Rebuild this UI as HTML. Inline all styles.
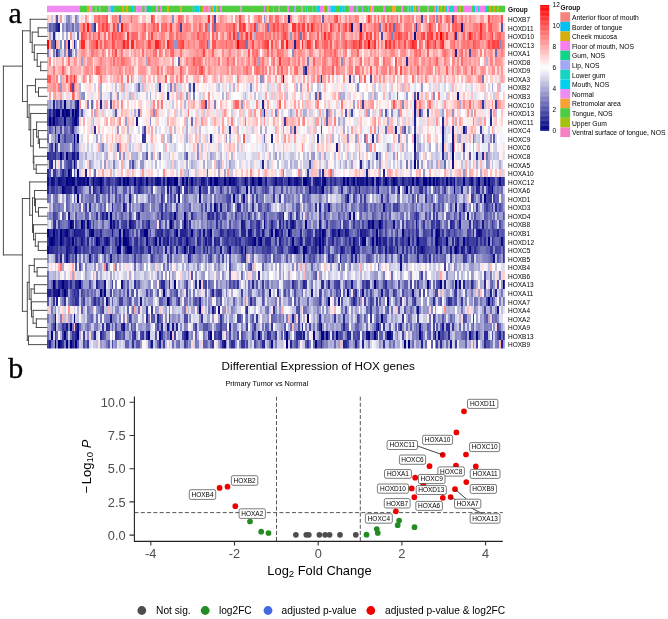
<!DOCTYPE html>
<html><head><meta charset="utf-8"><style>
html,body{margin:0;padding:0;background:#fff;overflow:hidden;}
svg{display:block;filter:blur(0.3px);}

</style></head><body>
<svg width="668" height="619" viewBox="0 0 668 619" style="font-family:'Liberation Sans',sans-serif">
<rect width="668" height="619" fill="#fff"/>
<text x="8.6" y="22.7" style="font-family:'Liberation Serif',serif" font-size="30" fill="#000" stroke="#000" stroke-width="0.35">a</text>
<text x="8.3" y="378" style="font-family:'Liberation Serif',serif" font-size="30" fill="#000" stroke="#000" stroke-width="0.35">b</text>
<rect x="47.0" y="5.7" width="32.9" height="6.5" fill="#EE8CF2"/><rect x="79.8" y="5.7" width="7.9" height="6.5" fill="#4FCC3F"/><rect x="87.5" y="5.7" width="1.9" height="6.5" fill="#D4AE0E"/><rect x="89.3" y="5.7" width="3.3" height="6.5" fill="#F77DF0"/><rect x="92.4" y="5.7" width="2.7" height="6.5" fill="#4FCC3F"/><rect x="95.0" y="5.7" width="1.4" height="6.5" fill="#F77DF0"/><rect x="96.3" y="5.7" width="2.9" height="6.5" fill="#4FCC3F"/><rect x="99.0" y="5.7" width="1.4" height="6.5" fill="#F77DF0"/><rect x="100.2" y="5.7" width="8.4" height="6.5" fill="#4FCC3F"/><rect x="108.5" y="5.7" width="2.1" height="6.5" fill="#F77DF0"/><rect x="110.5" y="5.7" width="3.9" height="6.5" fill="#00D2F0"/><rect x="114.2" y="5.7" width="7.9" height="6.5" fill="#4FCC3F"/><rect x="122.0" y="5.7" width="1.9" height="6.5" fill="#D4AE0E"/><rect x="123.8" y="5.7" width="2.1" height="6.5" fill="#4FCC3F"/><rect x="125.8" y="5.7" width="1.6" height="6.5" fill="#D4AE0E"/><rect x="127.3" y="5.7" width="3.9" height="6.5" fill="#4FCC3F"/><rect x="131.0" y="5.7" width="3.3" height="6.5" fill="#00D2F0"/><rect x="134.2" y="5.7" width="2.3" height="6.5" fill="#4FCC3F"/><rect x="136.3" y="5.7" width="6.0" height="6.5" fill="#F77DF0"/><rect x="142.2" y="5.7" width="2.6" height="6.5" fill="#4FCC3F"/><rect x="144.6" y="5.7" width="2.1" height="6.5" fill="#F77DF0"/><rect x="146.5" y="5.7" width="4.7" height="6.5" fill="#10D488"/><rect x="151.0" y="5.7" width="5.3" height="6.5" fill="#4FCC3F"/><rect x="156.2" y="5.7" width="2.0" height="6.5" fill="#F77DF0"/><rect x="158.0" y="5.7" width="2.1" height="6.5" fill="#4FCC3F"/><rect x="160.0" y="5.7" width="1.8" height="6.5" fill="#F77DF0"/><rect x="161.7" y="5.7" width="5.9" height="6.5" fill="#4FCC3F"/><rect x="167.4" y="5.7" width="1.7" height="6.5" fill="#D4AE0E"/><rect x="169.0" y="5.7" width="11.5" height="6.5" fill="#4FCC3F"/><rect x="180.3" y="5.7" width="1.8" height="6.5" fill="#D4AE0E"/><rect x="182.0" y="5.7" width="10.8" height="6.5" fill="#4FCC3F"/><rect x="192.7" y="5.7" width="2.0" height="6.5" fill="#00D2F0"/><rect x="194.5" y="5.7" width="1.6" height="6.5" fill="#4FCC3F"/><rect x="196.0" y="5.7" width="3.6" height="6.5" fill="#00D2F0"/><rect x="199.4" y="5.7" width="2.7" height="6.5" fill="#4FCC3F"/><rect x="202.0" y="5.7" width="1.1" height="6.5" fill="#D4AE0E"/><rect x="203.0" y="5.7" width="2.1" height="6.5" fill="#F77DF0"/><rect x="205.0" y="5.7" width="3.6" height="6.5" fill="#F8857C"/><rect x="208.5" y="5.7" width="2.1" height="6.5" fill="#F77DF0"/><rect x="210.5" y="5.7" width="1.6" height="6.5" fill="#4FCC3F"/><rect x="212.0" y="5.7" width="1.6" height="6.5" fill="#D4AE0E"/><rect x="213.5" y="5.7" width="1.6" height="6.5" fill="#00D2F0"/><rect x="215.0" y="5.7" width="1.6" height="6.5" fill="#4FCC3F"/><rect x="216.5" y="5.7" width="1.6" height="6.5" fill="#D4AE0E"/><rect x="218.0" y="5.7" width="2.1" height="6.5" fill="#4FCC3F"/><rect x="220.0" y="5.7" width="1.6" height="6.5" fill="#F77DF0"/><rect x="221.5" y="5.7" width="19.1" height="6.5" fill="#4FCC3F"/><rect x="240.5" y="5.7" width="1.3" height="6.5" fill="#F77DF0"/><rect x="241.7" y="5.7" width="22.5" height="6.5" fill="#4FCC3F"/><rect x="264.0" y="5.7" width="1.1" height="6.5" fill="#F77DF0"/><rect x="265.0" y="5.7" width="2.6" height="6.5" fill="#4FCC3F"/><rect x="267.5" y="5.7" width="1.5" height="6.5" fill="#D4AE0E"/><rect x="268.8" y="5.7" width="4.3" height="6.5" fill="#4FCC3F"/><rect x="273.0" y="5.7" width="1.1" height="6.5" fill="#F77DF0"/><rect x="274.0" y="5.7" width="4.8" height="6.5" fill="#4FCC3F"/><rect x="278.6" y="5.7" width="1.5" height="6.5" fill="#F77DF0"/><rect x="280.0" y="5.7" width="7.7" height="6.5" fill="#4FCC3F"/><rect x="287.5" y="5.7" width="1.6" height="6.5" fill="#F77DF0"/><rect x="289.0" y="5.7" width="5.2" height="6.5" fill="#4FCC3F"/><rect x="294.0" y="5.7" width="1.6" height="6.5" fill="#A2A8F5"/><rect x="295.5" y="5.7" width="6.2" height="6.5" fill="#4FCC3F"/><rect x="301.5" y="5.7" width="1.1" height="6.5" fill="#F77DF0"/><rect x="302.5" y="5.7" width="3.1" height="6.5" fill="#4FCC3F"/><rect x="305.5" y="5.7" width="2.1" height="6.5" fill="#10D488"/><rect x="307.5" y="5.7" width="3.6" height="6.5" fill="#4FCC3F"/><rect x="311.0" y="5.7" width="1.6" height="6.5" fill="#00D2F0"/><rect x="312.5" y="5.7" width="4.2" height="6.5" fill="#4FCC3F"/><rect x="316.5" y="5.7" width="3.6" height="6.5" fill="#00D2F0"/><rect x="320.0" y="5.7" width="3.6" height="6.5" fill="#F77DF0"/><rect x="323.5" y="5.7" width="1.6" height="6.5" fill="#D4AE0E"/><rect x="325.0" y="5.7" width="2.1" height="6.5" fill="#4FCC3F"/><rect x="327.0" y="5.7" width="1.6" height="6.5" fill="#A2A8F5"/><rect x="328.5" y="5.7" width="2.1" height="6.5" fill="#F77DF0"/><rect x="330.5" y="5.7" width="4.7" height="6.5" fill="#00D2F0"/><rect x="335.0" y="5.7" width="5.2" height="6.5" fill="#4FCC3F"/><rect x="340.0" y="5.7" width="2.8" height="6.5" fill="#00D2F0"/><rect x="342.7" y="5.7" width="1.8" height="6.5" fill="#4FCC3F"/><rect x="344.3" y="5.7" width="1.8" height="6.5" fill="#00D2F0"/><rect x="346.0" y="5.7" width="3.1" height="6.5" fill="#4FCC3F"/><rect x="349.0" y="5.7" width="5.2" height="6.5" fill="#F77DF0"/><rect x="354.0" y="5.7" width="2.1" height="6.5" fill="#4FCC3F"/><rect x="356.0" y="5.7" width="1.6" height="6.5" fill="#A2A8F5"/><rect x="357.5" y="5.7" width="4.7" height="6.5" fill="#4FCC3F"/><rect x="362.0" y="5.7" width="1.1" height="6.5" fill="#A2A8F5"/><rect x="363.0" y="5.7" width="5.7" height="6.5" fill="#4FCC3F"/><rect x="368.5" y="5.7" width="1.6" height="6.5" fill="#00D2F0"/><rect x="370.0" y="5.7" width="1.6" height="6.5" fill="#D4AE0E"/><rect x="371.5" y="5.7" width="2.1" height="6.5" fill="#F77DF0"/><rect x="373.5" y="5.7" width="10.2" height="6.5" fill="#4FCC3F"/><rect x="383.5" y="5.7" width="1.6" height="6.5" fill="#F77DF0"/><rect x="385.0" y="5.7" width="7.2" height="6.5" fill="#4FCC3F"/><rect x="392.0" y="5.7" width="4.2" height="6.5" fill="#F8A135"/><rect x="396.0" y="5.7" width="5.7" height="6.5" fill="#4FCC3F"/><rect x="401.5" y="5.7" width="1.6" height="6.5" fill="#F77DF0"/><rect x="403.0" y="5.7" width="4.2" height="6.5" fill="#4FCC3F"/><rect x="407.0" y="5.7" width="1.6" height="6.5" fill="#D4AE0E"/><rect x="408.5" y="5.7" width="2.1" height="6.5" fill="#00D2F0"/><rect x="410.5" y="5.7" width="1.6" height="6.5" fill="#4FCC3F"/><rect x="412.0" y="5.7" width="1.6" height="6.5" fill="#00D2F0"/><rect x="413.5" y="5.7" width="2.1" height="6.5" fill="#D4AE0E"/><rect x="415.5" y="5.7" width="2.6" height="6.5" fill="#4FCC3F"/><rect x="418.0" y="5.7" width="1.6" height="6.5" fill="#F77DF0"/><rect x="419.5" y="5.7" width="7.7" height="6.5" fill="#4FCC3F"/><rect x="427.0" y="5.7" width="1.6" height="6.5" fill="#F77DF0"/><rect x="428.5" y="5.7" width="5.7" height="6.5" fill="#4FCC3F"/><rect x="434.0" y="5.7" width="1.6" height="6.5" fill="#F8857C"/><rect x="435.5" y="5.7" width="1.6" height="6.5" fill="#00D2F0"/><rect x="437.0" y="5.7" width="1.6" height="6.5" fill="#F77DF0"/><rect x="438.5" y="5.7" width="1.6" height="6.5" fill="#4FCC3F"/><rect x="440.0" y="5.7" width="1.6" height="6.5" fill="#A4C20E"/><rect x="441.5" y="5.7" width="2.6" height="6.5" fill="#4FCC3F"/><rect x="444.0" y="5.7" width="2.1" height="6.5" fill="#D4AE0E"/><rect x="446.0" y="5.7" width="1.6" height="6.5" fill="#00D2F0"/><rect x="447.5" y="5.7" width="1.6" height="6.5" fill="#F77DF0"/><rect x="449.0" y="5.7" width="5.2" height="6.5" fill="#16D6C2"/><rect x="454.0" y="5.7" width="4.2" height="6.5" fill="#F77DF0"/><rect x="458.0" y="5.7" width="1.6" height="6.5" fill="#4FCC3F"/><rect x="459.5" y="5.7" width="1.6" height="6.5" fill="#D4AE0E"/><rect x="461.0" y="5.7" width="2.1" height="6.5" fill="#4FCC3F"/><rect x="463.0" y="5.7" width="9.2" height="6.5" fill="#F77DF0"/><rect x="472.0" y="5.7" width="2.1" height="6.5" fill="#4FCC3F"/><rect x="474.0" y="5.7" width="1.6" height="6.5" fill="#00D2F0"/><rect x="475.5" y="5.7" width="2.1" height="6.5" fill="#F77DF0"/><rect x="477.5" y="5.7" width="1.6" height="6.5" fill="#16D6C2"/><rect x="479.0" y="5.7" width="6.2" height="6.5" fill="#F77DF0"/><rect x="485.0" y="5.7" width="2.1" height="6.5" fill="#16D6C2"/><rect x="487.0" y="5.7" width="2.1" height="6.5" fill="#4FCC3F"/><rect x="489.0" y="5.7" width="2.1" height="6.5" fill="#D4AE0E"/><rect x="491.0" y="5.7" width="2.1" height="6.5" fill="#4FCC3F"/><rect x="493.0" y="5.7" width="2.1" height="6.5" fill="#D4AE0E"/><rect x="495.0" y="5.7" width="2.1" height="6.5" fill="#4FCC3F"/><rect x="497.0" y="5.7" width="2.1" height="6.5" fill="#A4C20E"/><rect x="499.0" y="5.7" width="6.0" height="6.5" fill="#4FCC3F"/>
<text x="508" y="12" font-size="6.6" font-weight="bold" fill="#111">Group</text>
<defs><filter id="bl" x="-0.01" y="-0.01" width="1.02" height="1.02"><feGaussianBlur stdDeviation="0.45 0.3"/></filter><clipPath id="hc"><rect x="47.00" y="14.60" width="457.80" height="333.90"/></clipPath></defs><g clip-path="url(#hc)"><g filter="url(#bl)"><g transform="translate(47.000 14.600) scale(1.89959 8.56154)" shape-rendering="crispEdges"><path fill="#000080" d="M11 3h1v1h-1zM9 10h1v1h-1zM5 11h2v1h-2zM8 11h1v1h-1zM10 11h1v1h-1zM13 11h1v1h-1zM15 11h1v1h-1zM1 12h1v1h-1zM3 12h1v1h-1zM9 12h1v1h-1zM15 12h1v1h-1zM14 14h1v1h-1zM16 14h1v1h-1zM193 14h1v1h-1zM7 16h1v1h-1zM10 16h1v1h-1zM213 16h1v1h-1zM14 17h1v1h-1zM193 17h1v1h-1zM11 18h1v1h-1zM16 18h1v1h-1zM10 19h1v1h-1zM13 19h1v1h-1zM21 19h1v1h-1zM24 19h1v1h-1zM28 19h1v1h-1zM40 19h1v1h-1zM42 19h1v1h-1zM46 19h1v1h-1zM52 19h1v1h-1zM63 19h1v1h-1zM67 19h2v1h-2zM71 19h1v1h-1zM73 19h1v1h-1zM76 19h1v1h-1zM86 19h1v1h-1zM88 19h2v1h-2zM93 19h1v1h-1zM96 19h1v1h-1zM104 19h1v1h-1zM108 19h1v1h-1zM111 19h2v1h-2zM127 19h1v1h-1zM135 19h2v1h-2zM146 19h1v1h-1zM156 19h1v1h-1zM158 19h1v1h-1zM161 19h1v1h-1zM168 19h1v1h-1zM171 19h1v1h-1zM174 19h1v1h-1zM178 19h1v1h-1zM182 19h1v1h-1zM192 19h1v1h-1zM198 19h2v1h-2zM201 19h1v1h-1zM203 19h1v1h-1zM210 19h1v1h-1zM219 19h1v1h-1zM227 19h1v1h-1zM230 19h1v1h-1zM232 19h1v1h-1zM8 20h1v1h-1zM15 20h1v1h-1zM80 20h1v1h-1zM105 20h1v1h-1zM145 20h1v1h-1zM189 20h1v1h-1zM214 20h1v1h-1zM234 20h1v1h-1zM16 21h1v1h-1zM98 21h1v1h-1zM230 21h1v1h-1zM88 22h1v1h-1zM33 23h1v1h-1zM67 23h1v1h-1zM72 23h1v1h-1zM12 24h1v1h-1zM18 24h1v1h-1zM21 24h1v1h-1zM33 24h1v1h-1zM65 24h1v1h-1zM72 24h1v1h-1zM114 24h1v1h-1zM136 24h1v1h-1zM171 24h1v1h-1zM175 24h1v1h-1zM0 25h1v1h-1zM3 25h1v1h-1zM7 25h1v1h-1zM10 25h1v1h-1zM23 25h2v1h-2zM38 25h1v1h-1zM40 25h1v1h-1zM51 25h2v1h-2zM68 25h1v1h-1zM76 25h1v1h-1zM86 25h1v1h-1zM118 25h1v1h-1zM120 25h1v1h-1zM127 25h1v1h-1zM145 25h1v1h-1zM153 25h1v1h-1zM173 25h1v1h-1zM187 25h1v1h-1zM205 25h1v1h-1zM2 26h1v1h-1zM7 26h1v1h-1zM13 26h1v1h-1zM26 26h1v1h-1zM38 26h1v1h-1zM40 26h2v1h-2zM57 26h1v1h-1zM109 26h1v1h-1zM112 26h1v1h-1zM129 26h1v1h-1zM143 26h1v1h-1zM166 26h2v1h-2zM171 26h1v1h-1zM173 26h1v1h-1zM190 26h1v1h-1zM195 26h1v1h-1zM205 26h1v1h-1zM210 26h1v1h-1zM219 26h1v1h-1zM232 26h1v1h-1zM15 27h1v1h-1zM29 27h1v1h-1zM37 27h2v1h-2zM42 27h3v1h-3zM72 27h1v1h-1zM77 27h1v1h-1zM96 27h1v1h-1zM104 27h1v1h-1zM130 27h1v1h-1zM135 27h1v1h-1zM143 27h1v1h-1zM161 27h1v1h-1zM215 27h1v1h-1zM3 31h1v1h-1zM8 31h1v1h-1zM17 31h1v1h-1zM67 31h1v1h-1zM172 31h1v1h-1zM200 31h1v1h-1zM207 31h1v1h-1zM215 31h1v1h-1zM240 31h1v1h-1zM6 32h1v1h-1zM9 32h1v1h-1zM28 32h1v1h-1zM30 32h1v1h-1zM61 32h1v1h-1zM158 32h1v1h-1zM63 33h1v1h-1zM148 33h1v1h-1zM232 33h1v1h-1zM80 34h1v1h-1zM14 35h1v1h-1zM137 35h1v1h-1zM176 35h1v1h-1zM4 36h1v1h-1zM12 36h1v1h-1zM144 36h1v1h-1zM174 36h1v1h-1zM2 37h1v1h-1zM9 37h1v1h-1zM16 37h1v1h-1zM53 37h1v1h-1zM59 37h1v1h-1zM73 37h1v1h-1zM86 37h1v1h-1zM111 37h1v1h-1zM126 37h1v1h-1zM140 37h1v1h-1zM144 37h2v1h-2zM147 37h1v1h-1zM152 37h1v1h-1zM169 37h1v1h-1zM172 37h1v1h-1zM179 37h2v1h-2zM196 37h1v1h-1zM206 37h1v1h-1zM226 37h1v1h-1zM4 38h1v1h-1zM6 38h1v1h-1zM10 38h1v1h-1zM12 38h1v1h-1zM15 38h1v1h-1zM126 38h1v1h-1zM141 38h1v1h-1zM188 38h1v1h-1zM190 38h1v1h-1z"/><path fill="#0b0b85" d="M165 1h1v1h-1zM193 2h1v1h-1zM16 10h1v1h-1zM11 11h1v1h-1zM14 12h1v1h-1zM6 14h1v1h-1zM4 15h1v1h-1zM193 15h1v1h-1zM0 19h1v1h-1zM2 19h1v1h-1zM6 19h1v1h-1zM11 19h2v1h-2zM14 19h1v1h-1zM17 19h1v1h-1zM19 19h1v1h-1zM38 19h1v1h-1zM49 19h1v1h-1zM58 19h1v1h-1zM64 19h1v1h-1zM98 19h1v1h-1zM120 19h1v1h-1zM131 19h1v1h-1zM145 19h1v1h-1zM163 19h1v1h-1zM173 19h1v1h-1zM194 19h2v1h-2zM205 19h1v1h-1zM214 19h1v1h-1zM223 19h1v1h-1zM238 19h1v1h-1zM174 20h1v1h-1zM69 21h1v1h-1zM80 21h1v1h-1zM103 21h1v1h-1zM148 22h1v1h-1zM177 22h1v1h-1zM159 23h1v1h-1zM161 23h1v1h-1zM221 23h1v1h-1zM43 24h1v1h-1zM129 24h1v1h-1zM169 24h1v1h-1zM182 24h1v1h-1zM14 25h1v1h-1zM34 25h1v1h-1zM82 25h1v1h-1zM206 25h1v1h-1zM227 25h1v1h-1zM1 26h1v1h-1zM3 26h1v1h-1zM31 26h1v1h-1zM42 26h1v1h-1zM52 26h1v1h-1zM59 26h1v1h-1zM73 26h1v1h-1zM145 26h1v1h-1zM161 26h1v1h-1zM239 26h1v1h-1zM0 27h1v1h-1zM54 27h1v1h-1zM131 27h1v1h-1zM136 27h1v1h-1zM184 27h1v1h-1zM197 27h1v1h-1zM222 27h1v1h-1zM10 28h1v1h-1zM74 28h1v1h-1zM154 28h1v1h-1zM235 28h1v1h-1zM186 29h1v1h-1zM30 31h1v1h-1zM39 31h1v1h-1zM80 31h1v1h-1zM217 31h1v1h-1zM166 32h1v1h-1zM192 32h1v1h-1zM31 33h1v1h-1zM179 33h1v1h-1zM90 34h1v1h-1zM195 34h1v1h-1zM16 36h1v1h-1zM40 36h1v1h-1zM63 36h1v1h-1zM65 37h1v1h-1zM168 37h1v1h-1zM204 37h1v1h-1zM222 37h1v1h-1zM93 38h1v1h-1zM118 38h1v1h-1z"/><path fill="#15158b" d="M127 0h1v1h-1zM6 1h1v1h-1zM160 1h1v1h-1zM218 1h1v1h-1zM4 3h1v1h-1zM124 7h1v1h-1zM216 9h1v1h-1zM193 10h1v1h-1zM3 11h1v1h-1zM9 11h1v1h-1zM16 11h1v1h-1zM193 11h1v1h-1zM47 12h1v1h-1zM208 13h1v1h-1zM219 13h1v1h-1zM208 14h1v1h-1zM213 14h1v1h-1zM152 15h1v1h-1zM208 15h1v1h-1zM213 15h1v1h-1zM13 16h2v1h-2zM16 16h1v1h-1zM213 17h1v1h-1zM3 19h1v1h-1zM7 19h1v1h-1zM16 19h1v1h-1zM18 19h1v1h-1zM27 19h1v1h-1zM41 19h1v1h-1zM57 19h1v1h-1zM59 19h1v1h-1zM61 19h1v1h-1zM65 19h1v1h-1zM81 19h2v1h-2zM97 19h1v1h-1zM115 19h1v1h-1zM130 19h1v1h-1zM141 19h2v1h-2zM165 19h2v1h-2zM183 19h1v1h-1zM187 19h1v1h-1zM212 19h1v1h-1zM9 20h1v1h-1zM24 20h1v1h-1zM28 20h1v1h-1zM63 20h1v1h-1zM69 20h1v1h-1zM138 20h1v1h-1zM164 20h1v1h-1zM185 20h1v1h-1zM43 21h1v1h-1zM158 21h1v1h-1zM40 22h1v1h-1zM91 22h1v1h-1zM215 22h1v1h-1zM219 22h1v1h-1zM11 23h1v1h-1zM31 23h1v1h-1zM124 23h1v1h-1zM13 24h1v1h-1zM35 24h1v1h-1zM102 24h1v1h-1zM143 24h1v1h-1zM194 24h1v1h-1zM217 24h1v1h-1zM229 24h1v1h-1zM9 25h1v1h-1zM22 25h1v1h-1zM106 25h2v1h-2zM113 25h1v1h-1zM121 25h1v1h-1zM143 25h1v1h-1zM146 25h1v1h-1zM150 25h1v1h-1zM157 25h1v1h-1zM165 25h1v1h-1zM228 25h1v1h-1zM11 26h1v1h-1zM18 26h1v1h-1zM27 26h1v1h-1zM63 26h1v1h-1zM83 26h1v1h-1zM108 26h1v1h-1zM111 26h1v1h-1zM122 26h1v1h-1zM133 26h1v1h-1zM141 26h1v1h-1zM175 26h1v1h-1zM204 26h1v1h-1zM216 26h1v1h-1zM10 27h1v1h-1zM62 27h1v1h-1zM68 27h1v1h-1zM91 27h1v1h-1zM102 27h1v1h-1zM155 27h1v1h-1zM160 27h1v1h-1zM178 27h1v1h-1zM205 27h1v1h-1zM207 27h1v1h-1zM212 27h1v1h-1zM218 27h1v1h-1zM22 28h1v1h-1zM33 28h1v1h-1zM135 28h1v1h-1zM186 28h1v1h-1zM160 31h1v1h-1zM3 32h3v1h-3zM117 32h1v1h-1zM139 32h1v1h-1zM176 32h1v1h-1zM49 33h1v1h-1zM153 33h1v1h-1zM87 34h1v1h-1zM237 34h1v1h-1zM4 35h1v1h-1zM33 35h1v1h-1zM10 36h1v1h-1zM66 36h1v1h-1zM196 36h1v1h-1zM208 36h1v1h-1zM135 37h1v1h-1zM7 38h1v1h-1zM55 38h1v1h-1zM212 38h1v1h-1z"/><path fill="#202090" d="M14 3h1v1h-1zM130 3h1v1h-1zM215 4h1v1h-1zM136 6h1v1h-1zM59 8h1v1h-1zM3 10h1v1h-1zM28 10h1v1h-1zM113 10h1v1h-1zM1 11h1v1h-1zM114 11h1v1h-1zM13 12h1v1h-1zM193 12h1v1h-1zM233 12h1v1h-1zM183 13h1v1h-1zM213 13h1v1h-1zM86 14h1v1h-1zM118 14h1v1h-1zM171 14h1v1h-1zM14 15h1v1h-1zM173 16h1v1h-1zM226 16h1v1h-1zM2 17h1v1h-1zM113 17h1v1h-1zM165 17h1v1h-1zM8 18h1v1h-1zM12 18h1v1h-1zM20 18h1v1h-1zM145 18h1v1h-1zM168 18h1v1h-1zM177 18h1v1h-1zM8 19h1v1h-1zM20 19h1v1h-1zM26 19h1v1h-1zM29 19h1v1h-1zM32 19h1v1h-1zM37 19h1v1h-1zM48 19h1v1h-1zM66 19h1v1h-1zM99 19h1v1h-1zM105 19h1v1h-1zM123 19h1v1h-1zM128 19h1v1h-1zM132 19h1v1h-1zM137 19h1v1h-1zM143 19h1v1h-1zM160 19h1v1h-1zM164 19h1v1h-1zM181 19h1v1h-1zM206 19h1v1h-1zM0 20h1v1h-1zM11 20h1v1h-1zM48 20h1v1h-1zM100 20h1v1h-1zM144 20h1v1h-1zM218 20h1v1h-1zM226 20h1v1h-1zM232 20h1v1h-1zM34 22h1v1h-1zM100 22h1v1h-1zM143 22h1v1h-1zM29 23h1v1h-1zM48 23h1v1h-1zM60 23h1v1h-1zM85 23h1v1h-1zM114 23h1v1h-1zM4 24h1v1h-1zM19 24h1v1h-1zM44 24h1v1h-1zM53 24h1v1h-1zM103 24h1v1h-1zM111 24h1v1h-1zM118 24h1v1h-1zM122 24h1v1h-1zM128 24h1v1h-1zM212 24h1v1h-1zM5 25h1v1h-1zM8 25h1v1h-1zM15 25h3v1h-3zM42 25h1v1h-1zM60 25h1v1h-1zM70 25h3v1h-3zM91 25h1v1h-1zM95 25h1v1h-1zM98 25h1v1h-1zM103 25h1v1h-1zM123 25h1v1h-1zM133 25h1v1h-1zM151 25h1v1h-1zM158 25h1v1h-1zM167 25h1v1h-1zM202 25h1v1h-1zM226 25h1v1h-1zM237 25h1v1h-1zM8 26h1v1h-1zM21 26h1v1h-1zM30 26h1v1h-1zM32 26h1v1h-1zM61 26h1v1h-1zM70 26h1v1h-1zM79 26h1v1h-1zM86 26h1v1h-1zM88 26h1v1h-1zM115 26h3v1h-3zM150 26h1v1h-1zM177 26h2v1h-2zM221 26h1v1h-1zM226 26h1v1h-1zM11 27h1v1h-1zM41 27h1v1h-1zM53 27h1v1h-1zM65 27h1v1h-1zM75 27h1v1h-1zM84 27h1v1h-1zM129 27h1v1h-1zM141 27h1v1h-1zM145 27h1v1h-1zM171 27h1v1h-1zM195 27h1v1h-1zM198 27h1v1h-1zM214 27h1v1h-1zM216 27h1v1h-1zM7 28h1v1h-1zM160 28h1v1h-1zM162 28h1v1h-1zM195 28h1v1h-1zM7 31h1v1h-1zM9 31h2v1h-2zM15 31h2v1h-2zM26 31h1v1h-1zM108 31h1v1h-1zM135 31h1v1h-1zM148 31h1v1h-1zM209 31h1v1h-1zM219 31h1v1h-1zM0 32h2v1h-2zM87 32h1v1h-1zM233 32h1v1h-1zM236 32h1v1h-1zM5 33h1v1h-1zM80 33h1v1h-1zM161 33h1v1h-1zM58 35h1v1h-1zM129 35h1v1h-1zM60 36h1v1h-1zM68 36h1v1h-1zM96 36h1v1h-1zM143 36h1v1h-1zM156 36h1v1h-1zM15 37h1v1h-1zM25 37h1v1h-1zM28 37h1v1h-1zM91 37h1v1h-1zM133 37h1v1h-1zM158 37h1v1h-1zM181 37h1v1h-1zM211 37h1v1h-1zM238 37h1v1h-1zM1 38h1v1h-1zM59 38h1v1h-1zM92 38h1v1h-1zM114 38h1v1h-1zM128 38h1v1h-1zM144 38h1v1h-1zM156 38h1v1h-1zM162 38h1v1h-1zM166 38h1v1h-1zM197 38h1v1h-1zM239 38h1v1h-1z"/><path fill="#2a2a95" d="M5 1h1v1h-1zM3 2h1v1h-1zM189 5h1v1h-1zM77 8h1v1h-1zM63 9h1v1h-1zM195 9h1v1h-1zM4 11h1v1h-1zM2 12h1v1h-1zM5 12h1v1h-1zM208 12h1v1h-1zM4 13h1v1h-1zM13 13h1v1h-1zM25 13h1v1h-1zM142 14h1v1h-1zM0 16h1v1h-1zM4 16h1v1h-1zM193 16h1v1h-1zM208 16h1v1h-1zM229 16h1v1h-1zM0 18h1v1h-1zM9 19h1v1h-1zM25 19h1v1h-1zM50 19h1v1h-1zM55 19h1v1h-1zM85 19h1v1h-1zM90 19h1v1h-1zM94 19h2v1h-2zM107 19h1v1h-1zM109 19h1v1h-1zM119 19h1v1h-1zM122 19h1v1h-1zM138 19h1v1h-1zM140 19h1v1h-1zM149 19h1v1h-1zM151 19h1v1h-1zM167 19h1v1h-1zM170 19h1v1h-1zM175 19h1v1h-1zM177 19h1v1h-1zM179 19h1v1h-1zM184 19h1v1h-1zM190 19h1v1h-1zM200 19h1v1h-1zM208 19h1v1h-1zM222 19h1v1h-1zM226 19h1v1h-1zM234 19h1v1h-1zM10 20h1v1h-1zM12 20h1v1h-1zM14 20h1v1h-1zM73 20h1v1h-1zM141 20h1v1h-1zM155 20h1v1h-1zM197 20h1v1h-1zM227 20h1v1h-1zM233 20h1v1h-1zM176 21h1v1h-1zM22 22h1v1h-1zM108 22h1v1h-1zM236 22h1v1h-1zM76 23h1v1h-1zM87 23h1v1h-1zM89 23h1v1h-1zM194 23h1v1h-1zM45 24h1v1h-1zM89 24h1v1h-1zM124 24h1v1h-1zM126 24h1v1h-1zM170 24h1v1h-1zM176 24h1v1h-1zM206 24h1v1h-1zM222 24h1v1h-1zM1 25h1v1h-1zM11 25h1v1h-1zM18 25h2v1h-2zM28 25h1v1h-1zM41 25h1v1h-1zM49 25h2v1h-2zM58 25h1v1h-1zM63 25h1v1h-1zM67 25h1v1h-1zM80 25h1v1h-1zM85 25h1v1h-1zM102 25h1v1h-1zM104 25h1v1h-1zM111 25h1v1h-1zM128 25h1v1h-1zM141 25h1v1h-1zM166 25h1v1h-1zM194 25h1v1h-1zM224 25h1v1h-1zM4 26h2v1h-2zM10 26h1v1h-1zM15 26h1v1h-1zM36 26h1v1h-1zM47 26h1v1h-1zM69 26h1v1h-1zM74 26h1v1h-1zM85 26h1v1h-1zM90 26h1v1h-1zM99 26h1v1h-1zM101 26h1v1h-1zM106 26h2v1h-2zM137 26h2v1h-2zM142 26h1v1h-1zM159 26h1v1h-1zM181 26h1v1h-1zM183 26h1v1h-1zM187 26h1v1h-1zM206 26h1v1h-1zM213 26h1v1h-1zM230 26h1v1h-1zM234 26h1v1h-1zM1 27h2v1h-2zM14 27h1v1h-1zM49 27h1v1h-1zM123 27h1v1h-1zM128 27h1v1h-1zM175 27h1v1h-1zM180 27h2v1h-2zM187 27h1v1h-1zM196 27h1v1h-1zM219 27h1v1h-1zM225 27h1v1h-1zM15 28h1v1h-1zM104 28h1v1h-1zM148 28h1v1h-1zM201 28h1v1h-1zM111 30h1v1h-1zM4 31h1v1h-1zM6 31h1v1h-1zM12 31h1v1h-1zM46 31h1v1h-1zM60 31h2v1h-2zM64 31h1v1h-1zM78 31h1v1h-1zM129 31h1v1h-1zM145 31h1v1h-1zM168 31h1v1h-1zM178 31h1v1h-1zM223 31h1v1h-1zM230 31h1v1h-1zM8 32h1v1h-1zM10 32h1v1h-1zM14 32h1v1h-1zM16 32h1v1h-1zM121 32h1v1h-1zM162 32h1v1h-1zM15 33h1v1h-1zM25 33h1v1h-1zM64 33h1v1h-1zM107 33h1v1h-1zM203 33h1v1h-1zM211 33h1v1h-1zM234 33h1v1h-1zM105 34h1v1h-1zM52 35h1v1h-1zM143 35h1v1h-1zM156 35h1v1h-1zM31 36h1v1h-1zM39 36h1v1h-1zM134 36h1v1h-1zM173 36h1v1h-1zM186 36h1v1h-1zM210 36h2v1h-2zM46 37h1v1h-1zM52 37h1v1h-1zM72 37h1v1h-1zM85 37h1v1h-1zM116 37h1v1h-1zM131 37h2v1h-2zM159 37h1v1h-1zM230 37h2v1h-2zM13 38h1v1h-1zM97 38h1v1h-1zM113 38h1v1h-1zM157 38h1v1h-1zM207 38h1v1h-1zM230 38h1v1h-1z"/><path fill="#35359a" d="M25 1h1v1h-1zM215 2h1v1h-1zM5 4h1v1h-1zM144 7h1v1h-1zM159 7h1v1h-1zM15 10h1v1h-1zM229 10h1v1h-1zM196 11h1v1h-1zM4 12h1v1h-1zM16 12h1v1h-1zM125 12h1v1h-1zM96 13h1v1h-1zM130 13h1v1h-1zM193 13h1v1h-1zM50 14h2v1h-2zM2 15h1v1h-1zM219 15h1v1h-1zM1 16h1v1h-1zM3 16h1v1h-1zM1 17h1v1h-1zM12 17h1v1h-1zM3 18h2v1h-2zM137 18h1v1h-1zM5 19h1v1h-1zM23 19h1v1h-1zM31 19h1v1h-1zM36 19h1v1h-1zM43 19h1v1h-1zM75 19h1v1h-1zM78 19h1v1h-1zM83 19h1v1h-1zM87 19h1v1h-1zM91 19h2v1h-2zM103 19h1v1h-1zM110 19h1v1h-1zM121 19h1v1h-1zM129 19h1v1h-1zM133 19h1v1h-1zM157 19h1v1h-1zM169 19h1v1h-1zM188 19h1v1h-1zM191 19h1v1h-1zM196 19h1v1h-1zM202 19h1v1h-1zM213 19h1v1h-1zM231 19h1v1h-1zM233 19h1v1h-1zM235 19h1v1h-1zM240 19h1v1h-1zM2 20h2v1h-2zM25 20h1v1h-1zM65 20h1v1h-1zM72 20h1v1h-1zM91 20h1v1h-1zM107 20h1v1h-1zM143 20h1v1h-1zM162 20h1v1h-1zM196 20h1v1h-1zM209 20h1v1h-1zM60 21h1v1h-1zM119 21h1v1h-1zM122 21h1v1h-1zM167 21h1v1h-1zM199 21h1v1h-1zM223 21h1v1h-1zM228 21h1v1h-1zM233 21h1v1h-1zM60 22h1v1h-1zM89 22h1v1h-1zM101 22h1v1h-1zM141 22h1v1h-1zM184 22h1v1h-1zM203 22h1v1h-1zM226 22h1v1h-1zM231 22h1v1h-1zM26 23h1v1h-1zM65 23h1v1h-1zM106 23h1v1h-1zM128 23h1v1h-1zM131 23h1v1h-1zM217 23h1v1h-1zM3 24h1v1h-1zM22 24h1v1h-1zM37 24h1v1h-1zM41 24h1v1h-1zM75 24h1v1h-1zM110 24h1v1h-1zM130 24h1v1h-1zM147 24h1v1h-1zM161 24h1v1h-1zM174 24h1v1h-1zM198 24h1v1h-1zM202 24h1v1h-1zM205 24h1v1h-1zM213 24h1v1h-1zM224 24h1v1h-1zM226 24h1v1h-1zM234 24h1v1h-1zM2 25h1v1h-1zM4 25h1v1h-1zM59 25h1v1h-1zM73 25h1v1h-1zM84 25h1v1h-1zM92 25h1v1h-1zM96 25h1v1h-1zM110 25h1v1h-1zM137 25h2v1h-2zM154 25h2v1h-2zM168 25h1v1h-1zM175 25h1v1h-1zM184 25h1v1h-1zM195 25h1v1h-1zM204 25h1v1h-1zM208 25h1v1h-1zM211 25h1v1h-1zM214 25h1v1h-1zM0 26h1v1h-1zM12 26h1v1h-1zM19 26h1v1h-1zM46 26h1v1h-1zM49 26h1v1h-1zM56 26h1v1h-1zM62 26h1v1h-1zM65 26h1v1h-1zM67 26h1v1h-1zM80 26h1v1h-1zM89 26h1v1h-1zM94 26h2v1h-2zM120 26h1v1h-1zM136 26h1v1h-1zM140 26h1v1h-1zM146 26h1v1h-1zM162 26h1v1h-1zM165 26h1v1h-1zM174 26h1v1h-1zM184 26h1v1h-1zM192 26h1v1h-1zM194 26h1v1h-1zM196 26h1v1h-1zM198 26h2v1h-2zM207 26h1v1h-1zM215 26h1v1h-1zM224 26h1v1h-1zM228 26h1v1h-1zM3 27h1v1h-1zM5 27h1v1h-1zM12 27h1v1h-1zM16 27h2v1h-2zM19 27h1v1h-1zM23 27h1v1h-1zM47 27h1v1h-1zM50 27h1v1h-1zM76 27h1v1h-1zM82 27h1v1h-1zM95 27h1v1h-1zM116 27h2v1h-2zM139 27h2v1h-2zM154 27h1v1h-1zM156 27h1v1h-1zM163 27h1v1h-1zM174 27h1v1h-1zM189 27h1v1h-1zM193 27h1v1h-1zM221 27h1v1h-1zM233 27h2v1h-2zM240 27h1v1h-1zM5 28h1v1h-1zM46 28h1v1h-1zM55 28h1v1h-1zM75 28h1v1h-1zM150 28h1v1h-1zM219 28h1v1h-1zM240 28h1v1h-1zM100 31h1v1h-1zM113 31h1v1h-1zM136 31h1v1h-1zM144 31h1v1h-1zM153 31h1v1h-1zM169 31h1v1h-1zM42 32h1v1h-1zM90 32h1v1h-1zM182 32h1v1h-1zM215 32h1v1h-1zM3 33h1v1h-1zM9 33h1v1h-1zM16 33h1v1h-1zM69 33h1v1h-1zM173 33h1v1h-1zM186 33h1v1h-1zM193 33h1v1h-1zM212 33h1v1h-1zM218 33h1v1h-1zM52 34h1v1h-1zM55 34h1v1h-1zM119 34h1v1h-1zM170 34h1v1h-1zM81 35h1v1h-1zM91 35h1v1h-1zM110 35h1v1h-1zM151 35h1v1h-1zM170 35h1v1h-1zM187 35h1v1h-1zM224 35h1v1h-1zM8 36h1v1h-1zM15 36h1v1h-1zM29 36h1v1h-1zM32 36h1v1h-1zM91 36h1v1h-1zM109 36h1v1h-1zM118 36h1v1h-1zM177 36h1v1h-1zM213 36h1v1h-1zM13 37h1v1h-1zM36 37h1v1h-1zM50 37h1v1h-1zM60 37h1v1h-1zM90 37h1v1h-1zM108 37h1v1h-1zM117 37h1v1h-1zM120 37h1v1h-1zM150 37h1v1h-1zM240 37h1v1h-1zM8 38h1v1h-1zM21 38h1v1h-1zM45 38h1v1h-1zM87 38h1v1h-1zM98 38h1v1h-1zM102 38h2v1h-2zM137 38h1v1h-1zM177 38h1v1h-1z"/><path fill="#4040a0" d="M213 0h1v1h-1zM70 1h1v1h-1zM194 1h1v1h-1zM11 4h1v1h-1zM166 10h1v1h-1zM236 10h1v1h-1zM200 11h1v1h-1zM6 12h1v1h-1zM51 13h1v1h-1zM228 13h1v1h-1zM9 14h1v1h-1zM2 16h1v1h-1zM8 16h1v1h-1zM15 16h1v1h-1zM11 17h1v1h-1zM1 19h1v1h-1zM15 19h1v1h-1zM34 19h1v1h-1zM44 19h2v1h-2zM47 19h1v1h-1zM53 19h1v1h-1zM72 19h1v1h-1zM77 19h1v1h-1zM80 19h1v1h-1zM100 19h1v1h-1zM118 19h1v1h-1zM125 19h2v1h-2zM147 19h1v1h-1zM154 19h2v1h-2zM159 19h1v1h-1zM162 19h1v1h-1zM186 19h1v1h-1zM189 19h1v1h-1zM204 19h1v1h-1zM211 19h1v1h-1zM216 19h1v1h-1zM224 19h1v1h-1zM237 19h1v1h-1zM239 19h1v1h-1zM22 20h1v1h-1zM29 20h1v1h-1zM32 20h1v1h-1zM34 20h1v1h-1zM36 20h1v1h-1zM49 20h1v1h-1zM68 20h1v1h-1zM76 20h1v1h-1zM83 20h1v1h-1zM109 20h1v1h-1zM115 20h1v1h-1zM140 20h1v1h-1zM159 20h1v1h-1zM191 20h1v1h-1zM26 21h1v1h-1zM67 21h1v1h-1zM96 21h1v1h-1zM110 21h1v1h-1zM161 21h1v1h-1zM232 21h1v1h-1zM235 21h1v1h-1zM20 22h1v1h-1zM50 22h1v1h-1zM68 22h1v1h-1zM83 22h1v1h-1zM86 22h1v1h-1zM95 22h1v1h-1zM167 22h1v1h-1zM182 22h1v1h-1zM234 22h1v1h-1zM3 23h1v1h-1zM43 23h1v1h-1zM84 23h1v1h-1zM86 23h1v1h-1zM99 23h1v1h-1zM122 23h1v1h-1zM195 23h1v1h-1zM203 23h1v1h-1zM205 23h1v1h-1zM6 24h1v1h-1zM11 24h1v1h-1zM15 24h1v1h-1zM24 24h1v1h-1zM34 24h1v1h-1zM40 24h1v1h-1zM46 24h1v1h-1zM52 24h1v1h-1zM59 24h1v1h-1zM66 24h1v1h-1zM107 24h1v1h-1zM154 24h1v1h-1zM156 24h1v1h-1zM166 24h1v1h-1zM187 24h1v1h-1zM203 24h1v1h-1zM13 25h1v1h-1zM62 25h1v1h-1zM97 25h1v1h-1zM117 25h1v1h-1zM142 25h1v1h-1zM152 25h1v1h-1zM163 25h1v1h-1zM190 25h1v1h-1zM198 25h1v1h-1zM221 25h1v1h-1zM235 25h1v1h-1zM6 26h1v1h-1zM9 26h1v1h-1zM17 26h1v1h-1zM43 26h1v1h-1zM72 26h1v1h-1zM75 26h1v1h-1zM93 26h1v1h-1zM97 26h1v1h-1zM100 26h1v1h-1zM104 26h2v1h-2zM132 26h1v1h-1zM134 26h1v1h-1zM152 26h1v1h-1zM157 26h1v1h-1zM163 26h1v1h-1zM176 26h1v1h-1zM180 26h1v1h-1zM186 26h1v1h-1zM189 26h1v1h-1zM197 26h1v1h-1zM220 26h1v1h-1zM222 26h2v1h-2zM225 26h1v1h-1zM4 27h1v1h-1zM7 27h1v1h-1zM24 27h1v1h-1zM46 27h1v1h-1zM71 27h1v1h-1zM73 27h1v1h-1zM88 27h1v1h-1zM101 27h1v1h-1zM108 27h1v1h-1zM113 27h1v1h-1zM122 27h1v1h-1zM127 27h1v1h-1zM132 27h1v1h-1zM144 27h1v1h-1zM148 27h1v1h-1zM162 27h1v1h-1zM164 27h1v1h-1zM191 27h1v1h-1zM199 27h1v1h-1zM204 27h1v1h-1zM210 27h1v1h-1zM236 27h1v1h-1zM11 28h1v1h-1zM63 28h1v1h-1zM86 28h1v1h-1zM92 28h1v1h-1zM103 28h1v1h-1zM199 28h1v1h-1zM212 28h1v1h-1zM220 28h1v1h-1zM224 28h1v1h-1zM31 29h1v1h-1zM96 29h1v1h-1zM209 29h1v1h-1zM197 30h1v1h-1zM34 31h1v1h-1zM73 31h1v1h-1zM83 31h1v1h-1zM152 31h1v1h-1zM166 31h1v1h-1zM191 31h1v1h-1zM195 31h1v1h-1zM206 31h1v1h-1zM15 32h1v1h-1zM33 32h1v1h-1zM52 32h1v1h-1zM68 32h1v1h-1zM73 32h1v1h-1zM91 32h1v1h-1zM102 32h1v1h-1zM143 32h1v1h-1zM154 32h1v1h-1zM179 32h1v1h-1zM19 33h1v1h-1zM27 33h1v1h-1zM38 33h2v1h-2zM143 33h1v1h-1zM167 33h1v1h-1zM170 33h1v1h-1zM29 34h1v1h-1zM43 35h1v1h-1zM64 35h1v1h-1zM100 35h1v1h-1zM163 35h1v1h-1zM195 35h1v1h-1zM203 35h1v1h-1zM3 36h1v1h-1zM58 36h1v1h-1zM78 36h1v1h-1zM105 36h1v1h-1zM237 36h1v1h-1zM4 37h1v1h-1zM8 37h1v1h-1zM19 37h1v1h-1zM37 37h1v1h-1zM45 37h1v1h-1zM88 37h1v1h-1zM154 37h1v1h-1zM163 37h2v1h-2zM173 37h1v1h-1zM187 37h1v1h-1zM197 37h1v1h-1zM208 37h1v1h-1zM0 38h1v1h-1zM61 38h1v1h-1zM72 38h1v1h-1zM131 38h1v1h-1zM205 38h1v1h-1zM215 38h1v1h-1z"/><path fill="#4a4aa5" d="M88 0h1v1h-1zM197 0h1v1h-1zM4 1h1v1h-1zM176 2h1v1h-1zM222 4h1v1h-1zM170 7h1v1h-1zM13 8h1v1h-1zM7 10h1v1h-1zM33 10h1v1h-1zM83 10h1v1h-1zM14 11h1v1h-1zM48 11h1v1h-1zM160 11h1v1h-1zM233 11h1v1h-1zM0 12h1v1h-1zM7 12h1v1h-1zM12 12h1v1h-1zM7 13h1v1h-1zM12 13h1v1h-1zM144 13h1v1h-1zM229 14h1v1h-1zM37 15h1v1h-1zM11 16h2v1h-2zM45 17h1v1h-1zM138 17h1v1h-1zM195 17h1v1h-1zM9 18h1v1h-1zM4 19h1v1h-1zM33 19h1v1h-1zM39 19h1v1h-1zM51 19h1v1h-1zM54 19h1v1h-1zM56 19h1v1h-1zM102 19h1v1h-1zM113 19h2v1h-2zM150 19h1v1h-1zM152 19h1v1h-1zM193 19h1v1h-1zM197 19h1v1h-1zM207 19h1v1h-1zM209 19h1v1h-1zM217 19h1v1h-1zM229 19h1v1h-1zM5 20h1v1h-1zM16 20h1v1h-1zM46 20h1v1h-1zM55 20h1v1h-1zM82 20h1v1h-1zM84 20h1v1h-1zM87 20h1v1h-1zM99 20h1v1h-1zM119 20h1v1h-1zM123 20h1v1h-1zM139 20h1v1h-1zM149 20h1v1h-1zM173 20h1v1h-1zM199 20h1v1h-1zM204 20h1v1h-1zM224 20h1v1h-1zM229 20h1v1h-1zM32 21h1v1h-1zM36 21h1v1h-1zM65 21h1v1h-1zM95 21h1v1h-1zM108 21h1v1h-1zM157 21h1v1h-1zM165 21h1v1h-1zM179 21h1v1h-1zM192 21h1v1h-1zM224 21h1v1h-1zM231 21h1v1h-1zM41 22h1v1h-1zM62 22h1v1h-1zM111 22h1v1h-1zM116 22h1v1h-1zM183 22h1v1h-1zM238 22h1v1h-1zM4 23h1v1h-1zM30 23h1v1h-1zM47 23h1v1h-1zM64 23h1v1h-1zM90 23h1v1h-1zM93 23h1v1h-1zM143 23h1v1h-1zM146 23h1v1h-1zM176 23h1v1h-1zM193 23h1v1h-1zM199 23h1v1h-1zM214 23h1v1h-1zM225 23h1v1h-1zM39 24h1v1h-1zM50 24h1v1h-1zM64 24h1v1h-1zM73 24h1v1h-1zM91 24h1v1h-1zM96 24h1v1h-1zM157 24h1v1h-1zM164 24h1v1h-1zM172 24h2v1h-2zM178 24h1v1h-1zM189 24h1v1h-1zM214 24h1v1h-1zM238 24h1v1h-1zM6 25h1v1h-1zM26 25h1v1h-1zM47 25h1v1h-1zM54 25h1v1h-1zM57 25h1v1h-1zM64 25h1v1h-1zM75 25h1v1h-1zM99 25h1v1h-1zM114 25h1v1h-1zM122 25h1v1h-1zM139 25h1v1h-1zM144 25h1v1h-1zM149 25h1v1h-1zM156 25h1v1h-1zM169 25h1v1h-1zM171 25h1v1h-1zM178 25h1v1h-1zM192 25h1v1h-1zM199 25h1v1h-1zM210 25h1v1h-1zM222 25h1v1h-1zM229 25h2v1h-2zM232 25h1v1h-1zM236 25h1v1h-1zM25 26h1v1h-1zM28 26h1v1h-1zM37 26h1v1h-1zM44 26h1v1h-1zM53 26h1v1h-1zM82 26h1v1h-1zM98 26h1v1h-1zM123 26h2v1h-2zM126 26h1v1h-1zM128 26h1v1h-1zM144 26h1v1h-1zM148 26h2v1h-2zM170 26h1v1h-1zM202 26h1v1h-1zM209 26h1v1h-1zM240 26h1v1h-1zM13 27h1v1h-1zM20 27h2v1h-2zM25 27h2v1h-2zM30 27h1v1h-1zM58 27h1v1h-1zM86 27h1v1h-1zM114 27h2v1h-2zM121 27h1v1h-1zM137 27h1v1h-1zM152 27h1v1h-1zM176 27h1v1h-1zM182 27h1v1h-1zM200 27h1v1h-1zM223 27h1v1h-1zM226 27h1v1h-1zM237 27h2v1h-2zM26 28h1v1h-1zM65 28h1v1h-1zM102 28h1v1h-1zM138 28h1v1h-1zM140 28h1v1h-1zM169 28h1v1h-1zM178 28h1v1h-1zM188 28h2v1h-2zM198 28h1v1h-1zM17 29h1v1h-1zM107 29h1v1h-1zM230 30h1v1h-1zM22 31h1v1h-1zM96 31h1v1h-1zM98 31h1v1h-1zM151 31h1v1h-1zM157 31h1v1h-1zM177 31h1v1h-1zM185 31h1v1h-1zM237 31h1v1h-1zM2 32h1v1h-1zM13 32h1v1h-1zM18 32h1v1h-1zM89 32h1v1h-1zM125 32h1v1h-1zM130 32h1v1h-1zM152 32h1v1h-1zM170 32h1v1h-1zM187 32h1v1h-1zM196 32h1v1h-1zM198 32h1v1h-1zM204 32h2v1h-2zM214 32h1v1h-1zM13 33h1v1h-1zM24 33h1v1h-1zM43 33h1v1h-1zM78 33h1v1h-1zM162 33h1v1h-1zM215 33h1v1h-1zM231 33h1v1h-1zM132 34h1v1h-1zM157 34h1v1h-1zM230 34h1v1h-1zM72 35h2v1h-2zM101 35h1v1h-1zM132 35h1v1h-1zM219 35h1v1h-1zM9 36h1v1h-1zM44 36h1v1h-1zM84 36h1v1h-1zM132 36h1v1h-1zM138 36h1v1h-1zM203 36h1v1h-1zM14 37h1v1h-1zM29 37h1v1h-1zM40 37h1v1h-1zM49 37h1v1h-1zM67 37h1v1h-1zM71 37h1v1h-1zM96 37h1v1h-1zM100 37h1v1h-1zM102 37h1v1h-1zM112 37h1v1h-1zM148 37h1v1h-1zM161 37h1v1h-1zM203 37h1v1h-1zM207 37h1v1h-1zM220 37h1v1h-1zM223 37h1v1h-1zM234 37h1v1h-1zM237 37h1v1h-1zM19 38h1v1h-1zM34 38h1v1h-1zM105 38h1v1h-1zM109 38h1v1h-1zM158 38h1v1h-1zM226 38h1v1h-1z"/><path fill="#5555aa" d="M5 0h1v1h-1zM239 1h1v1h-1zM3 3h1v1h-1zM12 4h1v1h-1zM143 9h1v1h-1zM193 9h1v1h-1zM0 11h1v1h-1zM2 11h1v1h-1zM18 11h1v1h-1zM36 11h1v1h-1zM157 11h1v1h-1zM178 11h1v1h-1zM8 12h1v1h-1zM11 12h1v1h-1zM1 13h1v1h-1zM188 13h1v1h-1zM235 14h1v1h-1zM5 15h1v1h-1zM6 16h1v1h-1zM52 16h1v1h-1zM73 16h1v1h-1zM222 16h1v1h-1zM4 17h1v1h-1zM10 17h1v1h-1zM15 17h1v1h-1zM1 18h1v1h-1zM7 18h1v1h-1zM35 19h1v1h-1zM60 19h1v1h-1zM62 19h1v1h-1zM70 19h1v1h-1zM79 19h1v1h-1zM117 19h1v1h-1zM124 19h1v1h-1zM148 19h1v1h-1zM153 19h1v1h-1zM180 19h1v1h-1zM185 19h1v1h-1zM218 19h1v1h-1zM220 19h2v1h-2zM228 19h1v1h-1zM7 20h1v1h-1zM17 20h1v1h-1zM26 20h1v1h-1zM30 20h1v1h-1zM40 20h2v1h-2zM43 20h1v1h-1zM47 20h1v1h-1zM50 20h1v1h-1zM75 20h1v1h-1zM86 20h1v1h-1zM95 20h1v1h-1zM97 20h1v1h-1zM113 20h1v1h-1zM116 20h1v1h-1zM142 20h1v1h-1zM168 20h1v1h-1zM171 20h1v1h-1zM181 20h2v1h-2zM188 20h1v1h-1zM206 20h1v1h-1zM231 20h1v1h-1zM38 21h1v1h-1zM94 21h1v1h-1zM195 21h1v1h-1zM43 22h1v1h-1zM59 22h1v1h-1zM75 22h1v1h-1zM81 22h1v1h-1zM112 22h1v1h-1zM131 22h2v1h-2zM206 22h1v1h-1zM208 22h1v1h-1zM212 22h1v1h-1zM230 22h1v1h-1zM232 22h1v1h-1zM5 23h1v1h-1zM8 23h1v1h-1zM15 23h1v1h-1zM20 23h1v1h-1zM28 23h1v1h-1zM39 23h1v1h-1zM62 23h1v1h-1zM66 23h1v1h-1zM92 23h1v1h-1zM102 23h1v1h-1zM109 23h1v1h-1zM123 23h1v1h-1zM171 23h1v1h-1zM180 23h1v1h-1zM201 23h1v1h-1zM230 23h1v1h-1zM240 23h1v1h-1zM36 24h1v1h-1zM62 24h1v1h-1zM71 24h1v1h-1zM104 24h1v1h-1zM108 24h1v1h-1zM119 24h1v1h-1zM150 24h1v1h-1zM158 24h1v1h-1zM192 24h1v1h-1zM225 24h1v1h-1zM12 25h1v1h-1zM25 25h1v1h-1zM27 25h1v1h-1zM45 25h1v1h-1zM79 25h1v1h-1zM93 25h2v1h-2zM100 25h1v1h-1zM108 25h1v1h-1zM172 25h1v1h-1zM176 25h1v1h-1zM188 25h1v1h-1zM200 25h1v1h-1zM215 25h1v1h-1zM234 25h1v1h-1zM239 25h2v1h-2zM14 26h1v1h-1zM16 26h1v1h-1zM23 26h1v1h-1zM29 26h1v1h-1zM39 26h1v1h-1zM50 26h1v1h-1zM55 26h1v1h-1zM66 26h1v1h-1zM71 26h1v1h-1zM76 26h2v1h-2zM84 26h1v1h-1zM92 26h1v1h-1zM96 26h1v1h-1zM110 26h1v1h-1zM113 26h1v1h-1zM131 26h1v1h-1zM153 26h1v1h-1zM188 26h1v1h-1zM208 26h1v1h-1zM229 26h1v1h-1zM235 26h1v1h-1zM238 26h1v1h-1zM6 27h1v1h-1zM8 27h2v1h-2zM27 27h2v1h-2zM34 27h1v1h-1zM36 27h1v1h-1zM40 27h1v1h-1zM48 27h1v1h-1zM56 27h1v1h-1zM80 27h1v1h-1zM99 27h1v1h-1zM110 27h1v1h-1zM158 27h1v1h-1zM172 27h1v1h-1zM201 27h2v1h-2zM4 28h1v1h-1zM9 28h1v1h-1zM13 28h1v1h-1zM30 28h1v1h-1zM37 28h1v1h-1zM49 28h1v1h-1zM85 28h1v1h-1zM90 28h1v1h-1zM96 28h1v1h-1zM115 28h1v1h-1zM119 28h1v1h-1zM126 28h1v1h-1zM164 28h1v1h-1zM168 28h1v1h-1zM203 28h1v1h-1zM209 28h1v1h-1zM223 28h1v1h-1zM234 28h1v1h-1zM237 28h1v1h-1zM15 29h1v1h-1zM76 30h1v1h-1zM141 30h1v1h-1zM11 31h1v1h-1zM27 31h1v1h-1zM48 31h1v1h-1zM82 31h1v1h-1zM110 31h1v1h-1zM130 31h1v1h-1zM167 31h1v1h-1zM205 31h1v1h-1zM224 31h1v1h-1zM7 32h1v1h-1zM29 32h1v1h-1zM45 32h1v1h-1zM54 32h1v1h-1zM58 32h1v1h-1zM113 32h1v1h-1zM144 32h1v1h-1zM161 32h1v1h-1zM178 32h1v1h-1zM183 32h1v1h-1zM0 33h1v1h-1zM14 33h1v1h-1zM29 33h1v1h-1zM59 33h1v1h-1zM91 33h1v1h-1zM109 33h1v1h-1zM113 33h1v1h-1zM130 33h1v1h-1zM155 33h1v1h-1zM160 33h1v1h-1zM164 33h1v1h-1zM171 33h1v1h-1zM175 33h1v1h-1zM192 33h1v1h-1zM207 33h1v1h-1zM214 33h1v1h-1zM88 34h1v1h-1zM131 34h1v1h-1zM179 34h1v1h-1zM185 34h1v1h-1zM188 34h1v1h-1zM55 35h2v1h-2zM59 35h1v1h-1zM108 35h1v1h-1zM173 35h1v1h-1zM208 35h1v1h-1zM220 35h1v1h-1zM231 35h1v1h-1zM36 36h1v1h-1zM82 36h2v1h-2zM94 36h1v1h-1zM125 36h1v1h-1zM185 36h1v1h-1zM200 36h1v1h-1zM205 36h1v1h-1zM38 37h1v1h-1zM57 37h1v1h-1zM74 37h1v1h-1zM89 37h1v1h-1zM125 37h1v1h-1zM146 37h1v1h-1zM153 37h1v1h-1zM155 37h1v1h-1zM162 37h1v1h-1zM166 37h1v1h-1zM171 37h1v1h-1zM178 37h1v1h-1zM201 37h1v1h-1zM14 38h1v1h-1zM32 38h1v1h-1zM47 38h2v1h-2zM54 38h1v1h-1zM136 38h1v1h-1zM143 38h1v1h-1zM231 38h2v1h-2z"/><path fill="#6060b0" d="M145 0h1v1h-1zM1 1h1v1h-1zM3 1h1v1h-1zM16 2h1v1h-1zM69 5h1v1h-1zM135 6h1v1h-1zM48 8h1v1h-1zM141 9h1v1h-1zM7 11h1v1h-1zM12 11h1v1h-1zM147 11h1v1h-1zM10 12h1v1h-1zM147 12h1v1h-1zM9 13h1v1h-1zM220 13h1v1h-1zM1 15h1v1h-1zM5 16h1v1h-1zM10 18h1v1h-1zM14 18h1v1h-1zM84 18h1v1h-1zM22 19h1v1h-1zM30 19h1v1h-1zM101 19h1v1h-1zM106 19h1v1h-1zM116 19h1v1h-1zM144 19h1v1h-1zM176 19h1v1h-1zM225 19h1v1h-1zM1 20h1v1h-1zM4 20h1v1h-1zM60 20h2v1h-2zM98 20h1v1h-1zM101 20h1v1h-1zM114 20h1v1h-1zM131 20h1v1h-1zM163 20h1v1h-1zM179 20h1v1h-1zM10 21h1v1h-1zM14 21h1v1h-1zM27 21h1v1h-1zM40 21h1v1h-1zM63 21h1v1h-1zM102 21h1v1h-1zM135 21h1v1h-1zM137 21h1v1h-1zM202 21h1v1h-1zM206 21h1v1h-1zM215 21h1v1h-1zM236 21h2v1h-2zM10 22h1v1h-1zM28 22h1v1h-1zM30 22h1v1h-1zM49 22h1v1h-1zM96 22h1v1h-1zM105 22h1v1h-1zM146 22h1v1h-1zM155 22h1v1h-1zM165 22h1v1h-1zM168 22h1v1h-1zM172 22h1v1h-1zM178 22h1v1h-1zM180 22h1v1h-1zM185 22h1v1h-1zM194 22h1v1h-1zM21 23h1v1h-1zM44 23h1v1h-1zM58 23h1v1h-1zM61 23h1v1h-1zM68 23h1v1h-1zM73 23h1v1h-1zM115 23h1v1h-1zM121 23h1v1h-1zM132 23h1v1h-1zM134 23h1v1h-1zM153 23h1v1h-1zM165 23h1v1h-1zM210 23h2v1h-2zM231 23h1v1h-1zM16 24h1v1h-1zM29 24h1v1h-1zM68 24h1v1h-1zM84 24h1v1h-1zM86 24h1v1h-1zM115 24h1v1h-1zM117 24h1v1h-1zM133 24h1v1h-1zM149 24h1v1h-1zM151 24h1v1h-1zM163 24h1v1h-1zM168 24h1v1h-1zM184 24h2v1h-2zM190 24h1v1h-1zM195 24h1v1h-1zM210 24h1v1h-1zM216 24h1v1h-1zM227 24h1v1h-1zM231 24h1v1h-1zM235 24h1v1h-1zM32 25h2v1h-2zM35 25h1v1h-1zM43 25h1v1h-1zM61 25h1v1h-1zM65 25h1v1h-1zM77 25h1v1h-1zM90 25h1v1h-1zM125 25h1v1h-1zM136 25h1v1h-1zM159 25h1v1h-1zM181 25h1v1h-1zM183 25h1v1h-1zM189 25h1v1h-1zM191 25h1v1h-1zM201 25h1v1h-1zM207 25h1v1h-1zM212 25h2v1h-2zM217 25h1v1h-1zM238 25h1v1h-1zM20 26h1v1h-1zM34 26h1v1h-1zM68 26h1v1h-1zM102 26h2v1h-2zM114 26h1v1h-1zM139 26h1v1h-1zM154 26h1v1h-1zM156 26h1v1h-1zM158 26h1v1h-1zM160 26h1v1h-1zM172 26h1v1h-1zM217 26h1v1h-1zM227 26h1v1h-1zM18 27h1v1h-1zM31 27h2v1h-2zM45 27h1v1h-1zM52 27h1v1h-1zM60 27h1v1h-1zM66 27h1v1h-1zM70 27h1v1h-1zM79 27h1v1h-1zM83 27h1v1h-1zM103 27h1v1h-1zM105 27h1v1h-1zM111 27h2v1h-2zM118 27h1v1h-1zM124 27h1v1h-1zM142 27h1v1h-1zM151 27h1v1h-1zM166 27h2v1h-2zM179 27h1v1h-1zM183 27h1v1h-1zM203 27h1v1h-1zM211 27h1v1h-1zM217 27h1v1h-1zM224 27h1v1h-1zM227 27h1v1h-1zM231 27h2v1h-2zM25 28h1v1h-1zM56 28h1v1h-1zM59 28h1v1h-1zM139 28h1v1h-1zM149 28h1v1h-1zM170 28h1v1h-1zM181 28h1v1h-1zM205 28h1v1h-1zM233 28h1v1h-1zM106 29h1v1h-1zM113 29h1v1h-1zM139 29h1v1h-1zM153 29h1v1h-1zM96 30h1v1h-1zM13 31h1v1h-1zM18 31h1v1h-1zM42 31h1v1h-1zM59 31h1v1h-1zM85 31h1v1h-1zM106 31h1v1h-1zM116 31h1v1h-1zM173 31h1v1h-1zM188 31h2v1h-2zM193 31h1v1h-1zM234 31h1v1h-1zM12 32h1v1h-1zM19 32h1v1h-1zM21 32h1v1h-1zM47 32h1v1h-1zM67 32h1v1h-1zM86 32h1v1h-1zM127 32h1v1h-1zM134 32h1v1h-1zM156 32h1v1h-1zM168 32h1v1h-1zM230 32h1v1h-1zM12 33h1v1h-1zM26 33h1v1h-1zM34 33h1v1h-1zM60 33h1v1h-1zM68 33h1v1h-1zM77 33h1v1h-1zM98 33h1v1h-1zM132 33h1v1h-1zM137 33h1v1h-1zM183 33h1v1h-1zM189 33h1v1h-1zM210 33h1v1h-1zM18 34h1v1h-1zM28 34h1v1h-1zM42 34h1v1h-1zM168 34h1v1h-1zM194 34h1v1h-1zM23 35h1v1h-1zM44 35h1v1h-1zM118 35h1v1h-1zM164 35h1v1h-1zM167 35h1v1h-1zM174 35h1v1h-1zM212 35h1v1h-1zM234 35h1v1h-1zM34 36h1v1h-1zM46 36h1v1h-1zM90 36h1v1h-1zM115 36h1v1h-1zM142 36h1v1h-1zM157 36h1v1h-1zM162 36h2v1h-2zM175 36h1v1h-1zM180 36h1v1h-1zM183 36h1v1h-1zM191 36h1v1h-1zM207 36h1v1h-1zM224 36h1v1h-1zM10 37h1v1h-1zM30 37h1v1h-1zM78 37h1v1h-1zM123 37h1v1h-1zM175 37h2v1h-2zM209 37h1v1h-1zM219 37h1v1h-1zM16 38h1v1h-1zM41 38h2v1h-2zM58 38h1v1h-1zM73 38h1v1h-1zM82 38h2v1h-2zM86 38h1v1h-1zM96 38h1v1h-1zM130 38h1v1h-1zM142 38h1v1h-1zM202 38h1v1h-1zM220 38h1v1h-1z"/><path fill="#6a6ab5" d="M38 0h1v1h-1zM10 1h1v1h-1zM13 1h1v1h-1zM37 1h1v1h-1zM88 1h1v1h-1zM182 1h1v1h-1zM2 3h1v1h-1zM236 4h1v1h-1zM75 8h1v1h-1zM184 9h1v1h-1zM5 10h1v1h-1zM23 10h1v1h-1zM76 12h1v1h-1zM10 13h1v1h-1zM178 13h1v1h-1zM0 14h1v1h-1zM4 14h1v1h-1zM10 14h3v1h-3zM114 14h1v1h-1zM13 15h1v1h-1zM7 17h1v1h-1zM209 17h1v1h-1zM25 18h1v1h-1zM74 19h1v1h-1zM215 19h1v1h-1zM6 20h1v1h-1zM13 20h1v1h-1zM18 20h1v1h-1zM27 20h1v1h-1zM31 20h1v1h-1zM52 20h1v1h-1zM70 20h1v1h-1zM81 20h1v1h-1zM126 20h1v1h-1zM133 20h1v1h-1zM136 20h2v1h-2zM147 20h1v1h-1zM161 20h1v1h-1zM166 20h2v1h-2zM169 20h1v1h-1zM184 20h1v1h-1zM208 20h1v1h-1zM223 20h1v1h-1zM235 20h1v1h-1zM237 20h1v1h-1zM239 20h1v1h-1zM0 21h1v1h-1zM4 21h2v1h-2zM18 21h1v1h-1zM22 21h3v1h-3zM53 21h1v1h-1zM56 21h1v1h-1zM61 21h1v1h-1zM72 21h1v1h-1zM88 21h1v1h-1zM125 21h1v1h-1zM162 21h1v1h-1zM184 21h1v1h-1zM207 21h2v1h-2zM3 22h1v1h-1zM6 22h1v1h-1zM17 22h1v1h-1zM37 22h1v1h-1zM103 22h1v1h-1zM115 22h1v1h-1zM138 22h1v1h-1zM147 22h1v1h-1zM157 22h1v1h-1zM160 22h1v1h-1zM164 22h1v1h-1zM166 22h1v1h-1zM170 22h1v1h-1zM192 22h1v1h-1zM197 22h1v1h-1zM239 22h1v1h-1zM36 23h1v1h-1zM63 23h1v1h-1zM77 23h1v1h-1zM81 23h1v1h-1zM94 23h1v1h-1zM104 23h1v1h-1zM107 23h1v1h-1zM156 23h1v1h-1zM172 23h1v1h-1zM178 23h1v1h-1zM187 23h1v1h-1zM191 23h2v1h-2zM215 23h1v1h-1zM233 23h1v1h-1zM235 23h1v1h-1zM7 24h1v1h-1zM48 24h1v1h-1zM51 24h1v1h-1zM99 24h1v1h-1zM109 24h1v1h-1zM112 24h1v1h-1zM120 24h1v1h-1zM123 24h1v1h-1zM132 24h1v1h-1zM144 24h1v1h-1zM162 24h1v1h-1zM177 24h1v1h-1zM181 24h1v1h-1zM197 24h1v1h-1zM233 24h1v1h-1zM21 25h1v1h-1zM29 25h1v1h-1zM31 25h1v1h-1zM37 25h1v1h-1zM74 25h1v1h-1zM112 25h1v1h-1zM130 25h1v1h-1zM160 25h1v1h-1zM162 25h1v1h-1zM164 25h1v1h-1zM193 25h1v1h-1zM231 25h1v1h-1zM233 25h1v1h-1zM35 26h1v1h-1zM48 26h1v1h-1zM54 26h1v1h-1zM60 26h1v1h-1zM125 26h1v1h-1zM130 26h1v1h-1zM151 26h1v1h-1zM179 26h1v1h-1zM185 26h1v1h-1zM218 26h1v1h-1zM231 26h1v1h-1zM236 26h2v1h-2zM35 27h1v1h-1zM51 27h1v1h-1zM57 27h1v1h-1zM59 27h1v1h-1zM78 27h1v1h-1zM93 27h2v1h-2zM98 27h1v1h-1zM100 27h1v1h-1zM119 27h1v1h-1zM138 27h1v1h-1zM147 27h1v1h-1zM153 27h1v1h-1zM157 27h1v1h-1zM159 27h1v1h-1zM206 27h1v1h-1zM23 28h1v1h-1zM42 28h1v1h-1zM48 28h1v1h-1zM80 28h1v1h-1zM108 28h1v1h-1zM114 28h1v1h-1zM117 28h1v1h-1zM121 28h2v1h-2zM143 28h1v1h-1zM157 28h1v1h-1zM185 28h1v1h-1zM207 28h2v1h-2zM46 29h1v1h-1zM63 29h1v1h-1zM174 29h1v1h-1zM0 30h1v1h-1zM102 30h1v1h-1zM181 30h1v1h-1zM0 31h1v1h-1zM2 31h1v1h-1zM5 31h1v1h-1zM14 31h1v1h-1zM29 31h1v1h-1zM40 31h1v1h-1zM97 31h1v1h-1zM99 31h1v1h-1zM127 31h1v1h-1zM131 31h1v1h-1zM134 31h1v1h-1zM181 31h1v1h-1zM201 31h1v1h-1zM203 31h1v1h-1zM213 31h1v1h-1zM233 31h1v1h-1zM23 32h1v1h-1zM25 32h1v1h-1zM38 32h1v1h-1zM44 32h1v1h-1zM55 32h1v1h-1zM65 32h1v1h-1zM83 32h1v1h-1zM106 32h1v1h-1zM149 32h1v1h-1zM153 32h1v1h-1zM165 32h1v1h-1zM220 32h1v1h-1zM18 33h1v1h-1zM23 33h1v1h-1zM32 33h1v1h-1zM42 33h1v1h-1zM47 33h1v1h-1zM65 33h1v1h-1zM72 33h1v1h-1zM79 33h1v1h-1zM147 33h1v1h-1zM151 33h1v1h-1zM225 33h1v1h-1zM21 34h1v1h-1zM48 34h1v1h-1zM104 34h1v1h-1zM116 34h1v1h-1zM135 34h1v1h-1zM173 34h2v1h-2zM191 34h1v1h-1zM233 34h1v1h-1zM26 35h1v1h-1zM105 35h1v1h-1zM119 35h1v1h-1zM177 35h2v1h-2zM190 35h1v1h-1zM230 35h1v1h-1zM236 35h1v1h-1zM2 36h1v1h-1zM17 36h1v1h-1zM21 36h1v1h-1zM64 36h1v1h-1zM77 36h1v1h-1zM89 36h1v1h-1zM92 36h2v1h-2zM108 36h1v1h-1zM116 36h1v1h-1zM128 36h1v1h-1zM155 36h1v1h-1zM158 36h1v1h-1zM168 36h1v1h-1zM189 36h1v1h-1zM194 36h1v1h-1zM201 36h1v1h-1zM217 36h1v1h-1zM238 36h1v1h-1zM0 37h1v1h-1zM5 37h1v1h-1zM24 37h1v1h-1zM63 37h1v1h-1zM94 37h1v1h-1zM119 37h1v1h-1zM134 37h1v1h-1zM143 37h1v1h-1zM170 37h1v1h-1zM200 37h1v1h-1zM218 37h1v1h-1zM224 37h1v1h-1zM66 38h1v1h-1zM69 38h1v1h-1zM91 38h1v1h-1zM112 38h1v1h-1zM140 38h1v1h-1zM145 38h1v1h-1zM151 38h1v1h-1zM163 38h1v1h-1zM182 38h1v1h-1zM192 38h1v1h-1zM199 38h1v1h-1zM210 38h1v1h-1z"/><path fill="#7575ba" d="M2 1h1v1h-1zM116 1h1v1h-1zM175 1h1v1h-1zM133 2h1v1h-1zM9 3h1v1h-1zM105 3h1v1h-1zM6 4h1v1h-1zM229 7h1v1h-1zM2 13h1v1h-1zM8 14h1v1h-1zM167 14h1v1h-1zM185 14h1v1h-1zM224 14h1v1h-1zM15 15h1v1h-1zM59 16h1v1h-1zM231 16h1v1h-1zM9 17h1v1h-1zM169 17h1v1h-1zM189 17h1v1h-1zM5 18h1v1h-1zM143 18h1v1h-1zM84 19h1v1h-1zM172 19h1v1h-1zM236 19h1v1h-1zM77 20h1v1h-1zM92 20h1v1h-1zM128 20h1v1h-1zM134 20h1v1h-1zM153 20h1v1h-1zM158 20h1v1h-1zM165 20h1v1h-1zM203 20h1v1h-1zM205 20h1v1h-1zM216 20h1v1h-1zM221 20h1v1h-1zM11 21h1v1h-1zM30 21h1v1h-1zM44 21h1v1h-1zM55 21h1v1h-1zM86 21h1v1h-1zM92 21h2v1h-2zM100 21h1v1h-1zM112 21h2v1h-2zM127 21h1v1h-1zM138 21h1v1h-1zM143 21h1v1h-1zM185 21h1v1h-1zM4 22h1v1h-1zM11 22h1v1h-1zM38 22h1v1h-1zM56 22h1v1h-1zM65 22h1v1h-1zM72 22h1v1h-1zM117 22h1v1h-1zM129 22h1v1h-1zM149 22h1v1h-1zM161 22h1v1h-1zM175 22h1v1h-1zM179 22h1v1h-1zM218 22h1v1h-1zM220 22h1v1h-1zM233 22h1v1h-1zM237 22h1v1h-1zM9 23h1v1h-1zM38 23h1v1h-1zM78 23h1v1h-1zM88 23h1v1h-1zM97 23h1v1h-1zM100 23h1v1h-1zM113 23h1v1h-1zM117 23h2v1h-2zM127 23h1v1h-1zM137 23h1v1h-1zM154 23h1v1h-1zM158 23h1v1h-1zM168 23h1v1h-1zM186 23h1v1h-1zM219 23h1v1h-1zM237 23h1v1h-1zM8 24h1v1h-1zM10 24h1v1h-1zM17 24h1v1h-1zM20 24h1v1h-1zM69 24h1v1h-1zM98 24h1v1h-1zM127 24h1v1h-1zM152 24h1v1h-1zM160 24h1v1h-1zM167 24h1v1h-1zM179 24h2v1h-2zM191 24h1v1h-1zM200 24h1v1h-1zM204 24h1v1h-1zM207 24h1v1h-1zM209 24h1v1h-1zM230 24h1v1h-1zM239 24h1v1h-1zM30 25h1v1h-1zM36 25h1v1h-1zM53 25h1v1h-1zM66 25h1v1h-1zM83 25h1v1h-1zM88 25h2v1h-2zM129 25h1v1h-1zM131 25h2v1h-2zM135 25h1v1h-1zM216 25h1v1h-1zM218 25h1v1h-1zM223 25h1v1h-1zM51 26h1v1h-1zM58 26h1v1h-1zM64 26h1v1h-1zM81 26h1v1h-1zM119 26h1v1h-1zM169 26h1v1h-1zM191 26h1v1h-1zM193 26h1v1h-1zM200 26h1v1h-1zM211 26h1v1h-1zM22 27h1v1h-1zM87 27h1v1h-1zM89 27h2v1h-2zM106 27h1v1h-1zM109 27h1v1h-1zM125 27h1v1h-1zM134 27h1v1h-1zM168 27h1v1h-1zM170 27h1v1h-1zM177 27h1v1h-1zM185 27h1v1h-1zM190 27h1v1h-1zM213 27h1v1h-1zM220 27h1v1h-1zM228 27h3v1h-3zM239 27h1v1h-1zM12 28h1v1h-1zM17 28h1v1h-1zM19 28h1v1h-1zM35 28h1v1h-1zM40 28h2v1h-2zM54 28h1v1h-1zM60 28h1v1h-1zM120 28h1v1h-1zM137 28h1v1h-1zM141 28h1v1h-1zM155 28h2v1h-2zM194 28h1v1h-1zM200 28h1v1h-1zM232 28h1v1h-1zM61 29h1v1h-1zM64 30h1v1h-1zM140 30h1v1h-1zM210 30h1v1h-1zM233 30h1v1h-1zM28 31h1v1h-1zM47 31h1v1h-1zM72 31h1v1h-1zM86 31h1v1h-1zM89 31h1v1h-1zM94 31h1v1h-1zM126 31h1v1h-1zM139 31h1v1h-1zM147 31h1v1h-1zM158 31h1v1h-1zM174 31h1v1h-1zM221 31h1v1h-1zM35 32h1v1h-1zM40 32h1v1h-1zM77 32h1v1h-1zM94 32h1v1h-1zM107 32h1v1h-1zM111 32h1v1h-1zM174 32h1v1h-1zM189 32h1v1h-1zM223 32h1v1h-1zM239 32h1v1h-1zM8 33h1v1h-1zM44 33h1v1h-1zM46 33h1v1h-1zM73 33h1v1h-1zM89 33h1v1h-1zM102 33h1v1h-1zM108 33h1v1h-1zM120 33h1v1h-1zM122 33h1v1h-1zM128 33h1v1h-1zM142 33h1v1h-1zM144 33h1v1h-1zM169 33h1v1h-1zM206 33h1v1h-1zM213 33h1v1h-1zM226 33h1v1h-1zM228 33h1v1h-1zM233 33h1v1h-1zM235 33h1v1h-1zM238 33h1v1h-1zM240 33h1v1h-1zM2 34h1v1h-1zM45 34h1v1h-1zM72 34h1v1h-1zM85 34h1v1h-1zM136 34h1v1h-1zM169 34h1v1h-1zM178 34h1v1h-1zM181 34h1v1h-1zM218 34h1v1h-1zM0 35h1v1h-1zM3 35h1v1h-1zM22 35h1v1h-1zM28 35h1v1h-1zM60 35h1v1h-1zM92 35h1v1h-1zM102 35h1v1h-1zM120 35h1v1h-1zM122 35h1v1h-1zM124 35h1v1h-1zM201 35h1v1h-1zM204 35h1v1h-1zM7 36h1v1h-1zM13 36h1v1h-1zM26 36h1v1h-1zM42 36h1v1h-1zM52 36h2v1h-2zM57 36h1v1h-1zM85 36h1v1h-1zM98 36h2v1h-2zM113 36h1v1h-1zM172 36h1v1h-1zM219 36h1v1h-1zM12 37h1v1h-1zM39 37h1v1h-1zM61 37h1v1h-1zM82 37h1v1h-1zM98 37h1v1h-1zM103 37h2v1h-2zM109 37h1v1h-1zM114 37h1v1h-1zM127 37h1v1h-1zM137 37h1v1h-1zM157 37h1v1h-1zM194 37h1v1h-1zM210 37h1v1h-1zM227 37h1v1h-1zM239 37h1v1h-1zM2 38h1v1h-1zM20 38h1v1h-1zM31 38h1v1h-1zM68 38h1v1h-1zM78 38h1v1h-1zM84 38h1v1h-1zM110 38h1v1h-1zM117 38h1v1h-1zM180 38h1v1h-1zM237 38h1v1h-1z"/><path fill="#8080c0" d="M11 0h1v1h-1zM15 0h1v1h-1zM11 1h1v1h-1zM16 1h1v1h-1zM100 2h1v1h-1zM181 2h1v1h-1zM0 4h1v1h-1zM3 4h1v1h-1zM137 5h1v1h-1zM164 7h1v1h-1zM65 8h1v1h-1zM163 8h1v1h-1zM77 9h1v1h-1zM12 10h1v1h-1zM21 10h1v1h-1zM88 10h1v1h-1zM120 11h1v1h-1zM14 13h1v1h-1zM13 14h1v1h-1zM15 14h1v1h-1zM233 14h1v1h-1zM7 15h2v1h-2zM16 15h1v1h-1zM29 15h1v1h-1zM194 16h1v1h-1zM35 17h1v1h-1zM43 17h1v1h-1zM124 18h1v1h-1zM35 20h1v1h-1zM51 20h1v1h-1zM67 20h1v1h-1zM110 20h1v1h-1zM112 20h1v1h-1zM146 20h1v1h-1zM154 20h1v1h-1zM170 20h1v1h-1zM177 20h1v1h-1zM193 20h3v1h-3zM198 20h1v1h-1zM201 20h1v1h-1zM215 20h1v1h-1zM225 20h1v1h-1zM236 20h1v1h-1zM238 20h1v1h-1zM1 21h1v1h-1zM3 21h1v1h-1zM20 21h2v1h-2zM29 21h1v1h-1zM37 21h1v1h-1zM73 21h1v1h-1zM83 21h1v1h-1zM90 21h1v1h-1zM105 21h1v1h-1zM129 21h1v1h-1zM132 21h1v1h-1zM136 21h1v1h-1zM178 21h1v1h-1zM193 21h1v1h-1zM201 21h1v1h-1zM210 21h1v1h-1zM212 21h2v1h-2zM225 21h1v1h-1zM5 22h1v1h-1zM19 22h1v1h-1zM25 22h1v1h-1zM36 22h1v1h-1zM51 22h2v1h-2zM55 22h1v1h-1zM63 22h1v1h-1zM73 22h2v1h-2zM99 22h1v1h-1zM114 22h1v1h-1zM125 22h1v1h-1zM152 22h1v1h-1zM171 22h1v1h-1zM173 22h1v1h-1zM188 22h1v1h-1zM191 22h1v1h-1zM201 22h1v1h-1zM204 22h1v1h-1zM217 22h1v1h-1zM224 22h1v1h-1zM1 23h1v1h-1zM23 23h1v1h-1zM25 23h1v1h-1zM41 23h1v1h-1zM52 23h2v1h-2zM59 23h1v1h-1zM101 23h1v1h-1zM112 23h1v1h-1zM119 23h1v1h-1zM147 23h1v1h-1zM164 23h1v1h-1zM173 23h1v1h-1zM189 23h1v1h-1zM223 23h1v1h-1zM232 23h1v1h-1zM9 24h1v1h-1zM26 24h1v1h-1zM32 24h1v1h-1zM42 24h1v1h-1zM54 24h4v1h-4zM81 24h1v1h-1zM85 24h1v1h-1zM87 24h1v1h-1zM90 24h1v1h-1zM93 24h2v1h-2zM100 24h1v1h-1zM125 24h1v1h-1zM138 24h1v1h-1zM140 24h2v1h-2zM153 24h1v1h-1zM236 24h1v1h-1zM44 25h1v1h-1zM78 25h1v1h-1zM81 25h1v1h-1zM115 25h1v1h-1zM124 25h1v1h-1zM147 25h1v1h-1zM161 25h1v1h-1zM170 25h1v1h-1zM177 25h1v1h-1zM179 25h1v1h-1zM33 26h1v1h-1zM45 26h1v1h-1zM118 26h1v1h-1zM127 26h1v1h-1zM182 26h1v1h-1zM201 26h1v1h-1zM203 26h1v1h-1zM69 27h1v1h-1zM81 27h1v1h-1zM85 27h1v1h-1zM97 27h1v1h-1zM107 27h1v1h-1zM126 27h1v1h-1zM133 27h1v1h-1zM169 27h1v1h-1zM186 27h1v1h-1zM188 27h1v1h-1zM194 27h1v1h-1zM208 27h1v1h-1zM6 28h1v1h-1zM32 28h1v1h-1zM34 28h1v1h-1zM38 28h1v1h-1zM45 28h1v1h-1zM47 28h1v1h-1zM57 28h2v1h-2zM76 28h1v1h-1zM79 28h1v1h-1zM89 28h1v1h-1zM94 28h1v1h-1zM113 28h1v1h-1zM116 28h1v1h-1zM128 28h1v1h-1zM132 28h1v1h-1zM151 28h1v1h-1zM159 28h1v1h-1zM171 28h1v1h-1zM173 28h1v1h-1zM175 28h1v1h-1zM191 28h1v1h-1zM193 28h1v1h-1zM196 28h2v1h-2zM206 28h1v1h-1zM215 28h1v1h-1zM230 28h2v1h-2zM238 28h1v1h-1zM20 29h1v1h-1zM79 29h1v1h-1zM90 29h1v1h-1zM156 29h1v1h-1zM159 29h1v1h-1zM214 29h1v1h-1zM177 30h1v1h-1zM196 30h1v1h-1zM238 30h1v1h-1zM36 31h1v1h-1zM87 31h1v1h-1zM115 31h1v1h-1zM125 31h1v1h-1zM133 31h1v1h-1zM159 31h1v1h-1zM179 31h2v1h-2zM20 32h1v1h-1zM66 32h1v1h-1zM114 32h1v1h-1zM124 32h1v1h-1zM146 32h1v1h-1zM175 32h1v1h-1zM188 32h1v1h-1zM191 32h1v1h-1zM200 32h1v1h-1zM11 33h1v1h-1zM75 33h1v1h-1zM114 33h1v1h-1zM127 33h1v1h-1zM141 33h1v1h-1zM220 33h1v1h-1zM27 34h1v1h-1zM37 34h1v1h-1zM64 34h1v1h-1zM97 34h1v1h-1zM115 34h1v1h-1zM142 34h1v1h-1zM155 34h1v1h-1zM196 34h1v1h-1zM7 35h1v1h-1zM21 35h1v1h-1zM31 35h2v1h-2zM34 35h2v1h-2zM38 35h1v1h-1zM53 35h1v1h-1zM69 35h1v1h-1zM107 35h1v1h-1zM126 35h1v1h-1zM191 35h1v1h-1zM214 35h1v1h-1zM235 35h1v1h-1zM11 36h1v1h-1zM25 36h1v1h-1zM45 36h1v1h-1zM72 36h1v1h-1zM136 36h1v1h-1zM140 36h1v1h-1zM195 36h1v1h-1zM197 36h1v1h-1zM223 36h1v1h-1zM230 36h2v1h-2zM233 36h1v1h-1zM64 37h1v1h-1zM76 37h1v1h-1zM115 37h1v1h-1zM118 37h1v1h-1zM130 37h1v1h-1zM151 37h1v1h-1zM167 37h1v1h-1zM184 37h1v1h-1zM192 37h1v1h-1zM195 37h1v1h-1zM236 37h1v1h-1zM9 38h1v1h-1zM53 38h1v1h-1zM79 38h1v1h-1zM120 38h1v1h-1zM129 38h1v1h-1zM138 38h1v1h-1zM147 38h1v1h-1zM169 38h1v1h-1zM233 38h2v1h-2zM236 38h1v1h-1z"/><path fill="#8a8ac5" d="M44 0h1v1h-1zM66 0h1v1h-1zM205 0h1v1h-1zM8 1h1v1h-1zM15 1h1v1h-1zM23 1h1v1h-1zM7 3h1v1h-1zM238 3h1v1h-1zM9 4h1v1h-1zM129 4h1v1h-1zM155 5h1v1h-1zM112 7h1v1h-1zM107 8h1v1h-1zM19 9h1v1h-1zM203 9h1v1h-1zM6 10h1v1h-1zM187 10h1v1h-1zM56 11h1v1h-1zM181 11h1v1h-1zM197 11h1v1h-1zM54 12h1v1h-1zM0 13h1v1h-1zM11 13h1v1h-1zM187 13h1v1h-1zM7 14h1v1h-1zM158 14h1v1h-1zM9 15h2v1h-2zM9 16h1v1h-1zM38 16h1v1h-1zM79 16h1v1h-1zM175 16h1v1h-1zM195 16h1v1h-1zM13 17h1v1h-1zM175 17h1v1h-1zM69 19h1v1h-1zM134 19h1v1h-1zM139 19h1v1h-1zM54 20h1v1h-1zM74 20h1v1h-1zM79 20h1v1h-1zM89 20h2v1h-2zM120 20h1v1h-1zM132 20h1v1h-1zM150 20h1v1h-1zM160 20h1v1h-1zM172 20h1v1h-1zM176 20h1v1h-1zM178 20h1v1h-1zM213 20h1v1h-1zM217 20h1v1h-1zM34 21h1v1h-1zM47 21h1v1h-1zM58 21h1v1h-1zM66 21h1v1h-1zM78 21h1v1h-1zM82 21h1v1h-1zM91 21h1v1h-1zM99 21h1v1h-1zM111 21h1v1h-1zM126 21h1v1h-1zM134 21h1v1h-1zM144 21h1v1h-1zM147 21h1v1h-1zM155 21h2v1h-2zM190 21h1v1h-1zM200 21h1v1h-1zM214 21h1v1h-1zM219 21h1v1h-1zM227 21h1v1h-1zM239 21h1v1h-1zM7 22h2v1h-2zM13 22h1v1h-1zM27 22h1v1h-1zM35 22h1v1h-1zM45 22h1v1h-1zM53 22h1v1h-1zM92 22h2v1h-2zM104 22h1v1h-1zM113 22h1v1h-1zM135 22h1v1h-1zM137 22h1v1h-1zM162 22h1v1h-1zM176 22h1v1h-1zM189 22h1v1h-1zM205 22h1v1h-1zM207 22h1v1h-1zM222 22h1v1h-1zM2 23h1v1h-1zM17 23h2v1h-2zM24 23h1v1h-1zM34 23h1v1h-1zM40 23h1v1h-1zM50 23h2v1h-2zM54 23h1v1h-1zM57 23h1v1h-1zM91 23h1v1h-1zM103 23h1v1h-1zM105 23h1v1h-1zM120 23h1v1h-1zM139 23h1v1h-1zM144 23h1v1h-1zM148 23h1v1h-1zM150 23h1v1h-1zM155 23h1v1h-1zM177 23h1v1h-1zM184 23h1v1h-1zM200 23h1v1h-1zM208 23h1v1h-1zM212 23h1v1h-1zM218 23h1v1h-1zM226 23h2v1h-2zM23 24h1v1h-1zM25 24h1v1h-1zM60 24h1v1h-1zM74 24h1v1h-1zM88 24h1v1h-1zM105 24h1v1h-1zM116 24h1v1h-1zM131 24h1v1h-1zM134 24h1v1h-1zM146 24h1v1h-1zM148 24h1v1h-1zM165 24h1v1h-1zM183 24h1v1h-1zM193 24h1v1h-1zM228 24h1v1h-1zM20 25h1v1h-1zM39 25h1v1h-1zM69 25h1v1h-1zM105 25h1v1h-1zM109 25h1v1h-1zM116 25h1v1h-1zM119 25h1v1h-1zM126 25h1v1h-1zM174 25h1v1h-1zM197 25h1v1h-1zM203 25h1v1h-1zM209 25h1v1h-1zM22 26h1v1h-1zM135 26h1v1h-1zM147 26h1v1h-1zM155 26h1v1h-1zM212 26h1v1h-1zM55 27h1v1h-1zM64 27h1v1h-1zM120 27h1v1h-1zM146 27h1v1h-1zM165 27h1v1h-1zM173 27h1v1h-1zM192 27h1v1h-1zM209 27h1v1h-1zM235 27h1v1h-1zM0 28h1v1h-1zM14 28h1v1h-1zM21 28h1v1h-1zM36 28h1v1h-1zM67 28h2v1h-2zM81 28h1v1h-1zM83 28h1v1h-1zM101 28h1v1h-1zM131 28h1v1h-1zM136 28h1v1h-1zM161 28h1v1h-1zM184 28h1v1h-1zM192 28h1v1h-1zM204 28h1v1h-1zM221 28h1v1h-1zM226 28h1v1h-1zM229 28h1v1h-1zM25 29h1v1h-1zM36 29h1v1h-1zM49 29h1v1h-1zM129 29h1v1h-1zM131 29h1v1h-1zM155 29h1v1h-1zM26 30h1v1h-1zM58 30h1v1h-1zM60 30h1v1h-1zM78 30h1v1h-1zM92 30h1v1h-1zM144 30h1v1h-1zM191 30h1v1h-1zM199 30h1v1h-1zM23 31h1v1h-1zM53 31h1v1h-1zM62 31h1v1h-1zM118 31h1v1h-1zM121 31h1v1h-1zM124 31h1v1h-1zM156 31h1v1h-1zM161 31h1v1h-1zM176 31h1v1h-1zM187 31h1v1h-1zM196 31h2v1h-2zM216 31h1v1h-1zM220 31h1v1h-1zM225 31h1v1h-1zM22 32h1v1h-1zM36 32h1v1h-1zM62 32h1v1h-1zM75 32h1v1h-1zM131 32h1v1h-1zM151 32h1v1h-1zM159 32h1v1h-1zM171 32h1v1h-1zM217 32h1v1h-1zM28 33h1v1h-1zM61 33h1v1h-1zM85 33h1v1h-1zM106 33h1v1h-1zM140 33h1v1h-1zM184 33h1v1h-1zM202 33h1v1h-1zM204 33h1v1h-1zM22 34h1v1h-1zM36 34h1v1h-1zM79 34h1v1h-1zM147 34h1v1h-1zM192 34h1v1h-1zM202 34h1v1h-1zM225 34h1v1h-1zM236 34h1v1h-1zM30 35h1v1h-1zM36 35h1v1h-1zM40 35h1v1h-1zM42 35h1v1h-1zM62 35h1v1h-1zM66 35h1v1h-1zM75 35h1v1h-1zM80 35h1v1h-1zM146 35h1v1h-1zM153 35h1v1h-1zM165 35h1v1h-1zM168 35h1v1h-1zM175 35h1v1h-1zM206 35h1v1h-1zM209 35h1v1h-1zM213 35h1v1h-1zM237 35h1v1h-1zM6 36h1v1h-1zM20 36h1v1h-1zM22 36h1v1h-1zM41 36h1v1h-1zM59 36h1v1h-1zM70 36h1v1h-1zM73 36h1v1h-1zM80 36h2v1h-2zM86 36h1v1h-1zM102 36h1v1h-1zM147 36h1v1h-1zM164 36h2v1h-2zM193 36h1v1h-1zM221 36h1v1h-1zM227 36h1v1h-1zM232 36h1v1h-1zM21 37h1v1h-1zM23 37h1v1h-1zM43 37h1v1h-1zM99 37h1v1h-1zM193 37h1v1h-1zM198 37h1v1h-1zM215 37h1v1h-1zM225 37h1v1h-1zM5 38h1v1h-1zM11 38h1v1h-1zM36 38h1v1h-1zM75 38h1v1h-1zM101 38h1v1h-1zM104 38h1v1h-1zM146 38h1v1h-1zM161 38h1v1h-1zM204 38h1v1h-1zM229 38h1v1h-1z"/><path fill="#9595ca" d="M10 0h1v1h-1zM114 0h1v1h-1zM12 1h1v1h-1zM110 1h1v1h-1zM128 2h1v1h-1zM67 3h2v1h-2zM15 4h1v1h-1zM113 7h1v1h-1zM7 8h1v1h-1zM197 8h1v1h-1zM18 9h1v1h-1zM33 9h1v1h-1zM37 9h1v1h-1zM73 9h1v1h-1zM14 10h1v1h-1zM102 10h1v1h-1zM185 11h1v1h-1zM213 11h1v1h-1zM104 12h1v1h-1zM5 13h1v1h-1zM37 13h1v1h-1zM50 13h1v1h-1zM128 13h1v1h-1zM174 13h1v1h-1zM5 14h1v1h-1zM65 14h1v1h-1zM94 14h1v1h-1zM11 15h1v1h-1zM79 15h1v1h-1zM168 15h1v1h-1zM179 15h1v1h-1zM232 15h1v1h-1zM40 16h1v1h-1zM55 16h1v1h-1zM72 16h1v1h-1zM140 16h1v1h-1zM184 16h1v1h-1zM22 17h1v1h-1zM30 17h1v1h-1zM49 17h2v1h-2zM90 17h1v1h-1zM191 17h1v1h-1zM231 17h1v1h-1zM74 18h1v1h-1zM198 18h1v1h-1zM219 18h1v1h-1zM37 20h1v1h-1zM58 20h2v1h-2zM66 20h1v1h-1zM94 20h1v1h-1zM102 20h3v1h-3zM108 20h1v1h-1zM111 20h1v1h-1zM121 20h1v1h-1zM124 20h1v1h-1zM130 20h1v1h-1zM148 20h1v1h-1zM175 20h1v1h-1zM210 20h1v1h-1zM212 20h1v1h-1zM228 20h1v1h-1zM39 21h1v1h-1zM71 21h1v1h-1zM89 21h1v1h-1zM118 21h1v1h-1zM128 21h1v1h-1zM131 21h1v1h-1zM209 21h1v1h-1zM240 21h1v1h-1zM15 22h1v1h-1zM29 22h1v1h-1zM47 22h1v1h-1zM58 22h1v1h-1zM64 22h1v1h-1zM69 22h1v1h-1zM71 22h1v1h-1zM80 22h1v1h-1zM90 22h1v1h-1zM107 22h1v1h-1zM139 22h1v1h-1zM153 22h1v1h-1zM174 22h1v1h-1zM193 22h1v1h-1zM199 22h1v1h-1zM227 22h1v1h-1zM240 22h1v1h-1zM6 23h1v1h-1zM12 23h1v1h-1zM16 23h1v1h-1zM32 23h1v1h-1zM35 23h1v1h-1zM49 23h1v1h-1zM55 23h1v1h-1zM69 23h2v1h-2zM79 23h2v1h-2zM83 23h1v1h-1zM96 23h1v1h-1zM110 23h1v1h-1zM116 23h1v1h-1zM129 23h1v1h-1zM136 23h1v1h-1zM151 23h1v1h-1zM167 23h1v1h-1zM174 23h2v1h-2zM179 23h1v1h-1zM196 23h1v1h-1zM28 24h1v1h-1zM38 24h1v1h-1zM47 24h1v1h-1zM67 24h1v1h-1zM77 24h1v1h-1zM82 24h1v1h-1zM92 24h1v1h-1zM97 24h1v1h-1zM106 24h1v1h-1zM137 24h1v1h-1zM199 24h1v1h-1zM201 24h1v1h-1zM215 24h1v1h-1zM219 24h3v1h-3zM232 24h1v1h-1zM240 24h1v1h-1zM48 25h1v1h-1zM56 25h1v1h-1zM101 25h1v1h-1zM148 25h1v1h-1zM185 25h2v1h-2zM219 25h2v1h-2zM24 26h1v1h-1zM78 26h1v1h-1zM121 26h1v1h-1zM214 26h1v1h-1zM233 26h1v1h-1zM74 27h1v1h-1zM44 28h1v1h-1zM50 28h2v1h-2zM69 28h1v1h-1zM78 28h1v1h-1zM87 28h1v1h-1zM100 28h1v1h-1zM107 28h1v1h-1zM125 28h1v1h-1zM133 28h1v1h-1zM145 28h1v1h-1zM147 28h1v1h-1zM152 28h1v1h-1zM163 28h1v1h-1zM166 28h1v1h-1zM179 28h1v1h-1zM218 28h1v1h-1zM227 28h1v1h-1zM88 29h1v1h-1zM94 29h1v1h-1zM97 29h1v1h-1zM122 29h1v1h-1zM142 29h1v1h-1zM215 29h1v1h-1zM223 29h1v1h-1zM82 30h1v1h-1zM172 30h2v1h-2zM223 30h1v1h-1zM1 31h1v1h-1zM33 31h1v1h-1zM54 31h1v1h-1zM57 31h1v1h-1zM91 31h1v1h-1zM104 31h1v1h-1zM150 31h1v1h-1zM162 31h1v1h-1zM171 31h1v1h-1zM182 31h1v1h-1zM212 31h1v1h-1zM222 31h1v1h-1zM235 31h1v1h-1zM239 31h1v1h-1zM24 32h1v1h-1zM53 32h1v1h-1zM70 32h1v1h-1zM88 32h1v1h-1zM126 32h1v1h-1zM177 32h1v1h-1zM190 32h1v1h-1zM203 32h1v1h-1zM210 32h1v1h-1zM232 32h1v1h-1zM235 32h1v1h-1zM2 33h1v1h-1zM21 33h1v1h-1zM37 33h1v1h-1zM40 33h2v1h-2zM51 33h1v1h-1zM53 33h3v1h-3zM62 33h1v1h-1zM81 33h1v1h-1zM83 33h1v1h-1zM86 33h1v1h-1zM90 33h1v1h-1zM159 33h1v1h-1zM163 33h1v1h-1zM165 33h1v1h-1zM177 33h1v1h-1zM180 33h1v1h-1zM185 33h1v1h-1zM194 33h1v1h-1zM199 33h1v1h-1zM217 33h1v1h-1zM223 33h1v1h-1zM229 33h1v1h-1zM23 34h1v1h-1zM26 34h1v1h-1zM57 34h1v1h-1zM71 34h1v1h-1zM92 34h2v1h-2zM98 34h1v1h-1zM120 34h1v1h-1zM122 34h1v1h-1zM137 34h1v1h-1zM145 34h1v1h-1zM160 34h1v1h-1zM189 34h1v1h-1zM198 34h1v1h-1zM200 34h1v1h-1zM204 34h1v1h-1zM2 35h1v1h-1zM12 35h1v1h-1zM46 35h2v1h-2zM67 35h1v1h-1zM87 35h1v1h-1zM97 35h1v1h-1zM104 35h1v1h-1zM116 35h1v1h-1zM121 35h1v1h-1zM123 35h1v1h-1zM130 35h1v1h-1zM142 35h1v1h-1zM148 35h1v1h-1zM158 35h1v1h-1zM172 35h1v1h-1zM37 36h2v1h-2zM49 36h1v1h-1zM123 36h1v1h-1zM130 36h1v1h-1zM145 36h1v1h-1zM150 36h1v1h-1zM171 36h1v1h-1zM187 36h1v1h-1zM226 36h1v1h-1zM235 36h1v1h-1zM62 37h1v1h-1zM216 37h2v1h-2zM3 38h1v1h-1zM28 38h1v1h-1zM44 38h1v1h-1zM46 38h1v1h-1zM49 38h1v1h-1zM99 38h1v1h-1zM111 38h1v1h-1zM132 38h1v1h-1zM175 38h1v1h-1zM194 38h2v1h-2zM208 38h1v1h-1zM224 38h1v1h-1zM240 38h1v1h-1z"/><path fill="#9f9fcf" d="M85 1h1v1h-1zM15 3h1v1h-1zM85 3h1v1h-1zM18 5h1v1h-1zM111 5h1v1h-1zM44 7h1v1h-1zM67 8h1v1h-1zM133 8h1v1h-1zM28 9h1v1h-1zM154 9h1v1h-1zM189 9h1v1h-1zM1 10h1v1h-1zM8 10h1v1h-1zM161 10h1v1h-1zM148 11h1v1h-1zM169 11h1v1h-1zM176 11h1v1h-1zM208 11h1v1h-1zM41 12h1v1h-1zM3 13h1v1h-1zM6 13h1v1h-1zM15 13h1v1h-1zM190 13h1v1h-1zM26 14h1v1h-1zM162 14h1v1h-1zM173 14h1v1h-1zM217 14h1v1h-1zM196 15h1v1h-1zM50 16h1v1h-1zM86 16h1v1h-1zM120 16h1v1h-1zM139 16h1v1h-1zM182 16h1v1h-1zM210 16h1v1h-1zM219 16h1v1h-1zM96 17h1v1h-1zM160 17h1v1h-1zM197 17h1v1h-1zM232 17h1v1h-1zM6 18h1v1h-1zM90 18h1v1h-1zM93 18h1v1h-1zM19 20h1v1h-1zM33 20h1v1h-1zM39 20h1v1h-1zM53 20h1v1h-1zM78 20h1v1h-1zM93 20h1v1h-1zM117 20h1v1h-1zM122 20h1v1h-1zM129 20h1v1h-1zM156 20h1v1h-1zM187 20h1v1h-1zM19 21h1v1h-1zM45 21h1v1h-1zM54 21h1v1h-1zM57 21h1v1h-1zM74 21h1v1h-1zM77 21h1v1h-1zM84 21h1v1h-1zM104 21h1v1h-1zM116 21h1v1h-1zM159 21h1v1h-1zM166 21h1v1h-1zM168 21h1v1h-1zM175 21h1v1h-1zM177 21h1v1h-1zM16 22h1v1h-1zM23 22h2v1h-2zM32 22h1v1h-1zM48 22h1v1h-1zM57 22h1v1h-1zM77 22h1v1h-1zM82 22h1v1h-1zM123 22h1v1h-1zM130 22h1v1h-1zM144 22h1v1h-1zM154 22h1v1h-1zM156 22h1v1h-1zM158 22h1v1h-1zM169 22h1v1h-1zM181 22h1v1h-1zM186 22h2v1h-2zM196 22h1v1h-1zM200 22h1v1h-1zM211 22h1v1h-1zM213 22h1v1h-1zM229 22h1v1h-1zM0 23h1v1h-1zM13 23h1v1h-1zM19 23h1v1h-1zM37 23h1v1h-1zM42 23h1v1h-1zM71 23h1v1h-1zM74 23h1v1h-1zM82 23h1v1h-1zM98 23h1v1h-1zM145 23h1v1h-1zM152 23h1v1h-1zM157 23h1v1h-1zM166 23h1v1h-1zM169 23h2v1h-2zM183 23h1v1h-1zM213 23h1v1h-1zM216 23h1v1h-1zM228 23h1v1h-1zM238 23h2v1h-2zM30 24h2v1h-2zM49 24h1v1h-1zM79 24h1v1h-1zM83 24h1v1h-1zM101 24h1v1h-1zM218 24h1v1h-1zM46 25h1v1h-1zM55 25h1v1h-1zM87 25h1v1h-1zM140 25h1v1h-1zM180 25h1v1h-1zM182 25h1v1h-1zM87 26h1v1h-1zM91 26h1v1h-1zM33 27h1v1h-1zM39 27h1v1h-1zM63 27h1v1h-1zM67 27h1v1h-1zM92 27h1v1h-1zM150 27h1v1h-1zM29 28h1v1h-1zM43 28h1v1h-1zM52 28h1v1h-1zM64 28h1v1h-1zM70 28h1v1h-1zM72 28h1v1h-1zM77 28h1v1h-1zM111 28h2v1h-2zM144 28h1v1h-1zM158 28h1v1h-1zM167 28h1v1h-1zM176 28h1v1h-1zM187 28h1v1h-1zM216 28h2v1h-2zM228 28h1v1h-1zM239 28h1v1h-1zM18 29h1v1h-1zM27 29h1v1h-1zM74 29h1v1h-1zM83 29h1v1h-1zM104 29h1v1h-1zM149 29h1v1h-1zM211 29h1v1h-1zM222 29h1v1h-1zM224 29h1v1h-1zM20 30h1v1h-1zM33 30h1v1h-1zM62 30h1v1h-1zM66 30h1v1h-1zM81 30h1v1h-1zM122 30h1v1h-1zM124 30h1v1h-1zM139 30h1v1h-1zM143 30h1v1h-1zM186 30h1v1h-1zM214 30h1v1h-1zM216 30h1v1h-1zM224 30h1v1h-1zM19 31h3v1h-3zM41 31h1v1h-1zM49 31h1v1h-1zM56 31h1v1h-1zM69 31h1v1h-1zM95 31h1v1h-1zM107 31h1v1h-1zM109 31h1v1h-1zM112 31h1v1h-1zM119 31h2v1h-2zM128 31h1v1h-1zM149 31h1v1h-1zM175 31h1v1h-1zM199 31h1v1h-1zM11 32h1v1h-1zM27 32h1v1h-1zM37 32h1v1h-1zM112 32h1v1h-1zM122 32h1v1h-1zM132 32h2v1h-2zM147 32h1v1h-1zM163 32h1v1h-1zM169 32h1v1h-1zM181 32h1v1h-1zM185 32h1v1h-1zM193 32h1v1h-1zM211 32h1v1h-1zM213 32h1v1h-1zM227 32h1v1h-1zM7 33h1v1h-1zM95 33h1v1h-1zM99 33h1v1h-1zM104 33h1v1h-1zM116 33h1v1h-1zM118 33h2v1h-2zM146 33h1v1h-1zM198 33h1v1h-1zM201 33h1v1h-1zM222 33h1v1h-1zM230 33h1v1h-1zM34 34h1v1h-1zM58 34h1v1h-1zM62 34h1v1h-1zM143 34h1v1h-1zM162 34h1v1h-1zM171 34h2v1h-2zM176 34h1v1h-1zM190 34h1v1h-1zM199 34h1v1h-1zM229 34h1v1h-1zM84 35h2v1h-2zM90 35h1v1h-1zM94 35h1v1h-1zM96 35h1v1h-1zM144 35h1v1h-1zM147 35h1v1h-1zM150 35h1v1h-1zM154 35h1v1h-1zM157 35h1v1h-1zM160 35h1v1h-1zM181 35h1v1h-1zM207 35h1v1h-1zM211 35h1v1h-1zM226 35h1v1h-1zM228 35h1v1h-1zM18 36h1v1h-1zM48 36h1v1h-1zM88 36h1v1h-1zM110 36h1v1h-1zM131 36h1v1h-1zM149 36h1v1h-1zM152 36h1v1h-1zM160 36h2v1h-2zM198 36h2v1h-2zM214 36h1v1h-1zM228 36h1v1h-1zM31 37h2v1h-2zM51 37h1v1h-1zM75 37h1v1h-1zM83 37h1v1h-1zM95 37h1v1h-1zM105 37h1v1h-1zM110 37h1v1h-1zM156 37h1v1h-1zM205 37h1v1h-1zM228 37h1v1h-1zM30 38h1v1h-1zM35 38h1v1h-1zM57 38h1v1h-1zM60 38h1v1h-1zM74 38h1v1h-1zM85 38h1v1h-1zM90 38h1v1h-1zM94 38h1v1h-1zM153 38h1v1h-1zM159 38h1v1h-1zM164 38h1v1h-1zM181 38h1v1h-1zM191 38h1v1h-1zM217 38h3v1h-3z"/><path fill="#aaaad5" d="M0 1h1v1h-1zM1 2h1v1h-1zM10 2h1v1h-1zM109 2h1v1h-1zM52 5h1v1h-1zM143 7h1v1h-1zM161 7h1v1h-1zM4 8h1v1h-1zM28 8h1v1h-1zM234 8h1v1h-1zM54 9h1v1h-1zM94 9h1v1h-1zM156 9h1v1h-1zM172 9h1v1h-1zM0 10h1v1h-1zM10 10h1v1h-1zM13 10h1v1h-1zM217 10h1v1h-1zM17 11h1v1h-1zM25 11h1v1h-1zM46 11h1v1h-1zM113 11h1v1h-1zM128 11h1v1h-1zM135 11h1v1h-1zM144 12h1v1h-1zM153 12h1v1h-1zM156 12h1v1h-1zM179 12h1v1h-1zM73 13h1v1h-1zM112 13h1v1h-1zM156 13h1v1h-1zM3 14h1v1h-1zM73 14h1v1h-1zM189 14h1v1h-1zM3 15h1v1h-1zM28 15h1v1h-1zM169 15h1v1h-1zM195 15h1v1h-1zM201 15h1v1h-1zM212 15h1v1h-1zM20 16h1v1h-1zM31 16h1v1h-1zM47 16h1v1h-1zM51 16h1v1h-1zM143 16h1v1h-1zM146 16h1v1h-1zM164 16h1v1h-1zM232 16h1v1h-1zM46 17h1v1h-1zM73 17h1v1h-1zM76 17h1v1h-1zM82 17h1v1h-1zM116 17h1v1h-1zM128 17h1v1h-1zM154 17h1v1h-1zM157 17h1v1h-1zM186 17h1v1h-1zM200 17h1v1h-1zM202 17h1v1h-1zM205 17h1v1h-1zM226 17h1v1h-1zM238 17h1v1h-1zM133 18h1v1h-1zM228 18h1v1h-1zM38 20h1v1h-1zM42 20h1v1h-1zM45 20h1v1h-1zM64 20h1v1h-1zM96 20h1v1h-1zM125 20h1v1h-1zM127 20h1v1h-1zM135 20h1v1h-1zM190 20h1v1h-1zM200 20h1v1h-1zM207 20h1v1h-1zM8 21h1v1h-1zM12 21h1v1h-1zM33 21h1v1h-1zM59 21h1v1h-1zM64 21h1v1h-1zM85 21h1v1h-1zM107 21h1v1h-1zM115 21h1v1h-1zM117 21h1v1h-1zM121 21h1v1h-1zM141 21h2v1h-2zM163 21h1v1h-1zM171 21h1v1h-1zM173 21h1v1h-1zM180 21h1v1h-1zM187 21h1v1h-1zM191 21h1v1h-1zM197 21h1v1h-1zM211 21h1v1h-1zM216 21h1v1h-1zM1 22h1v1h-1zM12 22h1v1h-1zM14 22h1v1h-1zM39 22h1v1h-1zM46 22h1v1h-1zM61 22h1v1h-1zM70 22h1v1h-1zM78 22h2v1h-2zM85 22h1v1h-1zM94 22h1v1h-1zM97 22h1v1h-1zM109 22h1v1h-1zM150 22h2v1h-2zM163 22h1v1h-1zM190 22h1v1h-1zM198 22h1v1h-1zM202 22h1v1h-1zM235 22h1v1h-1zM27 23h1v1h-1zM45 23h1v1h-1zM56 23h1v1h-1zM75 23h1v1h-1zM141 23h1v1h-1zM185 23h1v1h-1zM234 23h1v1h-1zM2 24h1v1h-1zM5 24h1v1h-1zM27 24h1v1h-1zM135 24h1v1h-1zM188 24h1v1h-1zM196 24h1v1h-1zM208 24h1v1h-1zM134 25h1v1h-1zM196 25h1v1h-1zM164 26h1v1h-1zM168 26h1v1h-1zM61 27h1v1h-1zM24 28h1v1h-1zM31 28h1v1h-1zM39 28h1v1h-1zM73 28h1v1h-1zM98 28h1v1h-1zM123 28h1v1h-1zM127 28h1v1h-1zM142 28h1v1h-1zM190 28h1v1h-1zM202 28h1v1h-1zM213 28h1v1h-1zM222 28h1v1h-1zM8 29h1v1h-1zM28 29h1v1h-1zM50 29h1v1h-1zM71 29h1v1h-1zM73 29h1v1h-1zM98 29h1v1h-1zM115 29h1v1h-1zM136 29h1v1h-1zM140 29h1v1h-1zM189 29h1v1h-1zM219 29h1v1h-1zM227 29h1v1h-1zM4 30h1v1h-1zM13 30h1v1h-1zM28 30h1v1h-1zM43 30h1v1h-1zM74 30h1v1h-1zM90 30h1v1h-1zM108 30h2v1h-2zM127 30h1v1h-1zM137 30h1v1h-1zM154 30h2v1h-2zM171 30h1v1h-1zM44 31h1v1h-1zM63 31h1v1h-1zM92 31h2v1h-2zM138 31h1v1h-1zM154 31h1v1h-1zM165 31h1v1h-1zM186 31h1v1h-1zM194 31h1v1h-1zM228 31h1v1h-1zM17 32h1v1h-1zM39 32h1v1h-1zM41 32h1v1h-1zM51 32h1v1h-1zM57 32h1v1h-1zM64 32h1v1h-1zM97 32h1v1h-1zM110 32h1v1h-1zM129 32h1v1h-1zM136 32h1v1h-1zM150 32h1v1h-1zM167 32h1v1h-1zM180 32h1v1h-1zM184 32h1v1h-1zM222 32h1v1h-1zM231 32h1v1h-1zM238 32h1v1h-1zM20 33h1v1h-1zM66 33h2v1h-2zM101 33h1v1h-1zM131 33h1v1h-1zM134 33h3v1h-3zM139 33h1v1h-1zM176 33h1v1h-1zM195 33h2v1h-2zM76 34h2v1h-2zM86 34h1v1h-1zM112 34h1v1h-1zM140 34h2v1h-2zM156 34h1v1h-1zM158 34h1v1h-1zM211 34h1v1h-1zM226 34h1v1h-1zM1 35h1v1h-1zM11 35h1v1h-1zM24 35h1v1h-1zM50 35h1v1h-1zM65 35h1v1h-1zM68 35h1v1h-1zM113 35h2v1h-2zM140 35h1v1h-1zM183 35h1v1h-1zM189 35h1v1h-1zM221 35h2v1h-2zM229 35h1v1h-1zM232 35h1v1h-1zM0 36h2v1h-2zM27 36h1v1h-1zM33 36h1v1h-1zM35 36h1v1h-1zM50 36h2v1h-2zM62 36h1v1h-1zM67 36h1v1h-1zM104 36h1v1h-1zM107 36h1v1h-1zM122 36h1v1h-1zM124 36h1v1h-1zM153 36h2v1h-2zM209 36h1v1h-1zM215 36h1v1h-1zM229 36h1v1h-1zM239 36h1v1h-1zM1 37h1v1h-1zM17 37h1v1h-1zM47 37h1v1h-1zM107 37h1v1h-1zM122 37h1v1h-1zM142 37h1v1h-1zM183 37h1v1h-1zM188 37h1v1h-1zM212 37h1v1h-1zM221 37h1v1h-1zM29 38h1v1h-1zM43 38h1v1h-1zM107 38h1v1h-1zM116 38h1v1h-1zM149 38h1v1h-1zM160 38h1v1h-1zM184 38h2v1h-2zM196 38h1v1h-1zM206 38h1v1h-1zM222 38h1v1h-1z"/><path fill="#b5b5da" d="M12 0h1v1h-1zM16 0h1v1h-1zM9 1h1v1h-1zM4 2h1v1h-1zM8 2h1v1h-1zM231 5h1v1h-1zM7 7h1v1h-1zM17 8h1v1h-1zM40 8h1v1h-1zM47 8h1v1h-1zM98 8h1v1h-1zM131 8h1v1h-1zM17 9h1v1h-1zM43 9h1v1h-1zM92 9h1v1h-1zM144 9h1v1h-1zM155 9h1v1h-1zM180 9h1v1h-1zM4 10h1v1h-1zM11 10h1v1h-1zM72 10h1v1h-1zM136 11h1v1h-1zM223 11h1v1h-1zM73 12h1v1h-1zM8 13h1v1h-1zM42 13h1v1h-1zM100 13h1v1h-1zM115 13h1v1h-1zM2 14h1v1h-1zM96 14h1v1h-1zM150 14h1v1h-1zM195 14h1v1h-1zM216 14h1v1h-1zM225 14h1v1h-1zM187 15h1v1h-1zM205 15h1v1h-1zM224 15h1v1h-1zM44 16h3v1h-3zM87 16h1v1h-1zM91 16h1v1h-1zM97 16h1v1h-1zM122 16h1v1h-1zM124 16h1v1h-1zM137 16h1v1h-1zM209 16h1v1h-1zM23 17h1v1h-1zM28 17h1v1h-1zM44 17h1v1h-1zM57 17h1v1h-1zM84 17h1v1h-1zM89 17h1v1h-1zM91 17h1v1h-1zM121 17h1v1h-1zM130 17h2v1h-2zM147 17h1v1h-1zM171 17h1v1h-1zM207 17h1v1h-1zM150 18h1v1h-1zM175 18h1v1h-1zM20 20h2v1h-2zM88 20h1v1h-1zM118 20h1v1h-1zM151 20h1v1h-1zM157 20h1v1h-1zM183 20h1v1h-1zM220 20h1v1h-1zM25 21h1v1h-1zM31 21h1v1h-1zM35 21h1v1h-1zM41 21h2v1h-2zM52 21h1v1h-1zM75 21h2v1h-2zM97 21h1v1h-1zM109 21h1v1h-1zM130 21h1v1h-1zM139 21h2v1h-2zM145 21h1v1h-1zM169 21h1v1h-1zM188 21h1v1h-1zM196 21h1v1h-1zM203 21h1v1h-1zM205 21h1v1h-1zM220 21h1v1h-1zM226 21h1v1h-1zM229 21h1v1h-1zM87 22h1v1h-1zM102 22h1v1h-1zM124 22h1v1h-1zM127 22h2v1h-2zM133 22h1v1h-1zM136 22h1v1h-1zM140 22h1v1h-1zM195 22h1v1h-1zM95 23h1v1h-1zM108 23h1v1h-1zM138 23h1v1h-1zM140 23h1v1h-1zM182 23h1v1h-1zM197 23h2v1h-2zM204 23h1v1h-1zM206 23h2v1h-2zM224 23h1v1h-1zM229 23h1v1h-1zM61 24h1v1h-1zM76 24h1v1h-1zM78 24h1v1h-1zM95 24h1v1h-1zM121 24h1v1h-1zM139 24h1v1h-1zM145 24h1v1h-1zM159 24h1v1h-1zM225 25h1v1h-1zM149 27h1v1h-1zM3 28h1v1h-1zM20 28h1v1h-1zM27 28h1v1h-1zM84 28h1v1h-1zM91 28h1v1h-1zM97 28h1v1h-1zM130 28h1v1h-1zM165 28h1v1h-1zM177 28h1v1h-1zM180 28h1v1h-1zM32 29h1v1h-1zM38 29h1v1h-1zM48 29h1v1h-1zM52 29h1v1h-1zM56 29h1v1h-1zM65 29h1v1h-1zM77 29h1v1h-1zM80 29h1v1h-1zM89 29h1v1h-1zM99 29h1v1h-1zM105 29h1v1h-1zM118 29h1v1h-1zM120 29h1v1h-1zM162 29h1v1h-1zM217 29h1v1h-1zM225 29h1v1h-1zM3 30h1v1h-1zM6 30h1v1h-1zM46 30h1v1h-1zM51 30h1v1h-1zM67 30h1v1h-1zM85 30h1v1h-1zM89 30h1v1h-1zM132 30h1v1h-1zM136 30h1v1h-1zM158 30h1v1h-1zM165 30h1v1h-1zM170 30h1v1h-1zM176 30h1v1h-1zM205 30h1v1h-1zM218 30h1v1h-1zM221 30h1v1h-1zM231 30h1v1h-1zM50 31h1v1h-1zM52 31h1v1h-1zM66 31h1v1h-1zM71 31h1v1h-1zM77 31h1v1h-1zM90 31h1v1h-1zM101 31h1v1h-1zM117 31h1v1h-1zM132 31h1v1h-1zM141 31h1v1h-1zM183 31h1v1h-1zM211 31h1v1h-1zM226 31h1v1h-1zM229 31h1v1h-1zM26 32h1v1h-1zM32 32h1v1h-1zM50 32h1v1h-1zM60 32h1v1h-1zM79 32h1v1h-1zM85 32h1v1h-1zM104 32h1v1h-1zM116 32h1v1h-1zM141 32h1v1h-1zM194 32h2v1h-2zM209 32h1v1h-1zM221 32h1v1h-1zM224 32h1v1h-1zM22 33h1v1h-1zM35 33h1v1h-1zM52 33h1v1h-1zM70 33h1v1h-1zM76 33h1v1h-1zM117 33h1v1h-1zM124 33h2v1h-2zM182 33h1v1h-1zM190 33h2v1h-2zM219 33h1v1h-1zM227 33h1v1h-1zM3 34h1v1h-1zM16 34h1v1h-1zM19 34h1v1h-1zM40 34h1v1h-1zM44 34h1v1h-1zM50 34h2v1h-2zM66 34h1v1h-1zM95 34h1v1h-1zM99 34h1v1h-1zM138 34h1v1h-1zM148 34h1v1h-1zM163 34h1v1h-1zM165 34h1v1h-1zM175 34h1v1h-1zM210 34h1v1h-1zM213 34h2v1h-2zM216 34h1v1h-1zM219 34h1v1h-1zM231 34h2v1h-2zM19 35h1v1h-1zM45 35h1v1h-1zM115 35h1v1h-1zM128 35h1v1h-1zM135 35h1v1h-1zM155 35h1v1h-1zM162 35h1v1h-1zM217 35h1v1h-1zM19 36h1v1h-1zM54 36h1v1h-1zM97 36h1v1h-1zM111 36h1v1h-1zM121 36h1v1h-1zM127 36h1v1h-1zM139 36h1v1h-1zM148 36h1v1h-1zM151 36h1v1h-1zM166 36h1v1h-1zM170 36h1v1h-1zM190 36h1v1h-1zM192 36h1v1h-1zM206 36h1v1h-1zM7 37h1v1h-1zM41 37h2v1h-2zM44 37h1v1h-1zM79 37h1v1h-1zM84 37h1v1h-1zM97 37h1v1h-1zM190 37h1v1h-1zM229 37h1v1h-1zM71 38h1v1h-1zM119 38h1v1h-1zM148 38h1v1h-1zM150 38h1v1h-1zM152 38h1v1h-1zM176 38h1v1h-1zM187 38h1v1h-1zM198 38h1v1h-1zM211 38h1v1h-1z"/><path fill="#bfbfdf" d="M4 0h1v1h-1zM14 1h1v1h-1zM7 4h1v1h-1zM36 8h1v1h-1zM50 8h1v1h-1zM58 8h1v1h-1zM90 8h1v1h-1zM142 8h1v1h-1zM187 8h1v1h-1zM238 8h1v1h-1zM109 9h1v1h-1zM126 9h1v1h-1zM138 9h1v1h-1zM170 9h1v1h-1zM173 9h1v1h-1zM2 10h1v1h-1zM30 10h1v1h-1zM230 10h1v1h-1zM35 11h1v1h-1zM151 11h1v1h-1zM159 11h1v1h-1zM236 11h1v1h-1zM16 13h1v1h-1zM67 13h1v1h-1zM80 13h1v1h-1zM90 13h1v1h-1zM209 13h1v1h-1zM43 14h1v1h-1zM61 14h1v1h-1zM63 14h1v1h-1zM0 15h1v1h-1zM43 15h1v1h-1zM52 15h1v1h-1zM81 15h1v1h-1zM100 15h1v1h-1zM115 15h1v1h-1zM180 15h1v1h-1zM189 15h1v1h-1zM17 16h2v1h-2zM24 16h1v1h-1zM30 16h1v1h-1zM64 16h1v1h-1zM84 16h1v1h-1zM88 16h1v1h-1zM117 16h1v1h-1zM119 16h1v1h-1zM128 16h2v1h-2zM135 16h1v1h-1zM151 16h1v1h-1zM158 16h1v1h-1zM174 16h1v1h-1zM205 16h1v1h-1zM233 16h1v1h-1zM235 16h1v1h-1zM237 16h1v1h-1zM0 17h1v1h-1zM17 17h2v1h-2zM32 17h1v1h-1zM67 17h1v1h-1zM77 17h1v1h-1zM94 17h1v1h-1zM97 17h2v1h-2zM125 17h2v1h-2zM139 17h1v1h-1zM164 17h1v1h-1zM173 17h1v1h-1zM208 17h1v1h-1zM218 17h1v1h-1zM234 17h1v1h-1zM72 18h2v1h-2zM97 18h1v1h-1zM191 18h1v1h-1zM57 20h1v1h-1zM152 20h1v1h-1zM180 20h1v1h-1zM192 20h1v1h-1zM219 20h1v1h-1zM230 20h1v1h-1zM28 21h1v1h-1zM50 21h1v1h-1zM120 21h1v1h-1zM152 21h1v1h-1zM174 21h1v1h-1zM181 21h2v1h-2zM21 22h1v1h-1zM26 22h1v1h-1zM33 22h1v1h-1zM67 22h1v1h-1zM76 22h1v1h-1zM84 22h1v1h-1zM118 22h1v1h-1zM122 22h1v1h-1zM145 22h1v1h-1zM159 22h1v1h-1zM209 22h1v1h-1zM221 22h1v1h-1zM225 22h1v1h-1zM149 23h1v1h-1zM162 23h1v1h-1zM181 23h1v1h-1zM14 24h1v1h-1zM63 24h1v1h-1zM80 24h1v1h-1zM113 24h1v1h-1zM142 24h1v1h-1zM223 24h1v1h-1zM16 28h1v1h-1zM61 28h1v1h-1zM66 28h1v1h-1zM82 28h1v1h-1zM88 28h1v1h-1zM99 28h1v1h-1zM105 28h1v1h-1zM134 28h1v1h-1zM182 28h1v1h-1zM236 28h1v1h-1zM0 29h1v1h-1zM21 29h2v1h-2zM55 29h1v1h-1zM62 29h1v1h-1zM68 29h1v1h-1zM85 29h1v1h-1zM91 29h1v1h-1zM102 29h1v1h-1zM108 29h1v1h-1zM114 29h1v1h-1zM116 29h1v1h-1zM124 29h1v1h-1zM138 29h1v1h-1zM141 29h1v1h-1zM143 29h1v1h-1zM158 29h1v1h-1zM161 29h1v1h-1zM163 29h1v1h-1zM175 29h1v1h-1zM180 29h1v1h-1zM226 29h1v1h-1zM232 29h1v1h-1zM236 29h1v1h-1zM1 30h2v1h-2zM21 30h1v1h-1zM24 30h1v1h-1zM35 30h1v1h-1zM52 30h1v1h-1zM72 30h1v1h-1zM93 30h1v1h-1zM103 30h1v1h-1zM113 30h1v1h-1zM116 30h1v1h-1zM138 30h1v1h-1zM148 30h1v1h-1zM190 30h1v1h-1zM206 30h1v1h-1zM211 30h3v1h-3zM228 30h1v1h-1zM232 30h1v1h-1zM235 30h1v1h-1zM24 31h1v1h-1zM51 31h1v1h-1zM74 31h2v1h-2zM114 31h1v1h-1zM146 31h1v1h-1zM198 31h1v1h-1zM208 31h1v1h-1zM214 31h1v1h-1zM31 32h1v1h-1zM43 32h1v1h-1zM71 32h1v1h-1zM92 32h1v1h-1zM101 32h1v1h-1zM119 32h1v1h-1zM138 32h1v1h-1zM148 32h1v1h-1zM157 32h1v1h-1zM172 32h2v1h-2zM202 32h1v1h-1zM207 32h1v1h-1zM216 32h1v1h-1zM218 32h1v1h-1zM225 32h1v1h-1zM4 33h1v1h-1zM17 33h1v1h-1zM36 33h1v1h-1zM48 33h1v1h-1zM82 33h1v1h-1zM93 33h1v1h-1zM96 33h1v1h-1zM126 33h1v1h-1zM133 33h1v1h-1zM138 33h1v1h-1zM152 33h1v1h-1zM156 33h2v1h-2zM168 33h1v1h-1zM172 33h1v1h-1zM209 33h1v1h-1zM216 33h1v1h-1zM236 33h1v1h-1zM31 34h1v1h-1zM38 34h1v1h-1zM47 34h1v1h-1zM61 34h1v1h-1zM74 34h1v1h-1zM83 34h1v1h-1zM109 34h1v1h-1zM129 34h2v1h-2zM193 34h1v1h-1zM197 34h1v1h-1zM212 34h1v1h-1zM217 34h1v1h-1zM235 34h1v1h-1zM239 34h1v1h-1zM9 35h1v1h-1zM16 35h1v1h-1zM37 35h1v1h-1zM57 35h1v1h-1zM71 35h1v1h-1zM133 35h1v1h-1zM145 35h1v1h-1zM149 35h1v1h-1zM152 35h1v1h-1zM166 35h1v1h-1zM179 35h1v1h-1zM182 35h1v1h-1zM184 35h1v1h-1zM205 35h1v1h-1zM5 36h1v1h-1zM65 36h1v1h-1zM100 36h1v1h-1zM103 36h1v1h-1zM117 36h1v1h-1zM133 36h1v1h-1zM141 36h1v1h-1zM179 36h1v1h-1zM182 36h1v1h-1zM212 36h1v1h-1zM69 37h1v1h-1zM106 37h1v1h-1zM128 37h1v1h-1zM141 37h1v1h-1zM232 37h1v1h-1zM18 38h1v1h-1zM26 38h1v1h-1zM62 38h1v1h-1zM67 38h1v1h-1zM70 38h1v1h-1zM123 38h1v1h-1zM168 38h1v1h-1zM178 38h2v1h-2zM183 38h1v1h-1zM209 38h1v1h-1zM214 38h1v1h-1zM221 38h1v1h-1zM228 38h1v1h-1z"/><path fill="#cacae5" d="M2 0h1v1h-1zM14 2h1v1h-1zM4 4h1v1h-1zM13 4h1v1h-1zM49 7h1v1h-1zM63 8h1v1h-1zM74 8h1v1h-1zM96 8h1v1h-1zM116 8h1v1h-1zM139 8h1v1h-1zM172 8h1v1h-1zM44 9h1v1h-1zM52 9h1v1h-1zM69 9h1v1h-1zM75 9h1v1h-1zM166 9h1v1h-1zM169 9h1v1h-1zM210 9h1v1h-1zM235 9h1v1h-1zM66 10h1v1h-1zM19 11h1v1h-1zM70 11h1v1h-1zM82 11h1v1h-1zM97 11h1v1h-1zM129 11h1v1h-1zM138 11h1v1h-1zM145 11h1v1h-1zM167 11h1v1h-1zM179 11h1v1h-1zM194 11h1v1h-1zM207 11h1v1h-1zM227 12h1v1h-1zM57 13h1v1h-1zM64 13h1v1h-1zM78 13h1v1h-1zM108 13h1v1h-1zM141 13h1v1h-1zM158 13h1v1h-1zM232 13h1v1h-1zM28 14h1v1h-1zM64 14h1v1h-1zM72 14h1v1h-1zM80 14h1v1h-1zM144 14h1v1h-1zM153 14h1v1h-1zM209 14h1v1h-1zM227 14h1v1h-1zM232 14h1v1h-1zM21 15h1v1h-1zM36 15h1v1h-1zM49 15h1v1h-1zM61 15h1v1h-1zM67 15h1v1h-1zM72 15h1v1h-1zM90 15h1v1h-1zM119 15h1v1h-1zM124 15h1v1h-1zM156 15h1v1h-1zM198 15h1v1h-1zM236 15h1v1h-1zM26 16h1v1h-1zM35 16h1v1h-1zM58 16h1v1h-1zM70 16h1v1h-1zM76 16h1v1h-1zM94 16h1v1h-1zM104 16h1v1h-1zM132 16h1v1h-1zM161 16h1v1h-1zM171 16h1v1h-1zM188 16h1v1h-1zM199 16h1v1h-1zM202 16h1v1h-1zM204 16h1v1h-1zM227 16h2v1h-2zM236 16h1v1h-1zM24 17h1v1h-1zM36 17h1v1h-1zM40 17h1v1h-1zM65 17h1v1h-1zM78 17h1v1h-1zM85 17h2v1h-2zM107 17h1v1h-1zM112 17h1v1h-1zM135 17h3v1h-3zM143 17h1v1h-1zM151 17h1v1h-1zM156 17h1v1h-1zM159 17h1v1h-1zM166 17h1v1h-1zM168 17h1v1h-1zM182 17h1v1h-1zM184 17h1v1h-1zM201 17h1v1h-1zM222 17h1v1h-1zM224 17h1v1h-1zM15 18h1v1h-1zM17 18h1v1h-1zM35 18h1v1h-1zM78 18h1v1h-1zM96 18h1v1h-1zM212 18h1v1h-1zM23 20h1v1h-1zM44 20h1v1h-1zM106 20h1v1h-1zM211 20h1v1h-1zM6 21h1v1h-1zM15 21h1v1h-1zM49 21h1v1h-1zM79 21h1v1h-1zM81 21h1v1h-1zM146 21h1v1h-1zM149 21h1v1h-1zM153 21h2v1h-2zM160 21h1v1h-1zM164 21h1v1h-1zM189 21h1v1h-1zM198 21h1v1h-1zM217 21h1v1h-1zM2 22h1v1h-1zM44 22h1v1h-1zM106 22h1v1h-1zM110 22h1v1h-1zM120 22h1v1h-1zM126 22h1v1h-1zM214 22h1v1h-1zM216 22h1v1h-1zM14 23h1v1h-1zM22 23h1v1h-1zM133 23h1v1h-1zM142 23h1v1h-1zM160 23h1v1h-1zM190 23h1v1h-1zM236 23h1v1h-1zM155 24h1v1h-1zM237 24h1v1h-1zM2 28h1v1h-1zM8 28h1v1h-1zM62 28h1v1h-1zM93 28h1v1h-1zM110 28h1v1h-1zM172 28h1v1h-1zM183 28h1v1h-1zM210 28h1v1h-1zM214 28h1v1h-1zM23 29h1v1h-1zM59 29h1v1h-1zM92 29h1v1h-1zM127 29h1v1h-1zM134 29h1v1h-1zM137 29h1v1h-1zM152 29h1v1h-1zM166 29h1v1h-1zM185 29h1v1h-1zM187 29h1v1h-1zM201 29h1v1h-1zM203 29h2v1h-2zM206 29h1v1h-1zM216 29h1v1h-1zM9 30h1v1h-1zM22 30h1v1h-1zM41 30h1v1h-1zM47 30h2v1h-2zM55 30h1v1h-1zM59 30h1v1h-1zM71 30h1v1h-1zM80 30h1v1h-1zM105 30h1v1h-1zM131 30h1v1h-1zM134 30h1v1h-1zM159 30h1v1h-1zM162 30h1v1h-1zM167 30h1v1h-1zM203 30h1v1h-1zM32 31h1v1h-1zM43 31h1v1h-1zM70 31h1v1h-1zM111 31h1v1h-1zM143 31h1v1h-1zM170 31h1v1h-1zM184 31h1v1h-1zM190 31h1v1h-1zM204 31h1v1h-1zM210 31h1v1h-1zM49 32h1v1h-1zM74 32h1v1h-1zM80 32h1v1h-1zM95 32h1v1h-1zM103 32h1v1h-1zM105 32h1v1h-1zM109 32h1v1h-1zM115 32h1v1h-1zM145 32h1v1h-1zM201 32h1v1h-1zM240 32h1v1h-1zM1 33h1v1h-1zM33 33h1v1h-1zM50 33h1v1h-1zM58 33h1v1h-1zM74 33h1v1h-1zM97 33h1v1h-1zM100 33h1v1h-1zM103 33h1v1h-1zM145 33h1v1h-1zM188 33h1v1h-1zM239 33h1v1h-1zM6 34h1v1h-1zM14 34h1v1h-1zM24 34h1v1h-1zM30 34h1v1h-1zM33 34h1v1h-1zM67 34h1v1h-1zM69 34h1v1h-1zM96 34h1v1h-1zM113 34h2v1h-2zM117 34h1v1h-1zM133 34h1v1h-1zM161 34h1v1h-1zM167 34h1v1h-1zM184 34h1v1h-1zM186 34h1v1h-1zM224 34h1v1h-1zM228 34h1v1h-1zM234 34h1v1h-1zM15 35h1v1h-1zM18 35h1v1h-1zM70 35h1v1h-1zM93 35h1v1h-1zM98 35h1v1h-1zM111 35h1v1h-1zM141 35h1v1h-1zM192 35h2v1h-2zM198 35h2v1h-2zM23 36h2v1h-2zM28 36h1v1h-1zM30 36h1v1h-1zM43 36h1v1h-1zM79 36h1v1h-1zM114 36h1v1h-1zM120 36h1v1h-1zM137 36h1v1h-1zM178 36h1v1h-1zM188 36h1v1h-1zM216 36h1v1h-1zM225 36h1v1h-1zM240 36h1v1h-1zM34 37h1v1h-1zM70 37h1v1h-1zM113 37h1v1h-1zM136 37h1v1h-1zM160 37h1v1h-1zM177 37h1v1h-1zM185 37h1v1h-1zM202 37h1v1h-1zM213 37h2v1h-2zM235 37h1v1h-1zM17 38h1v1h-1zM24 38h2v1h-2zM38 38h1v1h-1zM40 38h1v1h-1zM56 38h1v1h-1zM64 38h1v1h-1zM106 38h1v1h-1zM115 38h1v1h-1zM121 38h2v1h-2zM135 38h1v1h-1zM155 38h1v1h-1zM174 38h1v1h-1zM189 38h1v1h-1zM193 38h1v1h-1z"/><path fill="#d4d4ea" d="M2 2h1v1h-1zM13 2h1v1h-1zM8 4h1v1h-1zM48 7h1v1h-1zM25 8h1v1h-1zM46 8h1v1h-1zM49 8h1v1h-1zM57 8h1v1h-1zM69 8h2v1h-2zM89 8h1v1h-1zM125 8h1v1h-1zM143 8h1v1h-1zM162 8h1v1h-1zM175 8h1v1h-1zM201 8h1v1h-1zM206 8h1v1h-1zM209 8h1v1h-1zM212 8h1v1h-1zM223 8h1v1h-1zM232 8h1v1h-1zM40 9h1v1h-1zM47 9h1v1h-1zM80 9h1v1h-1zM103 9h1v1h-1zM111 9h1v1h-1zM119 9h1v1h-1zM133 9h1v1h-1zM159 9h1v1h-1zM230 9h1v1h-1zM54 10h1v1h-1zM135 10h1v1h-1zM208 10h1v1h-1zM34 11h1v1h-1zM63 11h1v1h-1zM68 11h1v1h-1zM79 11h1v1h-1zM103 11h1v1h-1zM108 11h1v1h-1zM123 11h1v1h-1zM127 11h1v1h-1zM139 11h1v1h-1zM171 11h1v1h-1zM23 12h1v1h-1zM98 12h1v1h-1zM140 12h1v1h-1zM154 12h2v1h-2zM185 12h1v1h-1zM188 12h1v1h-1zM192 12h1v1h-1zM203 12h1v1h-1zM214 12h1v1h-1zM48 13h1v1h-1zM137 13h1v1h-1zM182 13h1v1h-1zM191 13h1v1h-1zM196 13h1v1h-1zM204 13h1v1h-1zM211 13h1v1h-1zM218 13h1v1h-1zM235 13h1v1h-1zM18 14h1v1h-1zM83 14h1v1h-1zM87 14h1v1h-1zM101 14h1v1h-1zM113 14h1v1h-1zM124 14h1v1h-1zM140 14h1v1h-1zM145 14h1v1h-1zM194 14h1v1h-1zM196 14h1v1h-1zM226 14h1v1h-1zM230 14h2v1h-2zM236 14h1v1h-1zM12 15h1v1h-1zM17 15h1v1h-1zM23 15h1v1h-1zM30 15h2v1h-2zM35 15h1v1h-1zM45 15h1v1h-1zM91 15h1v1h-1zM102 15h1v1h-1zM113 15h1v1h-1zM139 15h1v1h-1zM162 15h1v1h-1zM197 15h1v1h-1zM211 15h1v1h-1zM235 15h1v1h-1zM19 16h1v1h-1zM23 16h1v1h-1zM27 16h2v1h-2zM69 16h1v1h-1zM77 16h1v1h-1zM81 16h1v1h-1zM108 16h3v1h-3zM114 16h1v1h-1zM130 16h1v1h-1zM142 16h1v1h-1zM155 16h1v1h-1zM159 16h1v1h-1zM162 16h1v1h-1zM172 16h1v1h-1zM189 16h1v1h-1zM191 16h1v1h-1zM203 16h1v1h-1zM206 16h1v1h-1zM212 16h1v1h-1zM216 16h2v1h-2zM33 17h1v1h-1zM37 17h1v1h-1zM47 17h1v1h-1zM55 17h1v1h-1zM63 17h1v1h-1zM68 17h1v1h-1zM75 17h1v1h-1zM101 17h1v1h-1zM108 17h1v1h-1zM117 17h1v1h-1zM129 17h1v1h-1zM133 17h1v1h-1zM146 17h1v1h-1zM174 17h1v1h-1zM180 17h1v1h-1zM211 17h1v1h-1zM239 17h1v1h-1zM2 18h1v1h-1zM49 18h1v1h-1zM68 18h1v1h-1zM126 18h3v1h-3zM136 18h1v1h-1zM138 18h1v1h-1zM142 18h1v1h-1zM167 18h1v1h-1zM239 18h1v1h-1zM62 20h1v1h-1zM240 20h1v1h-1zM17 21h1v1h-1zM68 21h1v1h-1zM101 21h1v1h-1zM172 21h1v1h-1zM218 21h1v1h-1zM42 22h1v1h-1zM66 22h1v1h-1zM142 22h1v1h-1zM228 22h1v1h-1zM111 23h1v1h-1zM130 23h1v1h-1zM188 23h1v1h-1zM202 23h1v1h-1zM222 23h1v1h-1zM0 24h1v1h-1zM186 24h1v1h-1zM211 24h1v1h-1zM1 28h1v1h-1zM18 28h1v1h-1zM53 28h1v1h-1zM225 28h1v1h-1zM4 29h1v1h-1zM29 29h1v1h-1zM54 29h1v1h-1zM58 29h1v1h-1zM75 29h2v1h-2zM78 29h1v1h-1zM82 29h1v1h-1zM86 29h1v1h-1zM101 29h1v1h-1zM132 29h1v1h-1zM172 29h1v1h-1zM181 29h2v1h-2zM184 29h1v1h-1zM199 29h1v1h-1zM212 29h1v1h-1zM220 29h2v1h-2zM240 29h1v1h-1zM5 30h1v1h-1zM16 30h2v1h-2zM31 30h1v1h-1zM37 30h1v1h-1zM40 30h1v1h-1zM53 30h1v1h-1zM57 30h1v1h-1zM86 30h2v1h-2zM100 30h1v1h-1zM114 30h1v1h-1zM120 30h1v1h-1zM146 30h1v1h-1zM149 30h1v1h-1zM152 30h1v1h-1zM163 30h1v1h-1zM184 30h1v1h-1zM187 30h1v1h-1zM202 30h1v1h-1zM219 30h1v1h-1zM227 30h1v1h-1zM25 31h1v1h-1zM45 31h1v1h-1zM65 31h1v1h-1zM155 31h1v1h-1zM232 31h1v1h-1zM63 32h1v1h-1zM69 32h1v1h-1zM108 32h1v1h-1zM137 32h1v1h-1zM186 32h1v1h-1zM237 32h1v1h-1zM45 33h1v1h-1zM56 33h1v1h-1zM94 33h1v1h-1zM110 33h1v1h-1zM112 33h1v1h-1zM158 33h1v1h-1zM174 33h1v1h-1zM205 33h1v1h-1zM1 34h1v1h-1zM9 34h1v1h-1zM35 34h1v1h-1zM68 34h1v1h-1zM70 34h1v1h-1zM100 34h2v1h-2zM121 34h1v1h-1zM124 34h1v1h-1zM139 34h1v1h-1zM180 34h1v1h-1zM187 34h1v1h-1zM208 34h1v1h-1zM6 35h1v1h-1zM13 35h1v1h-1zM20 35h1v1h-1zM25 35h1v1h-1zM74 35h1v1h-1zM77 35h1v1h-1zM82 35h2v1h-2zM106 35h1v1h-1zM109 35h1v1h-1zM125 35h1v1h-1zM139 35h1v1h-1zM159 35h1v1h-1zM180 35h1v1h-1zM185 35h2v1h-2zM215 35h1v1h-1zM61 36h1v1h-1zM71 36h1v1h-1zM87 36h1v1h-1zM146 36h1v1h-1zM167 36h1v1h-1zM220 36h1v1h-1zM3 37h1v1h-1zM11 37h1v1h-1zM20 37h1v1h-1zM26 37h1v1h-1zM54 37h3v1h-3zM92 37h1v1h-1zM121 37h1v1h-1zM182 37h1v1h-1zM191 37h1v1h-1zM199 37h1v1h-1zM22 38h1v1h-1zM33 38h1v1h-1zM77 38h1v1h-1zM80 38h1v1h-1zM95 38h1v1h-1zM124 38h1v1h-1zM127 38h1v1h-1zM134 38h1v1h-1zM167 38h1v1h-1zM170 38h1v1h-1zM173 38h1v1h-1zM213 38h1v1h-1zM225 38h1v1h-1zM235 38h1v1h-1z"/><path fill="#dfdfef" d="M6 0h1v1h-1zM9 0h1v1h-1zM152 7h1v1h-1zM34 8h1v1h-1zM42 8h1v1h-1zM52 8h1v1h-1zM64 8h1v1h-1zM76 8h1v1h-1zM92 8h1v1h-1zM94 8h1v1h-1zM105 8h1v1h-1zM108 8h1v1h-1zM112 8h1v1h-1zM117 8h1v1h-1zM119 8h1v1h-1zM156 8h1v1h-1zM174 8h1v1h-1zM178 8h1v1h-1zM180 8h1v1h-1zM193 8h1v1h-1zM203 8h1v1h-1zM220 8h1v1h-1zM8 9h1v1h-1zM11 9h1v1h-1zM23 9h1v1h-1zM32 9h1v1h-1zM34 9h1v1h-1zM39 9h1v1h-1zM42 9h1v1h-1zM46 9h1v1h-1zM61 9h1v1h-1zM81 9h1v1h-1zM96 9h1v1h-1zM105 9h1v1h-1zM112 9h1v1h-1zM117 9h1v1h-1zM179 9h1v1h-1zM182 9h1v1h-1zM188 9h1v1h-1zM225 9h1v1h-1zM153 10h1v1h-1zM203 10h1v1h-1zM28 11h1v1h-1zM30 11h1v1h-1zM47 11h1v1h-1zM64 11h1v1h-1zM73 11h1v1h-1zM90 11h2v1h-2zM116 11h2v1h-2zM130 11h1v1h-1zM134 11h1v1h-1zM142 11h1v1h-1zM161 11h1v1h-1zM164 11h1v1h-1zM182 11h1v1h-1zM217 11h1v1h-1zM80 12h1v1h-1zM86 12h1v1h-1zM100 12h1v1h-1zM113 12h1v1h-1zM145 12h1v1h-1zM162 12h1v1h-1zM196 12h2v1h-2zM229 12h1v1h-1zM22 13h1v1h-1zM44 13h1v1h-1zM59 13h1v1h-1zM62 13h1v1h-1zM72 13h1v1h-1zM76 13h1v1h-1zM95 13h1v1h-1zM105 13h1v1h-1zM107 13h1v1h-1zM152 13h1v1h-1zM161 13h1v1h-1zM210 13h1v1h-1zM224 13h1v1h-1zM229 13h1v1h-1zM24 14h1v1h-1zM44 14h1v1h-1zM105 14h2v1h-2zM123 14h1v1h-1zM148 14h1v1h-1zM165 14h1v1h-1zM170 14h1v1h-1zM177 14h1v1h-1zM204 14h1v1h-1zM210 14h1v1h-1zM219 14h1v1h-1zM221 14h1v1h-1zM6 15h1v1h-1zM19 15h1v1h-1zM42 15h1v1h-1zM55 15h1v1h-1zM65 15h2v1h-2zM85 15h1v1h-1zM130 15h1v1h-1zM135 15h1v1h-1zM140 15h1v1h-1zM144 15h1v1h-1zM154 15h1v1h-1zM178 15h1v1h-1zM182 15h1v1h-1zM200 15h1v1h-1zM207 15h1v1h-1zM226 15h1v1h-1zM21 16h2v1h-2zM41 16h1v1h-1zM48 16h1v1h-1zM54 16h1v1h-1zM61 16h3v1h-3zM71 16h1v1h-1zM85 16h1v1h-1zM90 16h1v1h-1zM100 16h4v1h-4zM113 16h1v1h-1zM125 16h1v1h-1zM127 16h1v1h-1zM136 16h1v1h-1zM147 16h2v1h-2zM166 16h1v1h-1zM176 16h1v1h-1zM179 16h2v1h-2zM186 16h1v1h-1zM190 16h1v1h-1zM196 16h1v1h-1zM215 16h1v1h-1zM224 16h2v1h-2zM234 16h1v1h-1zM240 16h1v1h-1zM8 17h1v1h-1zM19 17h1v1h-1zM26 17h1v1h-1zM51 17h1v1h-1zM59 17h1v1h-1zM64 17h1v1h-1zM70 17h2v1h-2zM79 17h1v1h-1zM95 17h1v1h-1zM105 17h1v1h-1zM123 17h1v1h-1zM153 17h1v1h-1zM170 17h1v1h-1zM179 17h1v1h-1zM192 17h1v1h-1zM203 17h1v1h-1zM219 17h1v1h-1zM221 17h1v1h-1zM229 17h1v1h-1zM237 17h1v1h-1zM43 18h1v1h-1zM58 18h1v1h-1zM83 18h1v1h-1zM113 18h1v1h-1zM120 18h1v1h-1zM186 18h1v1h-1zM204 18h1v1h-1zM218 18h1v1h-1zM224 18h1v1h-1zM85 20h1v1h-1zM2 21h1v1h-1zM9 21h1v1h-1zM48 21h1v1h-1zM51 21h1v1h-1zM87 21h1v1h-1zM124 21h1v1h-1zM150 21h2v1h-2zM183 21h1v1h-1zM119 22h1v1h-1zM10 23h1v1h-1zM126 23h1v1h-1zM220 23h1v1h-1zM70 24h1v1h-1zM71 28h1v1h-1zM95 28h1v1h-1zM109 28h1v1h-1zM174 28h1v1h-1zM211 28h1v1h-1zM24 29h1v1h-1zM40 29h1v1h-1zM42 29h1v1h-1zM45 29h1v1h-1zM47 29h1v1h-1zM117 29h1v1h-1zM123 29h1v1h-1zM126 29h1v1h-1zM128 29h1v1h-1zM147 29h1v1h-1zM151 29h1v1h-1zM164 29h1v1h-1zM168 29h1v1h-1zM183 29h1v1h-1zM188 29h1v1h-1zM190 29h1v1h-1zM193 29h1v1h-1zM195 29h2v1h-2zM239 29h1v1h-1zM15 30h1v1h-1zM19 30h1v1h-1zM27 30h1v1h-1zM29 30h1v1h-1zM44 30h1v1h-1zM49 30h2v1h-2zM65 30h1v1h-1zM73 30h1v1h-1zM115 30h1v1h-1zM123 30h1v1h-1zM126 30h1v1h-1zM151 30h1v1h-1zM156 30h1v1h-1zM168 30h1v1h-1zM175 30h1v1h-1zM182 30h1v1h-1zM237 30h1v1h-1zM79 31h1v1h-1zM103 31h1v1h-1zM105 31h1v1h-1zM137 31h1v1h-1zM142 31h1v1h-1zM163 31h1v1h-1zM218 31h1v1h-1zM48 32h1v1h-1zM56 32h1v1h-1zM82 32h1v1h-1zM93 32h1v1h-1zM100 32h1v1h-1zM128 32h1v1h-1zM140 32h1v1h-1zM142 32h1v1h-1zM212 32h1v1h-1zM234 32h1v1h-1zM10 33h1v1h-1zM30 33h1v1h-1zM84 33h1v1h-1zM111 33h1v1h-1zM115 33h1v1h-1zM123 33h1v1h-1zM224 33h1v1h-1zM20 34h1v1h-1zM39 34h1v1h-1zM60 34h1v1h-1zM75 34h1v1h-1zM106 34h1v1h-1zM111 34h1v1h-1zM128 34h1v1h-1zM154 34h1v1h-1zM166 34h1v1h-1zM177 34h1v1h-1zM182 34h1v1h-1zM220 34h1v1h-1zM223 34h1v1h-1zM227 34h1v1h-1zM240 34h1v1h-1zM49 35h1v1h-1zM78 35h2v1h-2zM95 35h1v1h-1zM161 35h1v1h-1zM196 35h1v1h-1zM210 35h1v1h-1zM216 35h1v1h-1zM238 35h2v1h-2zM55 36h1v1h-1zM69 36h1v1h-1zM76 36h1v1h-1zM101 36h1v1h-1zM112 36h1v1h-1zM169 36h1v1h-1zM181 36h1v1h-1zM222 36h1v1h-1zM48 37h1v1h-1zM58 37h1v1h-1zM149 37h1v1h-1zM174 37h1v1h-1zM186 37h1v1h-1zM37 38h1v1h-1zM39 38h1v1h-1zM52 38h1v1h-1zM65 38h1v1h-1zM89 38h1v1h-1zM108 38h1v1h-1zM165 38h1v1h-1z"/><path fill="#eaeaf4" d="M13 0h1v1h-1zM23 0h1v1h-1zM193 0h1v1h-1zM6 2h1v1h-1zM67 5h1v1h-1zM40 7h1v1h-1zM64 7h1v1h-1zM90 7h1v1h-1zM99 7h1v1h-1zM131 7h1v1h-1zM208 7h1v1h-1zM237 7h1v1h-1zM43 8h1v1h-1zM61 8h1v1h-1zM85 8h1v1h-1zM106 8h1v1h-1zM120 8h1v1h-1zM145 8h1v1h-1zM151 8h1v1h-1zM157 8h1v1h-1zM196 8h1v1h-1zM208 8h1v1h-1zM211 8h1v1h-1zM214 8h1v1h-1zM217 8h1v1h-1zM222 8h1v1h-1zM22 9h1v1h-1zM30 9h2v1h-2zM48 9h1v1h-1zM72 9h1v1h-1zM102 9h1v1h-1zM113 9h2v1h-2zM140 9h1v1h-1zM157 9h1v1h-1zM178 9h1v1h-1zM181 9h1v1h-1zM198 9h1v1h-1zM207 9h2v1h-2zM222 9h1v1h-1zM226 9h1v1h-1zM62 10h1v1h-1zM65 10h1v1h-1zM73 10h1v1h-1zM108 10h1v1h-1zM112 10h1v1h-1zM119 10h1v1h-1zM147 10h1v1h-1zM192 10h1v1h-1zM20 11h1v1h-1zM32 11h1v1h-1zM43 11h1v1h-1zM59 11h1v1h-1zM76 11h1v1h-1zM88 11h1v1h-1zM99 11h1v1h-1zM104 11h1v1h-1zM124 11h1v1h-1zM132 11h1v1h-1zM154 11h1v1h-1zM173 11h1v1h-1zM183 11h1v1h-1zM190 11h1v1h-1zM230 11h1v1h-1zM25 12h1v1h-1zM62 12h1v1h-1zM77 12h1v1h-1zM91 12h1v1h-1zM115 12h1v1h-1zM143 12h1v1h-1zM150 12h1v1h-1zM161 12h1v1h-1zM182 12h1v1h-1zM191 12h1v1h-1zM194 12h1v1h-1zM199 12h1v1h-1zM211 12h1v1h-1zM45 13h1v1h-1zM63 13h1v1h-1zM83 13h2v1h-2zM94 13h1v1h-1zM102 13h1v1h-1zM119 13h1v1h-1zM132 13h1v1h-1zM164 13h1v1h-1zM166 13h1v1h-1zM169 13h1v1h-1zM171 13h1v1h-1zM173 13h1v1h-1zM175 13h1v1h-1zM177 13h1v1h-1zM185 13h1v1h-1zM189 13h1v1h-1zM194 13h1v1h-1zM215 13h1v1h-1zM17 14h1v1h-1zM25 14h1v1h-1zM46 14h1v1h-1zM68 14h1v1h-1zM74 14h1v1h-1zM98 14h1v1h-1zM104 14h1v1h-1zM129 14h1v1h-1zM138 14h1v1h-1zM178 14h1v1h-1zM26 15h1v1h-1zM46 15h1v1h-1zM54 15h1v1h-1zM68 15h1v1h-1zM75 15h1v1h-1zM88 15h1v1h-1zM110 15h1v1h-1zM112 15h1v1h-1zM114 15h1v1h-1zM122 15h1v1h-1zM128 15h1v1h-1zM171 15h1v1h-1zM177 15h1v1h-1zM185 15h1v1h-1zM194 15h1v1h-1zM220 15h1v1h-1zM222 15h1v1h-1zM229 15h3v1h-3zM25 16h1v1h-1zM74 16h2v1h-2zM93 16h1v1h-1zM107 16h1v1h-1zM123 16h1v1h-1zM126 16h1v1h-1zM144 16h1v1h-1zM154 16h1v1h-1zM170 16h1v1h-1zM181 16h1v1h-1zM207 16h1v1h-1zM3 17h1v1h-1zM5 17h1v1h-1zM16 17h1v1h-1zM25 17h1v1h-1zM27 17h1v1h-1zM34 17h1v1h-1zM41 17h1v1h-1zM53 17h1v1h-1zM62 17h1v1h-1zM99 17h1v1h-1zM110 17h2v1h-2zM115 17h1v1h-1zM144 17h1v1h-1zM155 17h1v1h-1zM158 17h1v1h-1zM162 17h1v1h-1zM185 17h1v1h-1zM187 17h1v1h-1zM204 17h1v1h-1zM227 17h1v1h-1zM236 17h1v1h-1zM30 18h1v1h-1zM34 18h1v1h-1zM38 18h1v1h-1zM51 18h1v1h-1zM75 18h1v1h-1zM131 18h1v1h-1zM144 18h1v1h-1zM206 18h1v1h-1zM222 20h1v1h-1zM114 21h1v1h-1zM123 21h1v1h-1zM234 21h1v1h-1zM54 22h1v1h-1zM46 23h1v1h-1zM1 24h1v1h-1zM28 28h1v1h-1zM118 28h1v1h-1zM129 28h1v1h-1zM146 28h1v1h-1zM153 28h1v1h-1zM2 29h1v1h-1zM16 29h1v1h-1zM64 29h1v1h-1zM69 29h1v1h-1zM72 29h1v1h-1zM93 29h1v1h-1zM100 29h1v1h-1zM150 29h1v1h-1zM160 29h1v1h-1zM202 29h1v1h-1zM218 29h1v1h-1zM228 29h1v1h-1zM231 29h1v1h-1zM11 30h1v1h-1zM30 30h1v1h-1zM36 30h1v1h-1zM39 30h1v1h-1zM56 30h1v1h-1zM79 30h1v1h-1zM94 30h2v1h-2zM119 30h1v1h-1zM133 30h1v1h-1zM145 30h1v1h-1zM150 30h1v1h-1zM160 30h1v1h-1zM164 30h1v1h-1zM169 30h1v1h-1zM174 30h1v1h-1zM185 30h1v1h-1zM194 30h1v1h-1zM198 30h1v1h-1zM209 30h1v1h-1zM225 30h1v1h-1zM234 30h1v1h-1zM31 31h1v1h-1zM123 31h1v1h-1zM140 31h1v1h-1zM202 31h1v1h-1zM34 32h1v1h-1zM76 32h1v1h-1zM78 32h1v1h-1zM118 32h1v1h-1zM123 32h1v1h-1zM135 32h1v1h-1zM181 33h1v1h-1zM221 33h1v1h-1zM5 34h1v1h-1zM41 34h1v1h-1zM53 34h1v1h-1zM63 34h1v1h-1zM82 34h1v1h-1zM108 34h1v1h-1zM146 34h1v1h-1zM150 34h1v1h-1zM27 35h1v1h-1zM63 35h1v1h-1zM76 35h1v1h-1zM86 35h1v1h-1zM99 35h1v1h-1zM197 35h1v1h-1zM202 35h1v1h-1zM227 35h1v1h-1zM47 36h1v1h-1zM176 36h1v1h-1zM184 36h1v1h-1zM202 36h1v1h-1zM204 36h1v1h-1zM218 36h1v1h-1zM234 36h1v1h-1zM27 37h1v1h-1zM68 37h1v1h-1zM233 37h1v1h-1zM23 38h1v1h-1zM100 38h1v1h-1zM172 38h1v1h-1zM186 38h1v1h-1zM216 38h1v1h-1z"/><path fill="#f4f4fa" d="M8 0h1v1h-1zM57 0h1v1h-1zM104 0h2v1h-2zM5 2h1v1h-1zM12 3h1v1h-1zM158 4h1v1h-1zM26 7h1v1h-1zM32 7h1v1h-1zM121 7h1v1h-1zM134 7h1v1h-1zM136 7h1v1h-1zM187 7h1v1h-1zM194 7h1v1h-1zM19 8h1v1h-1zM37 8h1v1h-1zM54 8h1v1h-1zM56 8h1v1h-1zM91 8h1v1h-1zM95 8h1v1h-1zM109 8h1v1h-1zM113 8h1v1h-1zM182 8h1v1h-1zM191 8h2v1h-2zM194 8h1v1h-1zM207 8h1v1h-1zM235 8h1v1h-1zM239 8h2v1h-2zM0 9h1v1h-1zM9 9h1v1h-1zM38 9h1v1h-1zM51 9h1v1h-1zM55 9h2v1h-2zM67 9h1v1h-1zM79 9h1v1h-1zM89 9h1v1h-1zM106 9h1v1h-1zM128 9h1v1h-1zM135 9h1v1h-1zM139 9h1v1h-1zM147 9h1v1h-1zM164 9h1v1h-1zM176 9h1v1h-1zM183 9h1v1h-1zM185 9h1v1h-1zM187 9h1v1h-1zM209 9h1v1h-1zM227 9h1v1h-1zM234 9h1v1h-1zM238 9h1v1h-1zM22 10h1v1h-1zM32 10h1v1h-1zM38 10h1v1h-1zM50 10h1v1h-1zM61 10h1v1h-1zM107 10h1v1h-1zM109 10h1v1h-1zM140 10h1v1h-1zM150 10h1v1h-1zM162 10h1v1h-1zM164 10h1v1h-1zM177 10h1v1h-1zM199 10h1v1h-1zM21 11h1v1h-1zM105 11h1v1h-1zM119 11h1v1h-1zM152 11h1v1h-1zM174 11h1v1h-1zM177 11h1v1h-1zM188 11h1v1h-1zM191 11h1v1h-1zM199 11h1v1h-1zM201 11h1v1h-1zM209 11h1v1h-1zM215 11h1v1h-1zM224 11h1v1h-1zM231 11h1v1h-1zM240 11h1v1h-1zM18 12h1v1h-1zM46 12h1v1h-1zM50 12h1v1h-1zM60 12h2v1h-2zM74 12h1v1h-1zM176 12h1v1h-1zM219 12h2v1h-2zM232 12h1v1h-1zM17 13h1v1h-1zM28 13h1v1h-1zM33 13h1v1h-1zM35 13h1v1h-1zM47 13h1v1h-1zM54 13h1v1h-1zM56 13h1v1h-1zM58 13h1v1h-1zM87 13h1v1h-1zM91 13h1v1h-1zM104 13h1v1h-1zM114 13h1v1h-1zM117 13h2v1h-2zM122 13h1v1h-1zM125 13h1v1h-1zM135 13h2v1h-2zM143 13h1v1h-1zM149 13h1v1h-1zM151 13h1v1h-1zM153 13h1v1h-1zM159 13h1v1h-1zM167 13h2v1h-2zM206 13h1v1h-1zM230 13h2v1h-2zM238 13h2v1h-2zM41 14h1v1h-1zM53 14h1v1h-1zM69 14h1v1h-1zM88 14h1v1h-1zM92 14h1v1h-1zM107 14h1v1h-1zM117 14h1v1h-1zM132 14h1v1h-1zM154 14h1v1h-1zM161 14h1v1h-1zM164 14h1v1h-1zM172 14h1v1h-1zM179 14h2v1h-2zM184 14h1v1h-1zM187 14h1v1h-1zM199 14h1v1h-1zM207 14h1v1h-1zM211 14h1v1h-1zM234 14h1v1h-1zM238 14h3v1h-3zM20 15h1v1h-1zM22 15h1v1h-1zM24 15h2v1h-2zM51 15h1v1h-1zM53 15h1v1h-1zM57 15h2v1h-2zM71 15h1v1h-1zM74 15h1v1h-1zM107 15h1v1h-1zM109 15h1v1h-1zM111 15h1v1h-1zM118 15h1v1h-1zM120 15h1v1h-1zM123 15h1v1h-1zM129 15h1v1h-1zM137 15h1v1h-1zM166 15h2v1h-2zM174 15h3v1h-3zM183 15h1v1h-1zM199 15h1v1h-1zM217 15h1v1h-1zM228 15h1v1h-1zM239 15h1v1h-1zM65 16h1v1h-1zM68 16h1v1h-1zM105 16h2v1h-2zM112 16h1v1h-1zM118 16h1v1h-1zM121 16h1v1h-1zM141 16h1v1h-1zM223 16h1v1h-1zM42 17h1v1h-1zM56 17h1v1h-1zM61 17h1v1h-1zM69 17h1v1h-1zM81 17h1v1h-1zM93 17h1v1h-1zM103 17h1v1h-1zM106 17h1v1h-1zM119 17h1v1h-1zM152 17h1v1h-1zM167 17h1v1h-1zM177 17h1v1h-1zM194 17h1v1h-1zM196 17h1v1h-1zM210 17h1v1h-1zM216 17h1v1h-1zM230 17h1v1h-1zM235 17h1v1h-1zM26 18h1v1h-1zM48 18h1v1h-1zM60 18h1v1h-1zM63 18h1v1h-1zM69 18h1v1h-1zM109 18h1v1h-1zM125 18h1v1h-1zM152 18h1v1h-1zM154 18h1v1h-1zM170 18h1v1h-1zM193 18h1v1h-1zM200 18h1v1h-1zM225 18h1v1h-1zM202 20h1v1h-1zM13 21h1v1h-1zM46 21h1v1h-1zM133 21h1v1h-1zM148 21h1v1h-1zM186 21h1v1h-1zM222 21h1v1h-1zM9 22h1v1h-1zM98 22h1v1h-1zM121 22h1v1h-1zM210 22h1v1h-1zM7 23h1v1h-1zM125 23h1v1h-1zM209 23h1v1h-1zM19 29h1v1h-1zM33 29h1v1h-1zM39 29h1v1h-1zM70 29h1v1h-1zM95 29h1v1h-1zM111 29h1v1h-1zM119 29h1v1h-1zM125 29h1v1h-1zM169 29h1v1h-1zM194 29h1v1h-1zM205 29h1v1h-1zM230 29h1v1h-1zM8 30h1v1h-1zM23 30h1v1h-1zM34 30h1v1h-1zM77 30h1v1h-1zM101 30h1v1h-1zM112 30h1v1h-1zM121 30h1v1h-1zM129 30h1v1h-1zM153 30h1v1h-1zM193 30h1v1h-1zM195 30h1v1h-1zM217 30h1v1h-1zM229 30h1v1h-1zM35 31h1v1h-1zM122 31h1v1h-1zM238 31h1v1h-1zM46 32h1v1h-1zM84 32h1v1h-1zM98 32h2v1h-2zM120 32h1v1h-1zM155 32h1v1h-1zM219 32h1v1h-1zM229 32h1v1h-1zM88 33h1v1h-1zM92 33h1v1h-1zM154 33h1v1h-1zM200 33h1v1h-1zM208 33h1v1h-1zM15 34h1v1h-1zM43 34h1v1h-1zM65 34h1v1h-1zM107 34h1v1h-1zM125 34h1v1h-1zM127 34h1v1h-1zM144 34h1v1h-1zM159 34h1v1h-1zM205 34h1v1h-1zM29 35h1v1h-1zM39 35h1v1h-1zM48 35h1v1h-1zM171 35h1v1h-1zM194 35h1v1h-1zM223 35h1v1h-1zM56 36h1v1h-1zM75 36h1v1h-1zM119 36h1v1h-1zM126 36h1v1h-1zM135 36h1v1h-1zM159 36h1v1h-1zM81 37h1v1h-1zM101 37h1v1h-1zM138 37h1v1h-1zM165 37h1v1h-1zM139 38h1v1h-1zM200 38h1v1h-1z"/><path fill="#ffffff" d="M22 0h1v1h-1zM32 0h1v1h-1zM98 0h1v1h-1zM107 0h1v1h-1zM7 1h1v1h-1zM7 2h1v1h-1zM8 3h1v1h-1zM16 3h1v1h-1zM14 4h1v1h-1zM112 4h1v1h-1zM2 5h1v1h-1zM68 5h1v1h-1zM182 5h1v1h-1zM228 5h1v1h-1zM21 7h1v1h-1zM25 7h1v1h-1zM63 7h1v1h-1zM98 7h1v1h-1zM115 7h1v1h-1zM127 7h2v1h-2zM163 7h1v1h-1zM183 7h1v1h-1zM217 7h1v1h-1zM232 7h1v1h-1zM18 8h1v1h-1zM26 8h1v1h-1zM29 8h2v1h-2zM32 8h1v1h-1zM45 8h1v1h-1zM62 8h1v1h-1zM73 8h1v1h-1zM80 8h1v1h-1zM84 8h1v1h-1zM101 8h1v1h-1zM128 8h2v1h-2zM140 8h2v1h-2zM144 8h1v1h-1zM148 8h1v1h-1zM161 8h1v1h-1zM165 8h2v1h-2zM169 8h2v1h-2zM173 8h1v1h-1zM179 8h1v1h-1zM195 8h1v1h-1zM199 8h1v1h-1zM210 8h1v1h-1zM219 8h1v1h-1zM231 8h1v1h-1zM236 8h1v1h-1zM2 9h1v1h-1zM20 9h1v1h-1zM58 9h1v1h-1zM76 9h1v1h-1zM78 9h1v1h-1zM83 9h1v1h-1zM86 9h1v1h-1zM91 9h1v1h-1zM98 9h3v1h-3zM110 9h1v1h-1zM124 9h1v1h-1zM131 9h1v1h-1zM163 9h1v1h-1zM167 9h2v1h-2zM174 9h2v1h-2zM186 9h1v1h-1zM190 9h2v1h-2zM201 9h1v1h-1zM204 9h1v1h-1zM212 9h1v1h-1zM228 9h1v1h-1zM232 9h1v1h-1zM239 9h1v1h-1zM18 10h1v1h-1zM25 10h1v1h-1zM41 10h1v1h-1zM43 10h1v1h-1zM47 10h1v1h-1zM51 10h1v1h-1zM57 10h1v1h-1zM69 10h1v1h-1zM90 10h1v1h-1zM96 10h1v1h-1zM104 10h1v1h-1zM118 10h1v1h-1zM133 10h1v1h-1zM145 10h1v1h-1zM172 10h1v1h-1zM180 10h1v1h-1zM22 11h1v1h-1zM31 11h1v1h-1zM62 11h1v1h-1zM75 11h1v1h-1zM77 11h1v1h-1zM96 11h1v1h-1zM100 11h1v1h-1zM122 11h1v1h-1zM125 11h2v1h-2zM141 11h1v1h-1zM162 11h1v1h-1zM170 11h1v1h-1zM180 11h1v1h-1zM218 11h2v1h-2zM237 11h2v1h-2zM20 12h1v1h-1zM29 12h1v1h-1zM32 12h1v1h-1zM39 12h1v1h-1zM49 12h1v1h-1zM59 12h1v1h-1zM64 12h1v1h-1zM70 12h1v1h-1zM85 12h1v1h-1zM94 12h1v1h-1zM99 12h1v1h-1zM111 12h1v1h-1zM117 12h1v1h-1zM122 12h1v1h-1zM136 12h1v1h-1zM160 12h1v1h-1zM169 12h1v1h-1zM207 12h1v1h-1zM231 12h1v1h-1zM234 12h1v1h-1zM237 12h1v1h-1zM240 12h1v1h-1zM18 13h1v1h-1zM20 13h1v1h-1zM26 13h1v1h-1zM30 13h1v1h-1zM38 13h1v1h-1zM46 13h1v1h-1zM49 13h1v1h-1zM60 13h1v1h-1zM70 13h1v1h-1zM74 13h1v1h-1zM85 13h2v1h-2zM101 13h1v1h-1zM111 13h1v1h-1zM134 13h1v1h-1zM142 13h1v1h-1zM146 13h2v1h-2zM157 13h1v1h-1zM192 13h1v1h-1zM240 13h1v1h-1zM20 14h1v1h-1zM22 14h2v1h-2zM30 14h1v1h-1zM49 14h1v1h-1zM58 14h1v1h-1zM62 14h1v1h-1zM67 14h1v1h-1zM77 14h1v1h-1zM95 14h1v1h-1zM102 14h1v1h-1zM108 14h2v1h-2zM119 14h1v1h-1zM122 14h1v1h-1zM137 14h1v1h-1zM141 14h1v1h-1zM152 14h1v1h-1zM166 14h1v1h-1zM181 14h1v1h-1zM190 14h2v1h-2zM197 14h1v1h-1zM202 14h1v1h-1zM206 14h1v1h-1zM237 14h1v1h-1zM59 15h2v1h-2zM69 15h2v1h-2zM92 15h1v1h-1zM104 15h1v1h-1zM106 15h1v1h-1zM117 15h1v1h-1zM136 15h1v1h-1zM155 15h1v1h-1zM160 15h1v1h-1zM173 15h1v1h-1zM190 15h2v1h-2zM202 15h2v1h-2zM215 15h1v1h-1zM223 15h1v1h-1zM225 15h1v1h-1zM234 15h1v1h-1zM37 16h1v1h-1zM57 16h1v1h-1zM99 16h1v1h-1zM133 16h1v1h-1zM149 16h1v1h-1zM156 16h1v1h-1zM169 16h1v1h-1zM177 16h1v1h-1zM185 16h1v1h-1zM200 16h1v1h-1zM214 16h1v1h-1zM58 17h1v1h-1zM60 17h1v1h-1zM74 17h1v1h-1zM87 17h1v1h-1zM100 17h1v1h-1zM120 17h1v1h-1zM122 17h1v1h-1zM163 17h1v1h-1zM172 17h1v1h-1zM181 17h1v1h-1zM199 17h1v1h-1zM240 17h1v1h-1zM13 18h1v1h-1zM23 18h1v1h-1zM40 18h1v1h-1zM47 18h1v1h-1zM56 18h2v1h-2zM59 18h1v1h-1zM112 18h1v1h-1zM121 18h1v1h-1zM130 18h1v1h-1zM155 18h1v1h-1zM157 18h2v1h-2zM192 18h1v1h-1zM197 18h1v1h-1zM208 18h1v1h-1zM221 18h1v1h-1zM227 18h1v1h-1zM232 18h1v1h-1zM186 20h1v1h-1zM70 21h1v1h-1zM170 21h1v1h-1zM204 21h1v1h-1zM223 22h1v1h-1zM34 29h1v1h-1zM44 29h1v1h-1zM51 29h1v1h-1zM53 29h1v1h-1zM103 29h1v1h-1zM110 29h1v1h-1zM121 29h1v1h-1zM144 29h1v1h-1zM157 29h1v1h-1zM167 29h1v1h-1zM171 29h1v1h-1zM173 29h1v1h-1zM177 29h1v1h-1zM192 29h1v1h-1zM200 29h1v1h-1zM208 29h1v1h-1zM235 29h1v1h-1zM237 29h1v1h-1zM18 30h1v1h-1zM63 30h1v1h-1zM83 30h2v1h-2zM104 30h1v1h-1zM117 30h2v1h-2zM130 30h1v1h-1zM147 30h1v1h-1zM157 30h1v1h-1zM179 30h1v1h-1zM183 30h1v1h-1zM188 30h1v1h-1zM201 30h1v1h-1zM215 30h1v1h-1zM220 30h1v1h-1zM222 30h1v1h-1zM37 31h1v1h-1zM55 31h1v1h-1zM199 32h1v1h-1zM6 33h1v1h-1zM129 33h1v1h-1zM197 33h1v1h-1zM54 34h1v1h-1zM110 34h1v1h-1zM126 34h1v1h-1zM152 34h1v1h-1zM164 34h1v1h-1zM206 34h2v1h-2zM215 34h1v1h-1zM103 35h1v1h-1zM138 35h1v1h-1zM169 35h1v1h-1zM225 35h1v1h-1zM240 35h1v1h-1zM106 36h1v1h-1zM33 37h1v1h-1zM80 37h1v1h-1zM129 37h1v1h-1zM203 38h1v1h-1zM227 38h1v1h-1z"/><path fill="#fff4f4" d="M49 0h1v1h-1zM124 0h1v1h-1zM167 0h1v1h-1zM200 0h1v1h-1zM26 1h1v1h-1zM205 1h1v1h-1zM9 2h1v1h-1zM11 2h1v1h-1zM15 2h1v1h-1zM2 4h1v1h-1zM31 4h1v1h-1zM117 5h1v1h-1zM175 5h1v1h-1zM212 5h1v1h-1zM24 6h1v1h-1zM108 6h1v1h-1zM6 7h1v1h-1zM17 7h1v1h-1zM24 7h1v1h-1zM43 7h1v1h-1zM46 7h1v1h-1zM55 7h1v1h-1zM57 7h1v1h-1zM72 7h1v1h-1zM81 7h1v1h-1zM86 7h1v1h-1zM109 7h1v1h-1zM149 7h1v1h-1zM151 7h1v1h-1zM154 7h2v1h-2zM168 7h2v1h-2zM191 7h1v1h-1zM24 8h1v1h-1zM81 8h2v1h-2zM88 8h1v1h-1zM102 8h1v1h-1zM104 8h1v1h-1zM111 8h1v1h-1zM123 8h1v1h-1zM127 8h1v1h-1zM132 8h1v1h-1zM149 8h1v1h-1zM154 8h1v1h-1zM159 8h1v1h-1zM167 8h1v1h-1zM183 8h1v1h-1zM198 8h1v1h-1zM200 8h1v1h-1zM216 8h1v1h-1zM224 8h1v1h-1zM233 8h1v1h-1zM26 9h1v1h-1zM49 9h2v1h-2zM53 9h1v1h-1zM62 9h1v1h-1zM88 9h1v1h-1zM93 9h1v1h-1zM97 9h1v1h-1zM101 9h1v1h-1zM108 9h1v1h-1zM116 9h1v1h-1zM127 9h1v1h-1zM132 9h1v1h-1zM145 9h1v1h-1zM148 9h1v1h-1zM160 9h1v1h-1zM205 9h1v1h-1zM220 9h1v1h-1zM229 9h1v1h-1zM19 10h1v1h-1zM45 10h1v1h-1zM67 10h1v1h-1zM95 10h1v1h-1zM115 10h1v1h-1zM123 10h2v1h-2zM127 10h1v1h-1zM143 10h2v1h-2zM151 10h1v1h-1zM154 10h1v1h-1zM158 10h1v1h-1zM174 10h1v1h-1zM176 10h1v1h-1zM190 10h1v1h-1zM206 10h1v1h-1zM50 11h2v1h-2zM66 11h1v1h-1zM111 11h1v1h-1zM156 11h1v1h-1zM163 11h1v1h-1zM28 12h1v1h-1zM48 12h1v1h-1zM55 12h2v1h-2zM71 12h1v1h-1zM93 12h1v1h-1zM133 12h1v1h-1zM152 12h1v1h-1zM158 12h1v1h-1zM166 12h1v1h-1zM168 12h1v1h-1zM173 12h1v1h-1zM183 12h1v1h-1zM186 12h1v1h-1zM195 12h1v1h-1zM212 12h1v1h-1zM31 13h1v1h-1zM61 13h1v1h-1zM81 13h2v1h-2zM89 13h1v1h-1zM113 13h1v1h-1zM116 13h1v1h-1zM133 13h1v1h-1zM145 13h1v1h-1zM184 13h1v1h-1zM198 13h2v1h-2zM201 13h3v1h-3zM205 13h1v1h-1zM226 13h2v1h-2zM233 13h1v1h-1zM236 13h1v1h-1zM1 14h1v1h-1zM19 14h1v1h-1zM27 14h1v1h-1zM35 14h1v1h-1zM45 14h1v1h-1zM47 14h2v1h-2zM52 14h1v1h-1zM59 14h1v1h-1zM89 14h1v1h-1zM99 14h1v1h-1zM116 14h1v1h-1zM143 14h1v1h-1zM146 14h1v1h-1zM151 14h1v1h-1zM169 14h1v1h-1zM176 14h1v1h-1zM212 14h1v1h-1zM50 15h1v1h-1zM63 15h1v1h-1zM73 15h1v1h-1zM84 15h1v1h-1zM99 15h1v1h-1zM105 15h1v1h-1zM132 15h1v1h-1zM141 15h1v1h-1zM146 15h1v1h-1zM150 15h1v1h-1zM159 15h1v1h-1zM161 15h1v1h-1zM192 15h1v1h-1zM221 15h1v1h-1zM237 15h2v1h-2zM29 16h1v1h-1zM33 16h2v1h-2zM49 16h1v1h-1zM53 16h1v1h-1zM60 16h1v1h-1zM92 16h1v1h-1zM96 16h1v1h-1zM115 16h1v1h-1zM131 16h1v1h-1zM134 16h1v1h-1zM152 16h1v1h-1zM163 16h1v1h-1zM167 16h1v1h-1zM187 16h1v1h-1zM192 16h1v1h-1zM197 16h1v1h-1zM218 16h1v1h-1zM220 16h1v1h-1zM238 16h1v1h-1zM20 17h1v1h-1zM29 17h1v1h-1zM38 17h1v1h-1zM48 17h1v1h-1zM52 17h1v1h-1zM54 17h1v1h-1zM83 17h1v1h-1zM127 17h1v1h-1zM132 17h1v1h-1zM134 17h1v1h-1zM149 17h2v1h-2zM183 17h1v1h-1zM188 17h1v1h-1zM223 17h1v1h-1zM21 18h1v1h-1zM36 18h1v1h-1zM67 18h1v1h-1zM76 18h1v1h-1zM87 18h1v1h-1zM89 18h1v1h-1zM98 18h1v1h-1zM101 18h1v1h-1zM103 18h1v1h-1zM106 18h1v1h-1zM110 18h1v1h-1zM129 18h1v1h-1zM135 18h1v1h-1zM153 18h1v1h-1zM171 18h1v1h-1zM176 18h1v1h-1zM178 18h1v1h-1zM182 18h1v1h-1zM188 18h1v1h-1zM202 18h1v1h-1zM207 18h1v1h-1zM235 18h1v1h-1zM237 18h1v1h-1zM56 20h1v1h-1zM71 20h1v1h-1zM62 21h1v1h-1zM194 21h1v1h-1zM0 22h1v1h-1zM31 22h1v1h-1zM134 22h1v1h-1zM163 23h1v1h-1zM3 29h1v1h-1zM9 29h2v1h-2zM14 29h1v1h-1zM37 29h1v1h-1zM60 29h1v1h-1zM66 29h1v1h-1zM81 29h1v1h-1zM84 29h1v1h-1zM87 29h1v1h-1zM112 29h1v1h-1zM145 29h1v1h-1zM154 29h1v1h-1zM179 29h1v1h-1zM198 29h1v1h-1zM210 29h1v1h-1zM234 29h1v1h-1zM238 29h1v1h-1zM10 30h1v1h-1zM38 30h1v1h-1zM45 30h1v1h-1zM54 30h1v1h-1zM61 30h1v1h-1zM68 30h2v1h-2zM91 30h1v1h-1zM125 30h1v1h-1zM161 30h1v1h-1zM189 30h1v1h-1zM200 30h1v1h-1zM226 30h1v1h-1zM38 31h1v1h-1zM68 31h1v1h-1zM76 31h1v1h-1zM88 31h1v1h-1zM102 31h1v1h-1zM192 31h1v1h-1zM59 32h1v1h-1zM197 32h1v1h-1zM57 33h1v1h-1zM149 33h1v1h-1zM178 33h1v1h-1zM10 34h1v1h-1zM91 34h1v1h-1zM102 34h2v1h-2zM153 34h1v1h-1zM203 34h1v1h-1zM17 35h1v1h-1zM51 35h1v1h-1zM112 35h1v1h-1zM134 35h1v1h-1zM188 35h1v1h-1zM74 36h1v1h-1zM95 36h1v1h-1zM35 37h1v1h-1zM50 38h2v1h-2zM171 38h1v1h-1zM201 38h1v1h-1z"/><path fill="#ffeaea" d="M17 0h1v1h-1zM19 0h1v1h-1zM52 0h1v1h-1zM240 0h1v1h-1zM52 2h1v1h-1zM86 2h1v1h-1zM128 4h1v1h-1zM166 4h1v1h-1zM229 4h1v1h-1zM4 5h1v1h-1zM9 5h1v1h-1zM24 5h1v1h-1zM166 5h1v1h-1zM229 5h1v1h-1zM11 6h1v1h-1zM47 6h1v1h-1zM127 6h1v1h-1zM203 6h1v1h-1zM231 6h1v1h-1zM47 7h1v1h-1zM52 7h1v1h-1zM75 7h2v1h-2zM85 7h1v1h-1zM93 7h1v1h-1zM104 7h1v1h-1zM118 7h1v1h-1zM157 7h1v1h-1zM162 7h1v1h-1zM190 7h1v1h-1zM215 7h1v1h-1zM219 7h1v1h-1zM230 7h1v1h-1zM235 7h1v1h-1zM20 8h1v1h-1zM23 8h1v1h-1zM31 8h1v1h-1zM33 8h1v1h-1zM35 8h1v1h-1zM71 8h1v1h-1zM78 8h1v1h-1zM83 8h1v1h-1zM86 8h2v1h-2zM99 8h1v1h-1zM103 8h1v1h-1zM114 8h2v1h-2zM124 8h1v1h-1zM136 8h1v1h-1zM138 8h1v1h-1zM147 8h1v1h-1zM150 8h1v1h-1zM153 8h1v1h-1zM158 8h1v1h-1zM160 8h1v1h-1zM202 8h1v1h-1zM218 8h1v1h-1zM221 8h1v1h-1zM225 8h1v1h-1zM227 8h1v1h-1zM25 9h1v1h-1zM29 9h1v1h-1zM35 9h1v1h-1zM65 9h1v1h-1zM84 9h1v1h-1zM90 9h1v1h-1zM149 9h1v1h-1zM152 9h1v1h-1zM162 9h1v1h-1zM214 9h1v1h-1zM218 9h1v1h-1zM224 9h1v1h-1zM40 10h1v1h-1zM63 10h1v1h-1zM78 10h2v1h-2zM89 10h1v1h-1zM93 10h1v1h-1zM117 10h1v1h-1zM129 10h1v1h-1zM131 10h1v1h-1zM149 10h1v1h-1zM160 10h1v1h-1zM178 10h1v1h-1zM184 10h1v1h-1zM204 10h1v1h-1zM207 10h1v1h-1zM211 10h1v1h-1zM24 11h1v1h-1zM33 11h1v1h-1zM38 11h1v1h-1zM52 11h1v1h-1zM61 11h1v1h-1zM65 11h1v1h-1zM69 11h1v1h-1zM71 11h1v1h-1zM95 11h1v1h-1zM110 11h1v1h-1zM144 11h1v1h-1zM146 11h1v1h-1zM153 11h1v1h-1zM166 11h1v1h-1zM187 11h1v1h-1zM234 11h1v1h-1zM36 12h1v1h-1zM51 12h1v1h-1zM68 12h2v1h-2zM75 12h1v1h-1zM102 12h1v1h-1zM105 12h1v1h-1zM118 12h1v1h-1zM138 12h1v1h-1zM157 12h1v1h-1zM159 12h1v1h-1zM167 12h1v1h-1zM216 12h1v1h-1zM221 12h3v1h-3zM238 12h1v1h-1zM32 13h1v1h-1zM41 13h1v1h-1zM66 13h1v1h-1zM68 13h1v1h-1zM75 13h1v1h-1zM97 13h1v1h-1zM103 13h1v1h-1zM127 13h1v1h-1zM163 13h1v1h-1zM237 13h1v1h-1zM32 14h2v1h-2zM40 14h1v1h-1zM56 14h1v1h-1zM66 14h1v1h-1zM71 14h1v1h-1zM81 14h1v1h-1zM85 14h1v1h-1zM97 14h1v1h-1zM111 14h1v1h-1zM126 14h1v1h-1zM131 14h1v1h-1zM133 14h2v1h-2zM136 14h1v1h-1zM203 14h1v1h-1zM223 14h1v1h-1zM228 14h1v1h-1zM32 15h1v1h-1zM44 15h1v1h-1zM76 15h1v1h-1zM86 15h2v1h-2zM94 15h1v1h-1zM108 15h1v1h-1zM125 15h1v1h-1zM127 15h1v1h-1zM131 15h1v1h-1zM133 15h1v1h-1zM149 15h1v1h-1zM151 15h1v1h-1zM165 15h1v1h-1zM188 15h1v1h-1zM206 15h1v1h-1zM233 15h1v1h-1zM32 16h1v1h-1zM43 16h1v1h-1zM67 16h1v1h-1zM82 16h2v1h-2zM89 16h1v1h-1zM138 16h1v1h-1zM150 16h1v1h-1zM160 16h1v1h-1zM201 16h1v1h-1zM239 16h1v1h-1zM72 17h1v1h-1zM80 17h1v1h-1zM109 17h1v1h-1zM114 17h1v1h-1zM142 17h1v1h-1zM145 17h1v1h-1zM148 17h1v1h-1zM190 17h1v1h-1zM212 17h1v1h-1zM215 17h1v1h-1zM217 17h1v1h-1zM233 17h1v1h-1zM32 18h1v1h-1zM44 18h1v1h-1zM54 18h1v1h-1zM64 18h1v1h-1zM77 18h1v1h-1zM81 18h1v1h-1zM85 18h2v1h-2zM92 18h1v1h-1zM94 18h1v1h-1zM100 18h1v1h-1zM104 18h1v1h-1zM117 18h1v1h-1zM160 18h1v1h-1zM173 18h1v1h-1zM189 18h2v1h-2zM199 18h1v1h-1zM203 18h1v1h-1zM205 18h1v1h-1zM213 18h2v1h-2zM234 18h1v1h-1zM7 21h1v1h-1zM106 21h1v1h-1zM238 21h1v1h-1zM18 22h1v1h-1zM1 29h1v1h-1zM5 29h1v1h-1zM11 29h1v1h-1zM26 29h1v1h-1zM130 29h1v1h-1zM148 29h1v1h-1zM197 29h1v1h-1zM207 29h1v1h-1zM213 29h1v1h-1zM7 30h1v1h-1zM32 30h1v1h-1zM42 30h1v1h-1zM88 30h1v1h-1zM98 30h1v1h-1zM110 30h1v1h-1zM166 30h1v1h-1zM178 30h1v1h-1zM192 30h1v1h-1zM58 31h1v1h-1zM227 31h1v1h-1zM96 32h1v1h-1zM71 33h1v1h-1zM87 33h1v1h-1zM237 33h1v1h-1zM7 34h1v1h-1zM12 34h2v1h-2zM17 34h1v1h-1zM25 34h1v1h-1zM56 34h1v1h-1zM78 34h1v1h-1zM89 34h1v1h-1zM238 34h1v1h-1zM5 35h1v1h-1zM54 35h1v1h-1zM88 35h2v1h-2zM117 35h1v1h-1zM200 35h1v1h-1zM6 37h1v1h-1zM77 37h1v1h-1zM87 37h1v1h-1zM189 37h1v1h-1zM63 38h1v1h-1zM88 38h1v1h-1zM125 38h1v1h-1zM133 38h1v1h-1z"/><path fill="#ffdfdf" d="M1 0h1v1h-1zM3 0h1v1h-1zM14 0h1v1h-1zM53 0h2v1h-2zM72 0h1v1h-1zM89 0h1v1h-1zM108 0h1v1h-1zM113 0h1v1h-1zM130 0h2v1h-2zM144 0h1v1h-1zM164 0h2v1h-2zM230 0h1v1h-1zM59 1h1v1h-1zM197 1h1v1h-1zM90 2h1v1h-1zM175 2h1v1h-1zM195 3h1v1h-1zM198 3h1v1h-1zM43 4h1v1h-1zM61 4h1v1h-1zM102 4h1v1h-1zM127 4h1v1h-1zM185 4h1v1h-1zM190 4h1v1h-1zM47 5h1v1h-1zM65 5h1v1h-1zM99 5h1v1h-1zM46 6h1v1h-1zM53 6h1v1h-1zM61 6h1v1h-1zM73 6h1v1h-1zM116 6h1v1h-1zM120 6h1v1h-1zM157 6h1v1h-1zM161 6h1v1h-1zM185 6h1v1h-1zM236 6h1v1h-1zM240 6h1v1h-1zM16 7h1v1h-1zM41 7h1v1h-1zM67 7h1v1h-1zM74 7h1v1h-1zM103 7h1v1h-1zM111 7h1v1h-1zM119 7h1v1h-1zM126 7h1v1h-1zM138 7h1v1h-1zM147 7h1v1h-1zM153 7h1v1h-1zM158 7h1v1h-1zM160 7h1v1h-1zM166 7h1v1h-1zM171 7h1v1h-1zM179 7h1v1h-1zM201 7h2v1h-2zM205 7h1v1h-1zM210 7h1v1h-1zM21 8h1v1h-1zM44 8h1v1h-1zM53 8h1v1h-1zM55 8h1v1h-1zM60 8h1v1h-1zM79 8h1v1h-1zM93 8h1v1h-1zM97 8h1v1h-1zM135 8h1v1h-1zM152 8h1v1h-1zM155 8h1v1h-1zM164 8h1v1h-1zM168 8h1v1h-1zM176 8h1v1h-1zM185 8h1v1h-1zM226 8h1v1h-1zM12 9h1v1h-1zM15 9h1v1h-1zM21 9h1v1h-1zM24 9h1v1h-1zM41 9h1v1h-1zM59 9h1v1h-1zM87 9h1v1h-1zM136 9h1v1h-1zM146 9h1v1h-1zM161 9h1v1h-1zM165 9h1v1h-1zM194 9h1v1h-1zM213 9h1v1h-1zM215 9h1v1h-1zM217 9h1v1h-1zM221 9h1v1h-1zM44 10h1v1h-1zM46 10h1v1h-1zM52 10h2v1h-2zM71 10h1v1h-1zM84 10h1v1h-1zM86 10h2v1h-2zM92 10h1v1h-1zM120 10h1v1h-1zM126 10h1v1h-1zM128 10h1v1h-1zM139 10h1v1h-1zM156 10h2v1h-2zM159 10h1v1h-1zM175 10h1v1h-1zM179 10h1v1h-1zM212 10h1v1h-1zM233 10h1v1h-1zM235 10h1v1h-1zM37 11h1v1h-1zM45 11h1v1h-1zM53 11h1v1h-1zM60 11h1v1h-1zM72 11h1v1h-1zM80 11h1v1h-1zM86 11h2v1h-2zM137 11h1v1h-1zM140 11h1v1h-1zM150 11h1v1h-1zM158 11h1v1h-1zM165 11h1v1h-1zM189 11h1v1h-1zM198 11h1v1h-1zM203 11h1v1h-1zM220 11h1v1h-1zM226 11h4v1h-4zM232 11h1v1h-1zM21 12h2v1h-2zM26 12h1v1h-1zM40 12h1v1h-1zM44 12h1v1h-1zM52 12h2v1h-2zM84 12h1v1h-1zM96 12h1v1h-1zM107 12h1v1h-1zM120 12h1v1h-1zM139 12h1v1h-1zM164 12h1v1h-1zM170 12h1v1h-1zM178 12h1v1h-1zM189 12h1v1h-1zM19 13h1v1h-1zM21 13h1v1h-1zM29 13h1v1h-1zM43 13h1v1h-1zM52 13h1v1h-1zM69 13h1v1h-1zM79 13h1v1h-1zM88 13h1v1h-1zM106 13h1v1h-1zM109 13h2v1h-2zM123 13h1v1h-1zM126 13h1v1h-1zM139 13h1v1h-1zM148 13h1v1h-1zM154 13h2v1h-2zM176 13h1v1h-1zM195 13h1v1h-1zM207 13h1v1h-1zM212 13h1v1h-1zM214 13h1v1h-1zM217 13h1v1h-1zM221 13h1v1h-1zM29 14h1v1h-1zM39 14h1v1h-1zM57 14h1v1h-1zM70 14h1v1h-1zM76 14h1v1h-1zM91 14h1v1h-1zM110 14h1v1h-1zM112 14h1v1h-1zM115 14h1v1h-1zM120 14h1v1h-1zM128 14h1v1h-1zM139 14h1v1h-1zM159 14h2v1h-2zM175 14h1v1h-1zM183 14h1v1h-1zM188 14h1v1h-1zM18 15h1v1h-1zM34 15h1v1h-1zM40 15h1v1h-1zM47 15h1v1h-1zM78 15h1v1h-1zM80 15h1v1h-1zM82 15h2v1h-2zM89 15h1v1h-1zM93 15h1v1h-1zM101 15h1v1h-1zM103 15h1v1h-1zM116 15h1v1h-1zM121 15h1v1h-1zM126 15h1v1h-1zM138 15h1v1h-1zM143 15h1v1h-1zM148 15h1v1h-1zM157 15h1v1h-1zM210 15h1v1h-1zM216 15h1v1h-1zM240 15h1v1h-1zM78 16h1v1h-1zM116 16h1v1h-1zM157 16h1v1h-1zM165 16h1v1h-1zM211 16h1v1h-1zM221 16h1v1h-1zM102 17h1v1h-1zM104 17h1v1h-1zM161 17h1v1h-1zM198 17h1v1h-1zM214 17h1v1h-1zM19 18h1v1h-1zM28 18h1v1h-1zM31 18h1v1h-1zM37 18h1v1h-1zM41 18h1v1h-1zM46 18h1v1h-1zM52 18h1v1h-1zM65 18h1v1h-1zM80 18h1v1h-1zM91 18h1v1h-1zM119 18h1v1h-1zM134 18h1v1h-1zM151 18h1v1h-1zM156 18h1v1h-1zM159 18h1v1h-1zM161 18h1v1h-1zM165 18h1v1h-1zM172 18h1v1h-1zM185 18h1v1h-1zM187 18h1v1h-1zM211 18h1v1h-1zM135 23h1v1h-1zM58 24h1v1h-1zM12 29h1v1h-1zM41 29h1v1h-1zM43 29h1v1h-1zM67 29h1v1h-1zM176 29h1v1h-1zM191 29h1v1h-1zM229 29h1v1h-1zM25 30h1v1h-1zM97 30h1v1h-1zM99 30h1v1h-1zM128 30h1v1h-1zM142 30h1v1h-1zM180 30h1v1h-1zM208 30h1v1h-1zM236 30h1v1h-1zM231 31h1v1h-1zM72 32h1v1h-1zM81 32h1v1h-1zM160 32h1v1h-1zM164 32h1v1h-1zM121 33h1v1h-1zM150 33h1v1h-1zM166 33h1v1h-1zM187 33h1v1h-1zM49 34h1v1h-1zM84 34h1v1h-1zM118 34h1v1h-1zM134 34h1v1h-1zM149 34h1v1h-1zM222 34h1v1h-1zM41 35h1v1h-1zM61 35h1v1h-1zM136 35h1v1h-1zM18 37h1v1h-1zM93 37h1v1h-1zM124 37h1v1h-1zM139 37h1v1h-1zM27 38h1v1h-1z"/><path fill="#ffd4d4" d="M18 0h1v1h-1zM24 0h1v1h-1zM33 0h1v1h-1zM59 0h1v1h-1zM64 0h1v1h-1zM67 0h1v1h-1zM75 0h2v1h-2zM86 0h1v1h-1zM95 0h2v1h-2zM116 0h1v1h-1zM137 0h1v1h-1zM155 0h1v1h-1zM166 0h1v1h-1zM171 0h1v1h-1zM185 0h1v1h-1zM208 0h1v1h-1zM86 1h1v1h-1zM128 1h1v1h-1zM212 1h1v1h-1zM238 1h1v1h-1zM0 2h1v1h-1zM17 2h1v1h-1zM31 2h1v1h-1zM41 2h1v1h-1zM137 2h1v1h-1zM154 2h1v1h-1zM86 3h1v1h-1zM117 3h1v1h-1zM122 3h1v1h-1zM133 3h1v1h-1zM140 3h1v1h-1zM211 3h1v1h-1zM58 4h1v1h-1zM90 4h2v1h-2zM141 4h1v1h-1zM159 4h1v1h-1zM169 4h1v1h-1zM175 4h1v1h-1zM201 4h1v1h-1zM206 4h1v1h-1zM16 5h1v1h-1zM44 5h2v1h-2zM71 5h1v1h-1zM91 5h1v1h-1zM104 5h1v1h-1zM161 5h1v1h-1zM176 5h1v1h-1zM184 5h1v1h-1zM196 5h1v1h-1zM18 6h1v1h-1zM167 6h1v1h-1zM169 6h1v1h-1zM31 7h1v1h-1zM34 7h1v1h-1zM80 7h1v1h-1zM102 7h1v1h-1zM105 7h1v1h-1zM122 7h1v1h-1zM125 7h1v1h-1zM133 7h1v1h-1zM141 7h1v1h-1zM174 7h1v1h-1zM176 7h1v1h-1zM178 7h1v1h-1zM181 7h1v1h-1zM186 7h1v1h-1zM198 7h1v1h-1zM212 7h1v1h-1zM224 7h2v1h-2zM231 7h1v1h-1zM234 7h1v1h-1zM236 7h1v1h-1zM10 8h1v1h-1zM22 8h1v1h-1zM41 8h1v1h-1zM72 8h1v1h-1zM118 8h1v1h-1zM134 8h1v1h-1zM177 8h1v1h-1zM205 8h1v1h-1zM215 8h1v1h-1zM10 9h1v1h-1zM36 9h1v1h-1zM57 9h1v1h-1zM66 9h1v1h-1zM107 9h1v1h-1zM121 9h1v1h-1zM129 9h1v1h-1zM137 9h1v1h-1zM158 9h1v1h-1zM192 9h1v1h-1zM196 9h1v1h-1zM231 9h1v1h-1zM233 9h1v1h-1zM27 10h1v1h-1zM29 10h1v1h-1zM36 10h1v1h-1zM48 10h1v1h-1zM59 10h1v1h-1zM64 10h1v1h-1zM97 10h1v1h-1zM111 10h1v1h-1zM173 10h1v1h-1zM191 10h1v1h-1zM205 10h1v1h-1zM210 10h1v1h-1zM213 10h1v1h-1zM225 10h1v1h-1zM231 10h1v1h-1zM27 11h1v1h-1zM40 11h1v1h-1zM42 11h1v1h-1zM78 11h1v1h-1zM83 11h1v1h-1zM89 11h1v1h-1zM98 11h1v1h-1zM192 11h1v1h-1zM222 11h1v1h-1zM27 12h1v1h-1zM43 12h1v1h-1zM57 12h1v1h-1zM79 12h1v1h-1zM89 12h2v1h-2zM101 12h1v1h-1zM106 12h1v1h-1zM108 12h1v1h-1zM116 12h1v1h-1zM131 12h1v1h-1zM137 12h1v1h-1zM163 12h1v1h-1zM177 12h1v1h-1zM198 12h1v1h-1zM201 12h2v1h-2zM204 12h1v1h-1zM206 12h1v1h-1zM209 12h1v1h-1zM225 12h1v1h-1zM235 12h1v1h-1zM239 12h1v1h-1zM34 13h1v1h-1zM36 13h1v1h-1zM77 13h1v1h-1zM93 13h1v1h-1zM98 13h1v1h-1zM131 13h1v1h-1zM197 13h1v1h-1zM200 13h1v1h-1zM216 13h1v1h-1zM222 13h1v1h-1zM37 14h1v1h-1zM54 14h1v1h-1zM79 14h1v1h-1zM82 14h1v1h-1zM90 14h1v1h-1zM135 14h1v1h-1zM155 14h1v1h-1zM215 14h1v1h-1zM218 14h1v1h-1zM39 15h1v1h-1zM48 15h1v1h-1zM56 15h1v1h-1zM64 15h1v1h-1zM95 15h1v1h-1zM97 15h1v1h-1zM163 15h1v1h-1zM184 15h1v1h-1zM39 16h1v1h-1zM66 16h1v1h-1zM95 16h1v1h-1zM98 16h1v1h-1zM145 16h1v1h-1zM183 16h1v1h-1zM6 17h1v1h-1zM31 17h1v1h-1zM92 17h1v1h-1zM118 17h1v1h-1zM124 17h1v1h-1zM141 17h1v1h-1zM176 17h1v1h-1zM178 17h1v1h-1zM225 17h1v1h-1zM18 18h1v1h-1zM27 18h1v1h-1zM53 18h1v1h-1zM62 18h1v1h-1zM66 18h1v1h-1zM82 18h1v1h-1zM88 18h1v1h-1zM99 18h1v1h-1zM108 18h1v1h-1zM116 18h1v1h-1zM118 18h1v1h-1zM122 18h1v1h-1zM147 18h1v1h-1zM163 18h1v1h-1zM166 18h1v1h-1zM210 18h1v1h-1zM229 18h1v1h-1zM106 28h1v1h-1zM57 29h1v1h-1zM178 29h1v1h-1zM70 30h1v1h-1zM75 30h1v1h-1zM106 30h2v1h-2zM204 30h1v1h-1zM239 30h1v1h-1zM84 31h1v1h-1zM236 31h1v1h-1zM206 32h1v1h-1zM8 34h1v1h-1zM94 34h1v1h-1zM201 34h1v1h-1zM131 35h1v1h-1zM218 35h1v1h-1zM236 36h1v1h-1zM22 37h1v1h-1zM76 38h1v1h-1zM81 38h1v1h-1zM223 38h1v1h-1z"/><path fill="#ffcaca" d="M0 0h1v1h-1zM21 0h1v1h-1zM48 0h1v1h-1zM58 0h1v1h-1zM129 0h1v1h-1zM175 0h1v1h-1zM178 0h1v1h-1zM204 0h1v1h-1zM226 0h2v1h-2zM231 0h1v1h-1zM76 1h1v1h-1zM100 1h1v1h-1zM105 1h1v1h-1zM187 1h1v1h-1zM192 1h1v1h-1zM210 1h1v1h-1zM240 1h1v1h-1zM171 2h1v1h-1zM13 3h1v1h-1zM21 3h1v1h-1zM62 3h1v1h-1zM175 3h1v1h-1zM210 3h1v1h-1zM1 4h1v1h-1zM16 4h1v1h-1zM21 4h1v1h-1zM33 4h1v1h-1zM40 4h1v1h-1zM49 4h1v1h-1zM64 4h1v1h-1zM72 4h1v1h-1zM84 4h1v1h-1zM107 4h1v1h-1zM136 4h1v1h-1zM142 4h1v1h-1zM155 4h1v1h-1zM164 4h2v1h-2zM199 4h1v1h-1zM202 4h1v1h-1zM212 4h1v1h-1zM227 4h1v1h-1zM235 4h1v1h-1zM6 5h2v1h-2zM12 5h1v1h-1zM20 5h1v1h-1zM60 5h1v1h-1zM82 5h1v1h-1zM120 5h1v1h-1zM133 5h1v1h-1zM136 5h1v1h-1zM144 5h1v1h-1zM154 5h1v1h-1zM157 5h1v1h-1zM170 5h2v1h-2zM181 5h1v1h-1zM187 5h1v1h-1zM208 5h1v1h-1zM217 5h1v1h-1zM235 5h1v1h-1zM240 5h1v1h-1zM5 6h1v1h-1zM10 6h1v1h-1zM40 6h1v1h-1zM54 6h1v1h-1zM83 6h1v1h-1zM96 6h1v1h-1zM118 6h1v1h-1zM129 6h1v1h-1zM143 6h2v1h-2zM151 6h1v1h-1zM171 6h1v1h-1zM179 6h1v1h-1zM212 6h1v1h-1zM214 6h1v1h-1zM218 6h1v1h-1zM227 6h1v1h-1zM238 6h1v1h-1zM18 7h1v1h-1zM23 7h1v1h-1zM60 7h2v1h-2zM69 7h1v1h-1zM84 7h1v1h-1zM92 7h1v1h-1zM94 7h2v1h-2zM97 7h1v1h-1zM107 7h1v1h-1zM130 7h1v1h-1zM132 7h1v1h-1zM185 7h1v1h-1zM196 7h1v1h-1zM211 7h1v1h-1zM216 7h1v1h-1zM233 7h1v1h-1zM38 8h1v1h-1zM66 8h1v1h-1zM126 8h1v1h-1zM171 8h1v1h-1zM189 8h1v1h-1zM204 8h1v1h-1zM228 8h1v1h-1zM230 8h1v1h-1zM5 9h1v1h-1zM60 9h1v1h-1zM71 9h1v1h-1zM74 9h1v1h-1zM120 9h1v1h-1zM130 9h1v1h-1zM150 9h1v1h-1zM171 9h1v1h-1zM200 9h1v1h-1zM240 9h1v1h-1zM20 10h1v1h-1zM34 10h1v1h-1zM42 10h1v1h-1zM49 10h1v1h-1zM68 10h1v1h-1zM75 10h1v1h-1zM94 10h1v1h-1zM101 10h1v1h-1zM106 10h1v1h-1zM114 10h1v1h-1zM138 10h1v1h-1zM146 10h1v1h-1zM148 10h1v1h-1zM152 10h1v1h-1zM168 10h1v1h-1zM185 10h1v1h-1zM188 10h1v1h-1zM223 10h1v1h-1zM226 10h1v1h-1zM232 10h1v1h-1zM81 11h1v1h-1zM85 11h1v1h-1zM102 11h1v1h-1zM115 11h1v1h-1zM172 11h1v1h-1zM202 11h1v1h-1zM214 11h1v1h-1zM216 11h1v1h-1zM17 12h1v1h-1zM30 12h1v1h-1zM34 12h1v1h-1zM58 12h1v1h-1zM65 12h1v1h-1zM67 12h1v1h-1zM87 12h1v1h-1zM103 12h1v1h-1zM109 12h1v1h-1zM121 12h1v1h-1zM123 12h1v1h-1zM175 12h1v1h-1zM187 12h1v1h-1zM190 12h1v1h-1zM24 13h1v1h-1zM39 13h2v1h-2zM71 13h1v1h-1zM99 13h1v1h-1zM121 13h1v1h-1zM138 13h1v1h-1zM162 13h1v1h-1zM21 14h1v1h-1zM31 14h1v1h-1zM36 14h1v1h-1zM42 14h1v1h-1zM75 14h1v1h-1zM93 14h1v1h-1zM121 14h1v1h-1zM156 14h2v1h-2zM186 14h1v1h-1zM198 14h1v1h-1zM205 14h1v1h-1zM220 14h1v1h-1zM33 15h1v1h-1zM145 15h1v1h-1zM147 15h1v1h-1zM158 15h1v1h-1zM181 15h1v1h-1zM204 15h1v1h-1zM209 15h1v1h-1zM218 15h1v1h-1zM36 16h1v1h-1zM42 16h1v1h-1zM80 16h1v1h-1zM153 16h1v1h-1zM168 16h1v1h-1zM178 16h1v1h-1zM198 16h1v1h-1zM21 17h1v1h-1zM66 17h1v1h-1zM55 18h1v1h-1zM71 18h1v1h-1zM79 18h1v1h-1zM169 18h1v1h-1zM184 18h1v1h-1zM195 18h1v1h-1zM215 18h1v1h-1zM226 18h1v1h-1zM240 18h1v1h-1zM109 29h1v1h-1zM135 29h1v1h-1zM170 29h1v1h-1zM240 30h1v1h-1zM81 31h1v1h-1zM208 32h1v1h-1zM226 32h1v1h-1zM105 33h1v1h-1zM0 34h1v1h-1zM59 34h1v1h-1zM183 34h1v1h-1zM10 35h1v1h-1zM233 35h1v1h-1z"/><path fill="#ffbfbf" d="M50 0h2v1h-2zM68 0h1v1h-1zM82 0h2v1h-2zM119 0h1v1h-1zM123 0h1v1h-1zM156 0h1v1h-1zM158 0h1v1h-1zM173 0h1v1h-1zM187 0h1v1h-1zM221 0h1v1h-1zM33 1h1v1h-1zM38 1h1v1h-1zM43 1h1v1h-1zM82 1h1v1h-1zM112 1h1v1h-1zM148 1h1v1h-1zM231 1h1v1h-1zM48 2h1v1h-1zM63 2h1v1h-1zM93 2h1v1h-1zM143 2h1v1h-1zM158 2h1v1h-1zM161 2h1v1h-1zM177 2h1v1h-1zM217 2h1v1h-1zM6 3h1v1h-1zM43 3h1v1h-1zM125 3h1v1h-1zM150 3h1v1h-1zM173 3h1v1h-1zM177 3h1v1h-1zM10 4h1v1h-1zM28 4h1v1h-1zM37 4h1v1h-1zM45 4h1v1h-1zM51 4h1v1h-1zM73 4h2v1h-2zM89 4h1v1h-1zM99 4h1v1h-1zM103 4h1v1h-1zM105 4h1v1h-1zM117 4h1v1h-1zM140 4h1v1h-1zM144 4h1v1h-1zM153 4h1v1h-1zM167 4h2v1h-2zM173 4h1v1h-1zM207 4h1v1h-1zM219 4h1v1h-1zM3 5h1v1h-1zM5 5h1v1h-1zM10 5h1v1h-1zM13 5h1v1h-1zM25 5h1v1h-1zM51 5h1v1h-1zM59 5h1v1h-1zM62 5h3v1h-3zM84 5h1v1h-1zM107 5h1v1h-1zM138 5h2v1h-2zM148 5h1v1h-1zM158 5h1v1h-1zM215 5h1v1h-1zM232 5h1v1h-1zM1 6h1v1h-1zM4 6h1v1h-1zM31 6h1v1h-1zM52 6h1v1h-1zM67 6h3v1h-3zM90 6h1v1h-1zM133 6h2v1h-2zM138 6h1v1h-1zM172 6h1v1h-1zM174 6h1v1h-1zM182 6h1v1h-1zM190 6h1v1h-1zM207 6h3v1h-3zM222 6h1v1h-1zM224 6h1v1h-1zM226 6h1v1h-1zM233 6h1v1h-1zM9 7h1v1h-1zM27 7h1v1h-1zM29 7h2v1h-2zM33 7h1v1h-1zM38 7h1v1h-1zM53 7h2v1h-2zM87 7h1v1h-1zM89 7h1v1h-1zM96 7h1v1h-1zM101 7h1v1h-1zM106 7h1v1h-1zM108 7h1v1h-1zM114 7h1v1h-1zM180 7h1v1h-1zM189 7h1v1h-1zM193 7h1v1h-1zM200 7h1v1h-1zM204 7h1v1h-1zM206 7h1v1h-1zM220 7h1v1h-1zM223 7h1v1h-1zM238 7h1v1h-1zM16 8h1v1h-1zM51 8h1v1h-1zM68 8h1v1h-1zM100 8h1v1h-1zM110 8h1v1h-1zM121 8h1v1h-1zM130 8h1v1h-1zM181 8h1v1h-1zM184 8h1v1h-1zM186 8h1v1h-1zM229 8h1v1h-1zM6 9h1v1h-1zM27 9h1v1h-1zM64 9h1v1h-1zM82 9h1v1h-1zM118 9h1v1h-1zM123 9h1v1h-1zM134 9h1v1h-1zM197 9h1v1h-1zM211 9h1v1h-1zM219 9h1v1h-1zM223 9h1v1h-1zM236 9h2v1h-2zM55 10h1v1h-1zM70 10h1v1h-1zM76 10h1v1h-1zM80 10h1v1h-1zM105 10h1v1h-1zM136 10h1v1h-1zM167 10h1v1h-1zM195 10h1v1h-1zM198 10h1v1h-1zM202 10h1v1h-1zM214 10h2v1h-2zM218 10h1v1h-1zM239 10h2v1h-2zM29 11h1v1h-1zM41 11h1v1h-1zM44 11h1v1h-1zM58 11h1v1h-1zM67 11h1v1h-1zM84 11h1v1h-1zM92 11h1v1h-1zM94 11h1v1h-1zM101 11h1v1h-1zM106 11h1v1h-1zM184 11h1v1h-1zM205 11h2v1h-2zM211 11h2v1h-2zM239 11h1v1h-1zM37 12h1v1h-1zM45 12h1v1h-1zM66 12h1v1h-1zM82 12h2v1h-2zM95 12h1v1h-1zM112 12h1v1h-1zM127 12h1v1h-1zM130 12h1v1h-1zM165 12h1v1h-1zM171 12h1v1h-1zM180 12h1v1h-1zM200 12h1v1h-1zM218 12h1v1h-1zM226 12h1v1h-1zM236 12h1v1h-1zM23 13h1v1h-1zM53 13h1v1h-1zM140 13h1v1h-1zM150 13h1v1h-1zM165 13h1v1h-1zM225 13h1v1h-1zM38 14h1v1h-1zM147 14h1v1h-1zM182 14h1v1h-1zM201 14h1v1h-1zM41 15h1v1h-1zM77 15h1v1h-1zM98 15h1v1h-1zM153 15h1v1h-1zM186 15h1v1h-1zM227 15h1v1h-1zM56 16h1v1h-1zM111 16h1v1h-1zM230 16h1v1h-1zM88 17h1v1h-1zM140 17h1v1h-1zM206 17h1v1h-1zM24 18h1v1h-1zM42 18h1v1h-1zM102 18h1v1h-1zM105 18h1v1h-1zM114 18h1v1h-1zM140 18h2v1h-2zM146 18h1v1h-1zM174 18h1v1h-1zM181 18h1v1h-1zM183 18h1v1h-1zM216 18h1v1h-1zM231 18h1v1h-1zM233 18h1v1h-1zM236 18h1v1h-1zM238 18h1v1h-1zM221 21h1v1h-1zM146 29h1v1h-1zM233 29h1v1h-1zM12 30h1v1h-1zM164 31h1v1h-1zM228 32h1v1h-1zM73 34h1v1h-1zM81 34h1v1h-1zM221 34h1v1h-1zM14 36h1v1h-1zM66 37h1v1h-1z"/><path fill="#ffb5b5" d="M41 0h1v1h-1zM63 0h1v1h-1zM65 0h1v1h-1zM81 0h1v1h-1zM90 0h1v1h-1zM93 0h1v1h-1zM97 0h1v1h-1zM147 0h1v1h-1zM153 0h1v1h-1zM216 0h1v1h-1zM219 0h1v1h-1zM44 1h1v1h-1zM52 1h1v1h-1zM67 1h1v1h-1zM114 1h1v1h-1zM127 1h1v1h-1zM136 1h1v1h-1zM168 1h1v1h-1zM198 1h1v1h-1zM208 1h1v1h-1zM23 2h1v1h-1zM29 2h1v1h-1zM58 2h1v1h-1zM62 2h1v1h-1zM67 2h1v1h-1zM94 2h1v1h-1zM151 2h1v1h-1zM163 2h1v1h-1zM167 2h1v1h-1zM178 2h1v1h-1zM190 2h1v1h-1zM220 2h1v1h-1zM235 2h1v1h-1zM20 3h1v1h-1zM154 3h1v1h-1zM209 3h1v1h-1zM217 3h1v1h-1zM17 4h1v1h-1zM41 4h2v1h-2zM47 4h1v1h-1zM68 4h2v1h-2zM71 4h1v1h-1zM88 4h1v1h-1zM93 4h2v1h-2zM97 4h1v1h-1zM104 4h1v1h-1zM113 4h1v1h-1zM137 4h1v1h-1zM145 4h1v1h-1zM171 4h1v1h-1zM176 4h1v1h-1zM179 4h1v1h-1zM183 4h1v1h-1zM189 4h1v1h-1zM192 4h1v1h-1zM197 4h1v1h-1zM204 4h1v1h-1zM221 4h1v1h-1zM231 4h1v1h-1zM0 5h1v1h-1zM17 5h1v1h-1zM26 5h1v1h-1zM31 5h1v1h-1zM46 5h1v1h-1zM50 5h1v1h-1zM61 5h1v1h-1zM70 5h1v1h-1zM72 5h1v1h-1zM86 5h1v1h-1zM101 5h1v1h-1zM115 5h1v1h-1zM128 5h1v1h-1zM131 5h1v1h-1zM149 5h1v1h-1zM162 5h2v1h-2zM188 5h1v1h-1zM207 5h1v1h-1zM223 5h2v1h-2zM226 5h1v1h-1zM2 6h1v1h-1zM15 6h2v1h-2zM44 6h1v1h-1zM59 6h1v1h-1zM62 6h1v1h-1zM84 6h1v1h-1zM87 6h1v1h-1zM89 6h1v1h-1zM102 6h1v1h-1zM132 6h1v1h-1zM141 6h1v1h-1zM165 6h1v1h-1zM175 6h1v1h-1zM187 6h1v1h-1zM198 6h1v1h-1zM205 6h1v1h-1zM211 6h1v1h-1zM221 6h1v1h-1zM232 6h1v1h-1zM4 7h1v1h-1zM20 7h1v1h-1zM35 7h2v1h-2zM45 7h1v1h-1zM50 7h1v1h-1zM56 7h1v1h-1zM59 7h1v1h-1zM77 7h2v1h-2zM83 7h1v1h-1zM110 7h1v1h-1zM116 7h1v1h-1zM137 7h1v1h-1zM150 7h1v1h-1zM173 7h1v1h-1zM188 7h1v1h-1zM203 7h1v1h-1zM207 7h1v1h-1zM213 7h1v1h-1zM218 7h1v1h-1zM226 7h1v1h-1zM240 7h1v1h-1zM5 8h1v1h-1zM15 8h1v1h-1zM146 8h1v1h-1zM188 8h1v1h-1zM190 8h1v1h-1zM213 8h1v1h-1zM16 9h1v1h-1zM45 9h1v1h-1zM68 9h1v1h-1zM95 9h1v1h-1zM122 9h1v1h-1zM125 9h1v1h-1zM151 9h1v1h-1zM177 9h1v1h-1zM199 9h1v1h-1zM202 9h1v1h-1zM24 10h1v1h-1zM74 10h1v1h-1zM91 10h1v1h-1zM103 10h1v1h-1zM121 10h1v1h-1zM132 10h1v1h-1zM137 10h1v1h-1zM169 10h1v1h-1zM189 10h1v1h-1zM197 10h1v1h-1zM220 10h2v1h-2zM39 11h1v1h-1zM118 11h1v1h-1zM155 11h1v1h-1zM195 11h1v1h-1zM204 11h1v1h-1zM33 12h1v1h-1zM35 12h1v1h-1zM42 12h1v1h-1zM72 12h1v1h-1zM110 12h1v1h-1zM128 12h1v1h-1zM148 12h2v1h-2zM181 12h1v1h-1zM210 12h1v1h-1zM228 12h1v1h-1zM27 13h1v1h-1zM129 13h1v1h-1zM180 13h1v1h-1zM34 14h1v1h-1zM78 14h1v1h-1zM84 14h1v1h-1zM100 14h1v1h-1zM127 14h1v1h-1zM149 14h1v1h-1zM174 14h1v1h-1zM214 14h1v1h-1zM222 14h1v1h-1zM62 15h1v1h-1zM96 15h1v1h-1zM142 15h1v1h-1zM164 15h1v1h-1zM220 17h1v1h-1zM228 17h1v1h-1zM22 18h1v1h-1zM39 18h1v1h-1zM45 18h1v1h-1zM111 18h1v1h-1zM139 18h1v1h-1zM162 18h1v1h-1zM164 18h1v1h-1zM194 18h1v1h-1zM223 18h1v1h-1zM230 18h1v1h-1zM124 28h1v1h-1zM135 30h1v1h-1zM32 34h1v1h-1zM151 34h1v1h-1zM127 35h1v1h-1zM129 36h1v1h-1zM154 38h1v1h-1zM238 38h1v1h-1z"/><path fill="#ffaaaa" d="M37 0h1v1h-1zM39 0h2v1h-2zM42 0h1v1h-1zM60 0h1v1h-1zM74 0h1v1h-1zM94 0h1v1h-1zM100 0h1v1h-1zM103 0h1v1h-1zM115 0h1v1h-1zM122 0h1v1h-1zM132 0h1v1h-1zM134 0h1v1h-1zM136 0h1v1h-1zM146 0h1v1h-1zM150 0h1v1h-1zM160 0h1v1h-1zM195 0h1v1h-1zM198 0h1v1h-1zM223 0h3v1h-3zM34 1h1v1h-1zM48 1h1v1h-1zM66 1h1v1h-1zM79 1h1v1h-1zM152 1h1v1h-1zM154 1h1v1h-1zM161 1h2v1h-2zM176 1h1v1h-1zM209 1h1v1h-1zM220 1h2v1h-2zM21 2h1v1h-1zM28 2h1v1h-1zM74 2h2v1h-2zM103 2h1v1h-1zM108 2h1v1h-1zM118 2h1v1h-1zM127 2h1v1h-1zM129 2h1v1h-1zM141 2h1v1h-1zM157 2h1v1h-1zM159 2h1v1h-1zM192 2h1v1h-1zM199 2h1v1h-1zM1 3h1v1h-1zM5 3h1v1h-1zM29 3h1v1h-1zM46 3h1v1h-1zM51 3h1v1h-1zM119 3h1v1h-1zM135 3h1v1h-1zM166 3h1v1h-1zM184 3h1v1h-1zM215 3h1v1h-1zM230 3h1v1h-1zM20 4h1v1h-1zM22 4h1v1h-1zM27 4h1v1h-1zM44 4h1v1h-1zM53 4h1v1h-1zM55 4h1v1h-1zM67 4h1v1h-1zM75 4h2v1h-2zM83 4h1v1h-1zM98 4h1v1h-1zM101 4h1v1h-1zM119 4h2v1h-2zM125 4h2v1h-2zM131 4h1v1h-1zM177 4h1v1h-1zM184 4h1v1h-1zM198 4h1v1h-1zM205 4h1v1h-1zM216 4h1v1h-1zM32 5h1v1h-1zM34 5h1v1h-1zM48 5h1v1h-1zM87 5h1v1h-1zM89 5h1v1h-1zM103 5h1v1h-1zM114 5h1v1h-1zM116 5h1v1h-1zM141 5h1v1h-1zM168 5h1v1h-1zM190 5h1v1h-1zM192 5h1v1h-1zM199 5h1v1h-1zM202 5h1v1h-1zM206 5h1v1h-1zM211 5h1v1h-1zM221 5h1v1h-1zM230 5h1v1h-1zM239 5h1v1h-1zM0 6h1v1h-1zM6 6h2v1h-2zM13 6h2v1h-2zM17 6h1v1h-1zM19 6h1v1h-1zM22 6h1v1h-1zM32 6h1v1h-1zM34 6h2v1h-2zM42 6h1v1h-1zM72 6h1v1h-1zM91 6h3v1h-3zM99 6h1v1h-1zM114 6h1v1h-1zM124 6h1v1h-1zM139 6h1v1h-1zM154 6h1v1h-1zM158 6h1v1h-1zM168 6h1v1h-1zM192 6h1v1h-1zM194 6h1v1h-1zM196 6h1v1h-1zM215 6h1v1h-1zM2 7h1v1h-1zM8 7h1v1h-1zM11 7h1v1h-1zM51 7h1v1h-1zM71 7h1v1h-1zM73 7h1v1h-1zM88 7h1v1h-1zM117 7h1v1h-1zM129 7h1v1h-1zM139 7h1v1h-1zM146 7h1v1h-1zM184 7h1v1h-1zM195 7h1v1h-1zM197 7h1v1h-1zM209 7h1v1h-1zM0 8h1v1h-1zM8 8h2v1h-2zM11 8h1v1h-1zM27 8h1v1h-1zM122 8h1v1h-1zM237 8h1v1h-1zM3 9h1v1h-1zM142 9h1v1h-1zM37 10h1v1h-1zM77 10h1v1h-1zM134 10h1v1h-1zM141 10h1v1h-1zM181 10h1v1h-1zM183 10h1v1h-1zM227 10h1v1h-1zM26 11h1v1h-1zM49 11h1v1h-1zM54 11h1v1h-1zM107 11h1v1h-1zM121 11h1v1h-1zM133 11h1v1h-1zM149 11h1v1h-1zM175 11h1v1h-1zM19 12h1v1h-1zM31 12h1v1h-1zM63 12h1v1h-1zM78 12h1v1h-1zM88 12h1v1h-1zM119 12h1v1h-1zM124 12h1v1h-1zM129 12h1v1h-1zM134 12h1v1h-1zM146 12h1v1h-1zM174 12h1v1h-1zM65 13h1v1h-1zM120 13h1v1h-1zM179 13h1v1h-1zM181 13h1v1h-1zM223 13h1v1h-1zM55 14h1v1h-1zM60 14h1v1h-1zM192 14h1v1h-1zM200 14h1v1h-1zM27 15h1v1h-1zM172 15h1v1h-1zM39 17h1v1h-1zM33 18h1v1h-1zM70 18h1v1h-1zM115 18h1v1h-1zM123 18h1v1h-1zM148 18h1v1h-1zM179 18h1v1h-1zM196 18h1v1h-1zM201 18h1v1h-1zM209 18h1v1h-1zM217 18h1v1h-1zM222 18h1v1h-1zM6 29h1v1h-1zM13 29h1v1h-1zM133 29h1v1h-1zM165 29h1v1h-1zM14 30h1v1h-1zM123 34h1v1h-1zM8 35h1v1h-1z"/><path fill="#ff9f9f" d="M43 0h1v1h-1zM45 0h3v1h-3zM62 0h1v1h-1zM79 0h1v1h-1zM84 0h1v1h-1zM92 0h1v1h-1zM106 0h1v1h-1zM109 0h1v1h-1zM126 0h1v1h-1zM138 0h1v1h-1zM142 0h1v1h-1zM149 0h1v1h-1zM161 0h1v1h-1zM180 0h1v1h-1zM183 0h1v1h-1zM191 0h1v1h-1zM196 0h1v1h-1zM209 0h1v1h-1zM212 0h1v1h-1zM217 0h1v1h-1zM228 0h2v1h-2zM233 0h1v1h-1zM238 0h1v1h-1zM45 1h2v1h-2zM49 1h1v1h-1zM54 1h1v1h-1zM63 1h1v1h-1zM106 1h1v1h-1zM111 1h1v1h-1zM113 1h1v1h-1zM145 1h1v1h-1zM158 1h1v1h-1zM166 1h1v1h-1zM169 1h1v1h-1zM179 1h1v1h-1zM186 1h1v1h-1zM199 1h1v1h-1zM223 1h1v1h-1zM237 1h1v1h-1zM26 2h1v1h-1zM43 2h1v1h-1zM54 2h1v1h-1zM56 2h1v1h-1zM73 2h1v1h-1zM84 2h1v1h-1zM88 2h1v1h-1zM91 2h1v1h-1zM97 2h1v1h-1zM114 2h1v1h-1zM120 2h1v1h-1zM122 2h1v1h-1zM131 2h1v1h-1zM150 2h1v1h-1zM162 2h1v1h-1zM203 2h2v1h-2zM211 2h3v1h-3zM10 3h1v1h-1zM76 3h1v1h-1zM78 3h2v1h-2zM98 3h1v1h-1zM109 3h1v1h-1zM143 3h2v1h-2zM189 3h1v1h-1zM228 3h1v1h-1zM30 4h1v1h-1zM38 4h1v1h-1zM48 4h1v1h-1zM63 4h1v1h-1zM77 4h1v1h-1zM80 4h1v1h-1zM85 4h2v1h-2zM95 4h1v1h-1zM111 4h1v1h-1zM134 4h2v1h-2zM154 4h1v1h-1zM172 4h1v1h-1zM174 4h1v1h-1zM178 4h1v1h-1zM180 4h1v1h-1zM191 4h1v1h-1zM203 4h1v1h-1zM211 4h1v1h-1zM226 4h1v1h-1zM232 4h1v1h-1zM234 4h1v1h-1zM237 4h2v1h-2zM240 4h1v1h-1zM15 5h1v1h-1zM19 5h1v1h-1zM23 5h1v1h-1zM27 5h1v1h-1zM29 5h2v1h-2zM36 5h1v1h-1zM43 5h1v1h-1zM49 5h1v1h-1zM55 5h2v1h-2zM58 5h1v1h-1zM74 5h2v1h-2zM83 5h1v1h-1zM92 5h2v1h-2zM96 5h1v1h-1zM105 5h1v1h-1zM121 5h1v1h-1zM129 5h1v1h-1zM142 5h2v1h-2zM147 5h1v1h-1zM160 5h1v1h-1zM167 5h1v1h-1zM185 5h1v1h-1zM191 5h1v1h-1zM200 5h1v1h-1zM210 5h1v1h-1zM219 5h1v1h-1zM225 5h1v1h-1zM227 5h1v1h-1zM25 6h1v1h-1zM29 6h1v1h-1zM36 6h2v1h-2zM39 6h1v1h-1zM48 6h1v1h-1zM55 6h3v1h-3zM64 6h1v1h-1zM74 6h1v1h-1zM79 6h1v1h-1zM86 6h1v1h-1zM88 6h1v1h-1zM94 6h1v1h-1zM98 6h1v1h-1zM101 6h1v1h-1zM122 6h1v1h-1zM125 6h1v1h-1zM128 6h1v1h-1zM142 6h1v1h-1zM155 6h2v1h-2zM181 6h1v1h-1zM184 6h1v1h-1zM189 6h1v1h-1zM193 6h1v1h-1zM199 6h1v1h-1zM217 6h1v1h-1zM228 6h1v1h-1zM230 6h1v1h-1zM58 7h1v1h-1zM65 7h2v1h-2zM79 7h1v1h-1zM91 7h1v1h-1zM120 7h1v1h-1zM135 7h1v1h-1zM145 7h1v1h-1zM165 7h1v1h-1zM172 7h1v1h-1zM182 7h1v1h-1zM214 7h1v1h-1zM221 7h2v1h-2zM239 7h1v1h-1zM1 8h2v1h-2zM39 8h1v1h-1zM1 9h1v1h-1zM7 9h1v1h-1zM70 9h1v1h-1zM104 9h1v1h-1zM115 9h1v1h-1zM153 9h1v1h-1zM31 10h1v1h-1zM35 10h1v1h-1zM85 10h1v1h-1zM116 10h1v1h-1zM125 10h1v1h-1zM130 10h1v1h-1zM163 10h1v1h-1zM165 10h1v1h-1zM170 10h1v1h-1zM209 10h1v1h-1zM238 10h1v1h-1zM23 11h1v1h-1zM55 11h1v1h-1zM143 11h1v1h-1zM210 11h1v1h-1zM235 11h1v1h-1zM24 12h1v1h-1zM92 12h1v1h-1zM126 12h1v1h-1zM141 12h2v1h-2zM213 12h1v1h-1zM215 12h1v1h-1zM217 12h1v1h-1zM55 13h1v1h-1zM92 13h1v1h-1zM160 13h1v1h-1zM170 13h1v1h-1zM186 13h1v1h-1zM234 13h1v1h-1zM130 14h1v1h-1zM163 14h1v1h-1zM29 18h1v1h-1zM180 18h1v1h-1zM35 29h1v1h-1zM207 30h1v1h-1zM46 34h1v1h-1z"/><path fill="#ff9595" d="M7 0h1v1h-1zM20 0h1v1h-1zM61 0h1v1h-1zM73 0h1v1h-1zM77 0h2v1h-2zM80 0h1v1h-1zM99 0h1v1h-1zM102 0h1v1h-1zM110 0h1v1h-1zM125 0h1v1h-1zM139 0h1v1h-1zM148 0h1v1h-1zM157 0h1v1h-1zM168 0h1v1h-1zM176 0h1v1h-1zM182 0h1v1h-1zM188 0h1v1h-1zM194 0h1v1h-1zM206 0h1v1h-1zM220 0h1v1h-1zM235 0h1v1h-1zM237 0h1v1h-1zM17 1h1v1h-1zM20 1h1v1h-1zM47 1h1v1h-1zM64 1h1v1h-1zM71 1h1v1h-1zM91 1h3v1h-3zM138 1h1v1h-1zM143 1h1v1h-1zM147 1h1v1h-1zM151 1h1v1h-1zM155 1h1v1h-1zM163 1h1v1h-1zM170 1h2v1h-2zM196 1h1v1h-1zM203 1h1v1h-1zM222 1h1v1h-1zM33 2h1v1h-1zM40 2h1v1h-1zM49 2h1v1h-1zM57 2h1v1h-1zM59 2h1v1h-1zM69 2h1v1h-1zM78 2h1v1h-1zM106 2h1v1h-1zM134 2h1v1h-1zM140 2h1v1h-1zM160 2h1v1h-1zM173 2h1v1h-1zM194 2h1v1h-1zM216 2h1v1h-1zM218 2h1v1h-1zM224 2h1v1h-1zM226 2h1v1h-1zM231 2h1v1h-1zM239 2h1v1h-1zM27 3h1v1h-1zM33 3h1v1h-1zM36 3h1v1h-1zM60 3h1v1h-1zM72 3h2v1h-2zM75 3h1v1h-1zM89 3h1v1h-1zM106 3h1v1h-1zM110 3h1v1h-1zM112 3h1v1h-1zM121 3h1v1h-1zM128 3h1v1h-1zM148 3h1v1h-1zM158 3h1v1h-1zM205 3h1v1h-1zM229 3h1v1h-1zM18 4h1v1h-1zM25 4h1v1h-1zM32 4h1v1h-1zM46 4h1v1h-1zM52 4h1v1h-1zM60 4h1v1h-1zM78 4h1v1h-1zM100 4h1v1h-1zM114 4h2v1h-2zM143 4h1v1h-1zM150 4h1v1h-1zM156 4h1v1h-1zM161 4h2v1h-2zM170 4h1v1h-1zM186 4h1v1h-1zM213 4h1v1h-1zM8 5h1v1h-1zM21 5h1v1h-1zM38 5h1v1h-1zM42 5h1v1h-1zM54 5h1v1h-1zM57 5h1v1h-1zM81 5h1v1h-1zM85 5h1v1h-1zM88 5h1v1h-1zM94 5h1v1h-1zM97 5h1v1h-1zM100 5h1v1h-1zM102 5h1v1h-1zM108 5h1v1h-1zM112 5h1v1h-1zM118 5h1v1h-1zM123 5h1v1h-1zM134 5h2v1h-2zM153 5h1v1h-1zM164 5h1v1h-1zM178 5h1v1h-1zM180 5h1v1h-1zM186 5h1v1h-1zM195 5h1v1h-1zM197 5h1v1h-1zM203 5h1v1h-1zM220 5h1v1h-1zM222 5h1v1h-1zM237 5h2v1h-2zM9 6h1v1h-1zM12 6h1v1h-1zM23 6h1v1h-1zM30 6h1v1h-1zM33 6h1v1h-1zM41 6h1v1h-1zM45 6h1v1h-1zM49 6h3v1h-3zM71 6h1v1h-1zM75 6h1v1h-1zM100 6h1v1h-1zM104 6h1v1h-1zM106 6h2v1h-2zM112 6h1v1h-1zM119 6h1v1h-1zM137 6h1v1h-1zM140 6h1v1h-1zM147 6h1v1h-1zM149 6h1v1h-1zM197 6h1v1h-1zM202 6h1v1h-1zM219 6h1v1h-1zM235 6h1v1h-1zM237 6h1v1h-1zM239 6h1v1h-1zM3 7h1v1h-1zM22 7h1v1h-1zM37 7h1v1h-1zM82 7h1v1h-1zM140 7h1v1h-1zM148 7h1v1h-1zM156 7h1v1h-1zM175 7h1v1h-1zM177 7h1v1h-1zM137 8h1v1h-1zM4 9h1v1h-1zM26 10h1v1h-1zM98 10h1v1h-1zM171 10h1v1h-1zM186 10h1v1h-1zM200 10h1v1h-1zM216 10h1v1h-1zM224 10h1v1h-1zM234 10h1v1h-1zM93 11h1v1h-1zM109 11h1v1h-1zM112 11h1v1h-1zM186 11h1v1h-1zM221 11h1v1h-1zM225 11h1v1h-1zM81 12h1v1h-1zM114 12h1v1h-1zM132 12h1v1h-1zM172 12h1v1h-1zM184 12h1v1h-1zM205 12h1v1h-1zM230 12h1v1h-1zM125 14h1v1h-1zM214 15h1v1h-1zM50 18h1v1h-1zM95 18h1v1h-1zM220 18h1v1h-1zM11 34h1v1h-1z"/><path fill="#ff8a8a" d="M26 0h1v1h-1zM28 0h1v1h-1zM35 0h1v1h-1zM71 0h1v1h-1zM91 0h1v1h-1zM133 0h1v1h-1zM141 0h1v1h-1zM143 0h1v1h-1zM159 0h1v1h-1zM163 0h1v1h-1zM189 0h1v1h-1zM199 0h1v1h-1zM201 0h2v1h-2zM222 0h1v1h-1zM236 0h1v1h-1zM18 1h1v1h-1zM22 1h1v1h-1zM36 1h1v1h-1zM40 1h1v1h-1zM42 1h1v1h-1zM53 1h1v1h-1zM72 1h1v1h-1zM74 1h2v1h-2zM77 1h2v1h-2zM81 1h1v1h-1zM90 1h1v1h-1zM99 1h1v1h-1zM108 1h1v1h-1zM122 1h1v1h-1zM131 1h1v1h-1zM141 1h1v1h-1zM177 1h1v1h-1zM204 1h1v1h-1zM207 1h1v1h-1zM227 1h1v1h-1zM234 1h3v1h-3zM12 2h1v1h-1zM25 2h1v1h-1zM61 2h1v1h-1zM71 2h2v1h-2zM76 2h1v1h-1zM116 2h1v1h-1zM136 2h1v1h-1zM139 2h1v1h-1zM145 2h1v1h-1zM153 2h1v1h-1zM179 2h1v1h-1zM196 2h1v1h-1zM206 2h1v1h-1zM209 2h1v1h-1zM232 2h1v1h-1zM240 2h1v1h-1zM17 3h1v1h-1zM22 3h1v1h-1zM32 3h1v1h-1zM49 3h1v1h-1zM52 3h1v1h-1zM55 3h2v1h-2zM77 3h1v1h-1zM90 3h1v1h-1zM93 3h1v1h-1zM95 3h1v1h-1zM107 3h1v1h-1zM127 3h1v1h-1zM129 3h1v1h-1zM139 3h1v1h-1zM151 3h1v1h-1zM153 3h1v1h-1zM155 3h1v1h-1zM176 3h1v1h-1zM183 3h1v1h-1zM187 3h1v1h-1zM206 3h1v1h-1zM216 3h1v1h-1zM223 3h1v1h-1zM19 4h1v1h-1zM26 4h1v1h-1zM35 4h1v1h-1zM54 4h1v1h-1zM62 4h1v1h-1zM79 4h1v1h-1zM81 4h1v1h-1zM92 4h1v1h-1zM124 4h1v1h-1zM130 4h1v1h-1zM132 4h2v1h-2zM139 4h1v1h-1zM147 4h2v1h-2zM152 4h1v1h-1zM160 4h1v1h-1zM182 4h1v1h-1zM187 4h2v1h-2zM195 4h1v1h-1zM210 4h1v1h-1zM214 4h1v1h-1zM217 4h1v1h-1zM220 4h1v1h-1zM223 4h2v1h-2zM230 4h1v1h-1zM233 4h1v1h-1zM14 5h1v1h-1zM22 5h1v1h-1zM33 5h1v1h-1zM41 5h1v1h-1zM66 5h1v1h-1zM76 5h1v1h-1zM110 5h1v1h-1zM124 5h3v1h-3zM130 5h1v1h-1zM145 5h1v1h-1zM156 5h1v1h-1zM169 5h1v1h-1zM179 5h1v1h-1zM194 5h1v1h-1zM198 5h1v1h-1zM204 5h1v1h-1zM213 5h2v1h-2zM216 5h1v1h-1zM234 5h1v1h-1zM236 5h1v1h-1zM20 6h2v1h-2zM28 6h1v1h-1zM43 6h1v1h-1zM60 6h1v1h-1zM63 6h1v1h-1zM65 6h1v1h-1zM76 6h2v1h-2zM82 6h1v1h-1zM85 6h1v1h-1zM95 6h1v1h-1zM97 6h1v1h-1zM103 6h1v1h-1zM109 6h1v1h-1zM117 6h1v1h-1zM126 6h1v1h-1zM148 6h1v1h-1zM153 6h1v1h-1zM166 6h1v1h-1zM176 6h1v1h-1zM188 6h1v1h-1zM191 6h1v1h-1zM200 6h1v1h-1zM204 6h1v1h-1zM206 6h1v1h-1zM225 6h1v1h-1zM229 6h1v1h-1zM234 6h1v1h-1zM13 7h1v1h-1zM15 7h1v1h-1zM19 7h1v1h-1zM68 7h1v1h-1zM199 7h1v1h-1zM227 7h2v1h-2zM3 8h1v1h-1zM14 9h1v1h-1zM85 9h1v1h-1zM17 10h1v1h-1zM39 10h1v1h-1zM56 10h1v1h-1zM58 10h1v1h-1zM110 10h1v1h-1zM219 10h1v1h-1zM228 10h1v1h-1zM237 10h1v1h-1zM57 11h1v1h-1zM131 11h1v1h-1zM168 11h1v1h-1zM38 12h1v1h-1zM124 13h1v1h-1zM172 13h1v1h-1zM168 14h1v1h-1zM134 15h1v1h-1zM170 15h1v1h-1zM61 18h1v1h-1zM107 18h1v1h-1zM209 34h1v1h-1z"/><path fill="#ff8080" d="M25 0h1v1h-1zM34 0h1v1h-1zM36 0h1v1h-1zM112 0h1v1h-1zM118 0h1v1h-1zM154 0h1v1h-1zM162 0h1v1h-1zM170 0h1v1h-1zM172 0h1v1h-1zM181 0h1v1h-1zM190 0h1v1h-1zM192 0h1v1h-1zM28 1h1v1h-1zM32 1h1v1h-1zM50 1h1v1h-1zM55 1h1v1h-1zM57 1h1v1h-1zM68 1h1v1h-1zM95 1h1v1h-1zM97 1h1v1h-1zM117 1h1v1h-1zM133 1h1v1h-1zM146 1h1v1h-1zM173 1h1v1h-1zM188 1h1v1h-1zM190 1h2v1h-2zM195 1h1v1h-1zM200 1h1v1h-1zM224 1h2v1h-2zM230 1h1v1h-1zM51 2h1v1h-1zM60 2h1v1h-1zM66 2h1v1h-1zM77 2h1v1h-1zM80 2h2v1h-2zM83 2h1v1h-1zM85 2h1v1h-1zM92 2h1v1h-1zM95 2h1v1h-1zM99 2h1v1h-1zM101 2h1v1h-1zM111 2h1v1h-1zM147 2h1v1h-1zM152 2h1v1h-1zM155 2h1v1h-1zM166 2h1v1h-1zM187 2h1v1h-1zM191 2h1v1h-1zM195 2h1v1h-1zM236 2h1v1h-1zM38 3h1v1h-1zM48 3h1v1h-1zM50 3h1v1h-1zM83 3h1v1h-1zM91 3h2v1h-2zM96 3h1v1h-1zM136 3h1v1h-1zM159 3h1v1h-1zM170 3h1v1h-1zM181 3h1v1h-1zM186 3h1v1h-1zM197 3h1v1h-1zM199 3h1v1h-1zM202 3h1v1h-1zM212 3h2v1h-2zM218 3h1v1h-1zM220 3h1v1h-1zM222 3h1v1h-1zM231 3h1v1h-1zM240 3h1v1h-1zM29 4h1v1h-1zM96 4h1v1h-1zM109 4h1v1h-1zM122 4h2v1h-2zM138 4h1v1h-1zM157 4h1v1h-1zM181 4h1v1h-1zM208 4h1v1h-1zM225 4h1v1h-1zM228 4h1v1h-1zM239 4h1v1h-1zM1 5h1v1h-1zM28 5h1v1h-1zM37 5h1v1h-1zM73 5h1v1h-1zM78 5h1v1h-1zM106 5h1v1h-1zM151 5h1v1h-1zM159 5h1v1h-1zM172 5h3v1h-3zM193 5h1v1h-1zM201 5h1v1h-1zM209 5h1v1h-1zM233 5h1v1h-1zM3 6h1v1h-1zM38 6h1v1h-1zM115 6h1v1h-1zM146 6h1v1h-1zM159 6h2v1h-2zM164 6h1v1h-1zM173 6h1v1h-1zM177 6h2v1h-2zM201 6h1v1h-1zM213 6h1v1h-1zM216 6h1v1h-1zM220 6h1v1h-1zM5 7h1v1h-1zM39 7h1v1h-1zM100 7h1v1h-1zM123 7h1v1h-1zM81 10h1v1h-1zM142 10h1v1h-1zM194 10h1v1h-1zM196 10h1v1h-1zM97 12h1v1h-1zM135 12h1v1h-1zM151 12h1v1h-1zM224 12h1v1h-1zM38 15h1v1h-1zM132 18h1v1h-1zM30 29h1v1h-1z"/><path fill="#ff7575" d="M29 0h2v1h-2zM56 0h1v1h-1zM87 0h1v1h-1zM128 0h1v1h-1zM135 0h1v1h-1zM140 0h1v1h-1zM177 0h1v1h-1zM179 0h1v1h-1zM186 0h1v1h-1zM211 0h1v1h-1zM218 0h1v1h-1zM234 0h1v1h-1zM41 1h1v1h-1zM61 1h1v1h-1zM73 1h1v1h-1zM89 1h1v1h-1zM94 1h1v1h-1zM96 1h1v1h-1zM118 1h1v1h-1zM120 1h1v1h-1zM123 1h1v1h-1zM125 1h2v1h-2zM142 1h1v1h-1zM150 1h1v1h-1zM167 1h1v1h-1zM174 1h1v1h-1zM181 1h1v1h-1zM185 1h1v1h-1zM189 1h1v1h-1zM202 1h1v1h-1zM211 1h1v1h-1zM214 1h1v1h-1zM216 1h2v1h-2zM219 1h1v1h-1zM226 1h1v1h-1zM229 1h1v1h-1zM20 2h1v1h-1zM22 2h1v1h-1zM37 2h1v1h-1zM39 2h1v1h-1zM44 2h1v1h-1zM50 2h1v1h-1zM53 2h1v1h-1zM64 2h1v1h-1zM70 2h1v1h-1zM110 2h1v1h-1zM112 2h2v1h-2zM115 2h1v1h-1zM117 2h1v1h-1zM119 2h1v1h-1zM121 2h1v1h-1zM123 2h1v1h-1zM138 2h1v1h-1zM144 2h1v1h-1zM156 2h1v1h-1zM169 2h1v1h-1zM174 2h1v1h-1zM182 2h1v1h-1zM184 2h1v1h-1zM221 2h1v1h-1zM227 2h1v1h-1zM229 2h2v1h-2zM23 3h1v1h-1zM31 3h1v1h-1zM37 3h1v1h-1zM61 3h1v1h-1zM74 3h1v1h-1zM97 3h1v1h-1zM99 3h1v1h-1zM111 3h1v1h-1zM120 3h1v1h-1zM145 3h1v1h-1zM156 3h1v1h-1zM190 3h1v1h-1zM219 3h1v1h-1zM226 3h2v1h-2zM239 3h1v1h-1zM23 4h2v1h-2zM39 4h1v1h-1zM56 4h1v1h-1zM59 4h1v1h-1zM70 4h1v1h-1zM108 4h1v1h-1zM118 4h1v1h-1zM146 4h1v1h-1zM149 4h1v1h-1zM193 4h1v1h-1zM11 5h1v1h-1zM40 5h1v1h-1zM53 5h1v1h-1zM79 5h1v1h-1zM90 5h1v1h-1zM98 5h1v1h-1zM113 5h1v1h-1zM119 5h1v1h-1zM127 5h1v1h-1zM132 5h1v1h-1zM146 5h1v1h-1zM150 5h1v1h-1zM66 6h1v1h-1zM78 6h1v1h-1zM111 6h1v1h-1zM113 6h1v1h-1zM121 6h1v1h-1zM130 6h1v1h-1zM145 6h1v1h-1zM152 6h1v1h-1zM180 6h1v1h-1zM28 7h1v1h-1zM142 7h1v1h-1zM192 7h1v1h-1zM6 8h1v1h-1zM14 8h1v1h-1zM206 9h1v1h-1zM60 10h1v1h-1zM82 10h1v1h-1zM155 10h1v1h-1zM74 11h1v1h-1z"/><path fill="#ff6a6a" d="M70 0h1v1h-1zM111 0h1v1h-1zM117 0h1v1h-1zM120 0h2v1h-2zM203 0h1v1h-1zM214 0h2v1h-2zM30 1h1v1h-1zM60 1h1v1h-1zM69 1h1v1h-1zM84 1h1v1h-1zM107 1h1v1h-1zM115 1h1v1h-1zM140 1h1v1h-1zM156 1h1v1h-1zM164 1h1v1h-1zM172 1h1v1h-1zM184 1h1v1h-1zM193 1h1v1h-1zM24 2h1v1h-1zM30 2h1v1h-1zM32 2h1v1h-1zM35 2h1v1h-1zM46 2h2v1h-2zM65 2h1v1h-1zM68 2h1v1h-1zM82 2h1v1h-1zM89 2h1v1h-1zM104 2h1v1h-1zM126 2h1v1h-1zM130 2h1v1h-1zM149 2h1v1h-1zM180 2h1v1h-1zM188 2h1v1h-1zM225 2h1v1h-1zM233 2h1v1h-1zM237 2h1v1h-1zM24 3h1v1h-1zM39 3h1v1h-1zM47 3h1v1h-1zM66 3h1v1h-1zM80 3h1v1h-1zM82 3h1v1h-1zM113 3h1v1h-1zM142 3h1v1h-1zM152 3h1v1h-1zM160 3h1v1h-1zM163 3h1v1h-1zM168 3h1v1h-1zM171 3h1v1h-1zM174 3h1v1h-1zM179 3h1v1h-1zM196 3h1v1h-1zM201 3h1v1h-1zM221 3h1v1h-1zM233 3h1v1h-1zM34 4h1v1h-1zM50 4h1v1h-1zM57 4h1v1h-1zM65 4h1v1h-1zM110 4h1v1h-1zM121 4h1v1h-1zM196 4h1v1h-1zM209 4h1v1h-1zM218 4h1v1h-1zM35 5h1v1h-1zM39 5h1v1h-1zM80 5h1v1h-1zM95 5h1v1h-1zM165 5h1v1h-1zM177 5h1v1h-1zM218 5h1v1h-1zM58 6h1v1h-1zM105 6h1v1h-1zM110 6h1v1h-1zM131 6h1v1h-1zM162 6h2v1h-2zM223 6h1v1h-1zM12 7h1v1h-1zM42 7h1v1h-1zM70 7h1v1h-1zM100 10h1v1h-1zM201 10h1v1h-1zM222 10h1v1h-1zM7 29h1v1h-1z"/><path fill="#ff6060" d="M27 0h1v1h-1zM69 0h1v1h-1zM151 0h1v1h-1zM174 0h1v1h-1zM184 0h1v1h-1zM207 0h1v1h-1zM210 0h1v1h-1zM27 1h1v1h-1zM51 1h1v1h-1zM56 1h1v1h-1zM62 1h1v1h-1zM80 1h1v1h-1zM102 1h1v1h-1zM104 1h1v1h-1zM183 1h1v1h-1zM206 1h1v1h-1zM213 1h1v1h-1zM232 1h1v1h-1zM19 2h1v1h-1zM36 2h1v1h-1zM38 2h1v1h-1zM45 2h1v1h-1zM87 2h1v1h-1zM102 2h1v1h-1zM142 2h1v1h-1zM164 2h1v1h-1zM183 2h1v1h-1zM219 2h1v1h-1zM223 2h1v1h-1zM238 2h1v1h-1zM25 3h1v1h-1zM28 3h1v1h-1zM30 3h1v1h-1zM41 3h1v1h-1zM59 3h1v1h-1zM64 3h2v1h-2zM69 3h1v1h-1zM81 3h1v1h-1zM94 3h1v1h-1zM101 3h1v1h-1zM131 3h2v1h-2zM146 3h2v1h-2zM185 3h1v1h-1zM203 3h1v1h-1zM214 3h1v1h-1zM225 3h1v1h-1zM66 4h1v1h-1zM87 4h1v1h-1zM116 4h1v1h-1zM151 4h1v1h-1zM163 4h1v1h-1zM194 4h1v1h-1zM200 4h1v1h-1zM109 5h1v1h-1zM140 5h1v1h-1zM152 5h1v1h-1zM205 5h1v1h-1zM8 6h1v1h-1zM26 6h2v1h-2zM70 6h1v1h-1zM80 6h1v1h-1zM123 6h1v1h-1zM183 6h1v1h-1zM195 6h1v1h-1zM210 6h1v1h-1zM0 7h1v1h-1zM62 7h1v1h-1zM167 7h1v1h-1zM13 9h1v1h-1zM99 10h1v1h-1zM122 10h1v1h-1zM149 18h1v1h-1zM4 34h1v1h-1z"/><path fill="#ff5555" d="M31 0h1v1h-1zM239 0h1v1h-1zM58 1h1v1h-1zM83 1h1v1h-1zM87 1h1v1h-1zM121 1h1v1h-1zM144 1h1v1h-1zM153 1h1v1h-1zM215 1h1v1h-1zM233 1h1v1h-1zM79 2h1v1h-1zM96 2h1v1h-1zM124 2h1v1h-1zM132 2h1v1h-1zM135 2h1v1h-1zM172 2h1v1h-1zM186 2h1v1h-1zM189 2h1v1h-1zM197 2h1v1h-1zM208 2h1v1h-1zM35 3h1v1h-1zM54 3h1v1h-1zM70 3h1v1h-1zM87 3h2v1h-2zM102 3h2v1h-2zM114 3h1v1h-1zM149 3h1v1h-1zM157 3h1v1h-1zM162 3h1v1h-1zM167 3h1v1h-1zM191 3h1v1h-1zM236 3h1v1h-1zM106 4h1v1h-1zM77 5h1v1h-1zM183 5h1v1h-1zM150 6h1v1h-1zM170 6h1v1h-1zM1 7h1v1h-1zM182 10h1v1h-1zM103 14h1v1h-1z"/><path fill="#ff4a4a" d="M55 0h1v1h-1zM101 0h1v1h-1zM152 0h1v1h-1zM232 0h1v1h-1zM24 1h1v1h-1zM29 1h1v1h-1zM35 1h1v1h-1zM98 1h1v1h-1zM119 1h1v1h-1zM124 1h1v1h-1zM132 1h1v1h-1zM134 1h1v1h-1zM137 1h1v1h-1zM157 1h1v1h-1zM159 1h1v1h-1zM178 1h1v1h-1zM180 1h1v1h-1zM18 2h1v1h-1zM27 2h1v1h-1zM125 2h1v1h-1zM148 2h1v1h-1zM170 2h1v1h-1zM200 2h2v1h-2zM214 2h1v1h-1zM34 3h1v1h-1zM108 3h1v1h-1zM115 3h1v1h-1zM118 3h1v1h-1zM124 3h1v1h-1zM161 3h1v1h-1zM182 3h1v1h-1zM188 3h1v1h-1zM194 3h1v1h-1zM207 3h1v1h-1zM224 3h1v1h-1zM232 3h1v1h-1zM234 3h1v1h-1zM36 4h1v1h-1zM81 6h1v1h-1zM186 6h1v1h-1zM10 7h1v1h-1z"/><path fill="#ff4040" d="M169 0h1v1h-1zM19 1h1v1h-1zM31 1h1v1h-1zM65 1h1v1h-1zM101 1h1v1h-1zM135 1h1v1h-1zM149 1h1v1h-1zM201 1h1v1h-1zM55 2h1v1h-1zM107 2h1v1h-1zM168 2h1v1h-1zM185 2h1v1h-1zM198 2h1v1h-1zM205 2h1v1h-1zM210 2h1v1h-1zM234 2h1v1h-1zM53 3h1v1h-1zM71 3h1v1h-1zM84 3h1v1h-1zM104 3h1v1h-1zM123 3h1v1h-1zM138 3h1v1h-1zM141 3h1v1h-1zM165 3h1v1h-1zM193 3h1v1h-1zM235 3h1v1h-1zM237 3h1v1h-1zM82 4h1v1h-1z"/><path fill="#ff3535" d="M103 1h1v1h-1zM109 1h1v1h-1zM129 1h2v1h-2zM34 2h1v1h-1zM98 2h1v1h-1zM105 2h1v1h-1zM202 2h1v1h-1zM228 2h1v1h-1zM42 3h1v1h-1zM116 3h1v1h-1zM137 3h1v1h-1zM172 3h1v1h-1zM180 3h1v1h-1zM200 3h1v1h-1zM204 3h1v1h-1zM122 5h1v1h-1zM12 8h1v1h-1z"/><path fill="#ff2a2a" d="M85 0h1v1h-1zM139 1h1v1h-1zM228 1h1v1h-1zM42 2h1v1h-1zM146 2h1v1h-1zM165 2h1v1h-1zM18 3h2v1h-2zM26 3h1v1h-1zM45 3h1v1h-1zM178 3h1v1h-1zM208 3h1v1h-1zM14 7h1v1h-1z"/><path fill="#ff2020" d="M222 2h1v1h-1zM40 3h1v1h-1zM44 3h1v1h-1zM57 3h2v1h-2zM63 3h1v1h-1zM134 3h1v1h-1zM164 3h1v1h-1zM192 3h1v1h-1z"/><path fill="#ff1515" d="M21 1h1v1h-1zM126 3h1v1h-1z"/><path fill="#ff0b0b" d="M39 1h1v1h-1z"/><path fill="#ff0000" d="M207 2h1v1h-1zM0 3h1v1h-1zM100 3h1v1h-1zM169 3h1v1h-1z"/></g></g></g>
<path d="M30.20 19.28H47.00M38.20 27.84H47.00M38.20 36.40H47.00M38.20 27.84V36.40M32.20 32.12H38.20M34.30 44.97H47.00M37.20 53.53H47.00M40.70 62.09H47.00M40.70 70.65H47.00M40.70 62.09V70.65M37.20 66.37H40.70M37.20 53.53V66.37M34.30 59.95H37.20M34.30 44.97V59.95M32.20 52.46H34.30M32.20 32.12V52.46M30.20 42.29H32.20M30.20 19.28V42.29M22.50 30.79H30.20M35.50 79.21H47.00M38.50 87.77H47.00M38.50 96.33H47.00M38.50 87.77V96.33M35.50 92.05H38.50M35.50 79.21V92.05M27.30 85.63H35.50M29.10 104.90H47.00M30.70 113.46H47.00M36.60 122.02H47.00M38.30 130.58H47.00M39.50 139.14H47.00M39.50 147.70H47.00M39.50 139.14V147.70M38.30 143.42H39.50M38.30 130.58V143.42M36.60 137.00H38.30M36.60 122.02V137.00M33.30 129.51H36.60M33.80 156.27H47.00M36.20 164.83H47.00M36.20 173.39H47.00M36.20 164.83V173.39M33.80 169.11H36.20M33.80 156.27V169.11M33.30 162.69H33.80M33.30 129.51V162.69M30.70 146.10H33.30M30.70 113.46V146.10M29.10 129.78H30.70M29.10 104.90V129.78M27.30 117.34H29.10M27.30 85.63V117.34M22.50 101.48H27.30M22.50 30.79V101.48M3.40 66.14H22.50M29.70 181.95H47.00M34.50 190.51H47.00M35.50 199.07H47.00M38.50 207.63H47.00M38.50 216.20H47.00M38.50 207.63V216.20M35.50 211.92H38.50M35.50 199.07V211.92M34.50 205.49H35.50M34.50 190.51V205.49M32.50 198.00H34.50M33.50 224.76H47.00M35.30 233.32H47.00M38.30 241.88H47.00M38.30 250.44H47.00M38.30 241.88V250.44M35.30 246.16H38.30M35.30 233.32V246.16M33.50 239.74H35.30M33.50 224.76V239.74M32.50 232.25H33.50M32.50 198.00V232.25M29.70 215.13H32.50M29.70 181.95V215.13M22.40 198.54H29.70M34.30 259.00H47.00M37.10 267.57H47.00M37.10 276.13H47.00M37.10 267.57V276.13M34.30 271.85H37.10M34.30 259.00V271.85M29.20 265.42H34.30M34.30 284.69H47.00M34.30 293.25H47.00M34.30 284.69V293.25M31.10 288.97H34.30M31.50 301.81H47.00M33.10 310.37H47.00M36.30 318.93H47.00M36.30 327.50H47.00M36.30 318.93V327.50M33.10 323.22H36.30M33.10 310.37V323.22M31.50 316.79H33.10M31.50 301.81V316.79M31.10 309.30H31.50M31.10 288.97V309.30M29.20 299.14H31.10M29.20 265.42V299.14M27.30 282.28H29.20M28.50 336.06H47.00M28.50 344.62H47.00M28.50 336.06V344.62M27.30 340.34H28.50M27.30 282.28V340.34M22.40 311.31H27.30M22.40 198.54V311.31M3.40 254.92H22.40M3.40 66.14V254.92" stroke="#4d4d4d" stroke-width="1" fill="none" stroke-linecap="square"/>
<g font-size="6.5" fill="#000"><text x="508" y="21.98">HOXB7</text><text x="508" y="30.54">HOXD11</text><text x="508" y="39.10">HOXD10</text><text x="508" y="47.67">HOXC13</text><text x="508" y="56.23">HOXA1</text><text x="508" y="64.79">HOXD8</text><text x="508" y="73.35">HOXD9</text><text x="508" y="81.91">HOXA3</text><text x="508" y="90.47">HOXB2</text><text x="508" y="99.03">HOXB3</text><text x="508" y="107.60">HOXC10</text><text x="508" y="116.16">HOXD13</text><text x="508" y="124.72">HOXC11</text><text x="508" y="133.28">HOXC4</text><text x="508" y="141.84">HOXC9</text><text x="508" y="150.40">HOXC6</text><text x="508" y="158.97">HOXC8</text><text x="508" y="167.53">HOXA5</text><text x="508" y="176.09">HOXA10</text><text x="508" y="184.65">HOXC12</text><text x="508" y="193.21">HOXA6</text><text x="508" y="201.77">HOXD1</text><text x="508" y="210.33">HOXD3</text><text x="508" y="218.90">HOXD4</text><text x="508" y="227.46">HOXB8</text><text x="508" y="236.02">HOXB1</text><text x="508" y="244.58">HOXD12</text><text x="508" y="253.14">HOXC5</text><text x="508" y="261.70">HOXB5</text><text x="508" y="270.27">HOXB4</text><text x="508" y="278.83">HOXB6</text><text x="508" y="287.39">HOXA13</text><text x="508" y="295.95">HOXA11</text><text x="508" y="304.51">HOXA7</text><text x="508" y="313.07">HOXA4</text><text x="508" y="321.63">HOXA2</text><text x="508" y="330.20">HOXA9</text><text x="508" y="338.76">HOXB13</text><text x="508" y="347.32">HOXB9</text></g>
<rect x="540.2" y="5.00" width="9" height="1.555" fill="#ff0303"/><rect x="540.2" y="6.25" width="9" height="1.555" fill="#ff0808"/><rect x="540.2" y="7.51" width="9" height="1.555" fill="#ff0d0d"/><rect x="540.2" y="8.77" width="9" height="1.555" fill="#ff1212"/><rect x="540.2" y="10.02" width="9" height="1.555" fill="#ff1717"/><rect x="540.2" y="11.28" width="9" height="1.555" fill="#ff1c1c"/><rect x="540.2" y="12.53" width="9" height="1.555" fill="#ff2121"/><rect x="540.2" y="13.79" width="9" height="1.555" fill="#ff2626"/><rect x="540.2" y="15.04" width="9" height="1.555" fill="#ff2b2b"/><rect x="540.2" y="16.30" width="9" height="1.555" fill="#ff3030"/><rect x="540.2" y="17.55" width="9" height="1.555" fill="#ff3636"/><rect x="540.2" y="18.80" width="9" height="1.555" fill="#ff3b3b"/><rect x="540.2" y="20.06" width="9" height="1.555" fill="#ff4040"/><rect x="540.2" y="21.32" width="9" height="1.555" fill="#ff4545"/><rect x="540.2" y="22.57" width="9" height="1.555" fill="#ff4a4a"/><rect x="540.2" y="23.82" width="9" height="1.555" fill="#ff4f4f"/><rect x="540.2" y="25.08" width="9" height="1.555" fill="#ff5454"/><rect x="540.2" y="26.34" width="9" height="1.555" fill="#ff5959"/><rect x="540.2" y="27.59" width="9" height="1.555" fill="#ff5e5e"/><rect x="540.2" y="28.84" width="9" height="1.555" fill="#ff6363"/><rect x="540.2" y="30.10" width="9" height="1.555" fill="#ff6969"/><rect x="540.2" y="31.36" width="9" height="1.555" fill="#ff6e6e"/><rect x="540.2" y="32.61" width="9" height="1.555" fill="#ff7373"/><rect x="540.2" y="33.86" width="9" height="1.555" fill="#ff7878"/><rect x="540.2" y="35.12" width="9" height="1.555" fill="#ff7d7d"/><rect x="540.2" y="36.38" width="9" height="1.555" fill="#ff8282"/><rect x="540.2" y="37.63" width="9" height="1.555" fill="#ff8787"/><rect x="540.2" y="38.88" width="9" height="1.555" fill="#ff8c8c"/><rect x="540.2" y="40.14" width="9" height="1.555" fill="#ff9191"/><rect x="540.2" y="41.40" width="9" height="1.555" fill="#ff9696"/><rect x="540.2" y="42.65" width="9" height="1.555" fill="#ff9c9c"/><rect x="540.2" y="43.91" width="9" height="1.555" fill="#ffa1a1"/><rect x="540.2" y="45.16" width="9" height="1.555" fill="#ffa6a6"/><rect x="540.2" y="46.41" width="9" height="1.555" fill="#ffabab"/><rect x="540.2" y="47.67" width="9" height="1.555" fill="#ffb0b0"/><rect x="540.2" y="48.92" width="9" height="1.555" fill="#ffb5b5"/><rect x="540.2" y="50.18" width="9" height="1.555" fill="#ffbaba"/><rect x="540.2" y="51.44" width="9" height="1.555" fill="#ffbfbf"/><rect x="540.2" y="52.69" width="9" height="1.555" fill="#ffc4c4"/><rect x="540.2" y="53.95" width="9" height="1.555" fill="#ffc9c9"/><rect x="540.2" y="55.20" width="9" height="1.555" fill="#ffcfcf"/><rect x="540.2" y="56.45" width="9" height="1.555" fill="#ffd4d4"/><rect x="540.2" y="57.71" width="9" height="1.555" fill="#ffd9d9"/><rect x="540.2" y="58.97" width="9" height="1.555" fill="#ffdede"/><rect x="540.2" y="60.22" width="9" height="1.555" fill="#ffe3e3"/><rect x="540.2" y="61.48" width="9" height="1.555" fill="#ffe8e8"/><rect x="540.2" y="62.73" width="9" height="1.555" fill="#ffeded"/><rect x="540.2" y="63.98" width="9" height="1.555" fill="#fff2f2"/><rect x="540.2" y="65.24" width="9" height="1.555" fill="#fff7f7"/><rect x="540.2" y="66.50" width="9" height="1.555" fill="#fffcfc"/><rect x="540.2" y="67.75" width="9" height="1.555" fill="#fcfcfe"/><rect x="540.2" y="69.00" width="9" height="1.555" fill="#f7f7fb"/><rect x="540.2" y="70.26" width="9" height="1.555" fill="#f2f2f9"/><rect x="540.2" y="71.52" width="9" height="1.555" fill="#ededf6"/><rect x="540.2" y="72.77" width="9" height="1.555" fill="#e8e8f4"/><rect x="540.2" y="74.03" width="9" height="1.555" fill="#e3e3f1"/><rect x="540.2" y="75.28" width="9" height="1.555" fill="#dedeee"/><rect x="540.2" y="76.53" width="9" height="1.555" fill="#d9d9ec"/><rect x="540.2" y="77.79" width="9" height="1.555" fill="#d4d4e9"/><rect x="540.2" y="79.05" width="9" height="1.555" fill="#cfcfe7"/><rect x="540.2" y="80.30" width="9" height="1.555" fill="#c9c9e4"/><rect x="540.2" y="81.56" width="9" height="1.555" fill="#c4c4e2"/><rect x="540.2" y="82.81" width="9" height="1.555" fill="#bfbfdf"/><rect x="540.2" y="84.06" width="9" height="1.555" fill="#babadd"/><rect x="540.2" y="85.32" width="9" height="1.555" fill="#b5b5da"/><rect x="540.2" y="86.58" width="9" height="1.555" fill="#b0b0d8"/><rect x="540.2" y="87.83" width="9" height="1.555" fill="#ababd5"/><rect x="540.2" y="89.08" width="9" height="1.555" fill="#a6a6d3"/><rect x="540.2" y="90.34" width="9" height="1.555" fill="#a1a1d0"/><rect x="540.2" y="91.59" width="9" height="1.555" fill="#9c9ccd"/><rect x="540.2" y="92.85" width="9" height="1.555" fill="#9696cb"/><rect x="540.2" y="94.11" width="9" height="1.555" fill="#9191c8"/><rect x="540.2" y="95.36" width="9" height="1.555" fill="#8c8cc6"/><rect x="540.2" y="96.61" width="9" height="1.555" fill="#8787c3"/><rect x="540.2" y="97.87" width="9" height="1.555" fill="#8282c1"/><rect x="540.2" y="99.12" width="9" height="1.555" fill="#7d7dbe"/><rect x="540.2" y="100.38" width="9" height="1.555" fill="#7878bc"/><rect x="540.2" y="101.64" width="9" height="1.555" fill="#7373b9"/><rect x="540.2" y="102.89" width="9" height="1.555" fill="#6e6eb7"/><rect x="540.2" y="104.14" width="9" height="1.555" fill="#6969b4"/><rect x="540.2" y="105.40" width="9" height="1.555" fill="#6363b2"/><rect x="540.2" y="106.66" width="9" height="1.555" fill="#5e5eaf"/><rect x="540.2" y="107.91" width="9" height="1.555" fill="#5959ac"/><rect x="540.2" y="109.17" width="9" height="1.555" fill="#5454aa"/><rect x="540.2" y="110.42" width="9" height="1.555" fill="#4f4fa7"/><rect x="540.2" y="111.67" width="9" height="1.555" fill="#4a4aa5"/><rect x="540.2" y="112.93" width="9" height="1.555" fill="#4545a2"/><rect x="540.2" y="114.19" width="9" height="1.555" fill="#4040a0"/><rect x="540.2" y="115.44" width="9" height="1.555" fill="#3b3b9d"/><rect x="540.2" y="116.69" width="9" height="1.555" fill="#36369b"/><rect x="540.2" y="117.95" width="9" height="1.555" fill="#303098"/><rect x="540.2" y="119.20" width="9" height="1.555" fill="#2b2b96"/><rect x="540.2" y="120.46" width="9" height="1.555" fill="#262693"/><rect x="540.2" y="121.72" width="9" height="1.555" fill="#212191"/><rect x="540.2" y="122.97" width="9" height="1.555" fill="#1c1c8e"/><rect x="540.2" y="124.22" width="9" height="1.555" fill="#17178b"/><rect x="540.2" y="125.48" width="9" height="1.555" fill="#121289"/><rect x="540.2" y="126.73" width="9" height="1.555" fill="#0d0d86"/><rect x="540.2" y="127.99" width="9" height="1.555" fill="#080884"/><rect x="540.2" y="129.25" width="9" height="1.555" fill="#030381"/>
<g font-size="6.5" fill="#000"><text x="552.6" y="132.90">0</text><text x="552.6" y="111.98">2</text><text x="552.6" y="91.07">4</text><text x="552.6" y="70.15">6</text><text x="552.6" y="49.23">8</text><text x="552.6" y="28.32">10</text><text x="552.6" y="7.40">12</text></g>
<text x="560.6" y="9.9" font-size="6.6" font-weight="bold" fill="#111">Group</text>
<g font-size="6.75" fill="#000"><rect x="560.3" y="12.20" width="9.8" height="9.6" fill="#F8857C"/><text x="572" y="20.00">Anterior floor of mouth</text><rect x="560.3" y="21.80" width="9.8" height="9.6" fill="#00BFF5"/><text x="572" y="29.60">Border of tongue</text><rect x="560.3" y="31.40" width="9.8" height="9.6" fill="#D4AE0E"/><text x="572" y="39.20">Cheek mucosa</text><rect x="560.3" y="41.00" width="9.8" height="9.6" fill="#F77DF0"/><text x="572" y="48.80">Floor of mouth, NOS</text><rect x="560.3" y="50.60" width="9.8" height="9.6" fill="#10D488"/><text x="572" y="58.40">Gum, NOS</text><rect x="560.3" y="60.20" width="9.8" height="9.6" fill="#A2A8F5"/><text x="572" y="68.00">Lip, NOS</text><rect x="560.3" y="69.80" width="9.8" height="9.6" fill="#16D6C2"/><text x="572" y="77.60">Lower gum</text><rect x="560.3" y="79.40" width="9.8" height="9.6" fill="#00D2F0"/><text x="572" y="87.20">Mouth, NOS</text><rect x="560.3" y="89.00" width="9.8" height="9.6" fill="#EE8CF2"/><text x="572" y="96.80">Normal</text><rect x="560.3" y="98.60" width="9.8" height="9.6" fill="#F8A135"/><text x="572" y="106.40">Retromolar area</text><rect x="560.3" y="108.20" width="9.8" height="9.6" fill="#4FCC3F"/><text x="572" y="116.00">Tongue, NOS</text><rect x="560.3" y="117.80" width="9.8" height="9.6" fill="#A4C20E"/><text x="572" y="125.60">Upper Gum</text><rect x="560.3" y="127.40" width="9.8" height="9.6" fill="#F581C4"/><text x="572" y="135.20">Ventral surface of tongue, NOS</text></g>
<text x="221.6" y="370.2" font-size="11.7" fill="#000">Differential Expression of HOX genes</text><text x="225.4" y="386.3" font-size="7.3" fill="#000">Primary Tumor vs Normal</text><path d="M134.5 512.6H502.8" stroke="#444" stroke-width="0.9" stroke-dasharray="4 2.3"/><path d="M276.5 541V396" stroke="#444" stroke-width="0.9" stroke-dasharray="4 2.1"/><path d="M360.3 541V396" stroke="#444" stroke-width="0.9" stroke-dasharray="4 2.1"/><path d="M134.4 396.6V541.6M133.9 541.4H502.8" stroke="#222" stroke-width="1.1" fill="none"/><path d="M129.5 535.10H134M129.5 501.90H134M129.5 468.70H134M129.5 435.50H134M129.5 402.30H134M150.80 541.4V545.6M234.50 541.4V545.6M318.20 541.4V545.6M401.90 541.4V545.6M485.60 541.4V545.6" stroke="#333" stroke-width="1.1"/><text x="125.6" y="539.80" text-anchor="end" font-size="12.8" fill="#4d4d4d">0.0</text><text x="125.6" y="506.60" text-anchor="end" font-size="12.8" fill="#4d4d4d">2.5</text><text x="125.6" y="473.40" text-anchor="end" font-size="12.8" fill="#4d4d4d">5.0</text><text x="125.6" y="440.20" text-anchor="end" font-size="12.8" fill="#4d4d4d">7.5</text><text x="125.6" y="407.00" text-anchor="end" font-size="12.8" fill="#4d4d4d">10.0</text><text x="150.80" y="558.4" text-anchor="middle" font-size="12.8" fill="#4d4d4d">-4</text><text x="234.50" y="558.4" text-anchor="middle" font-size="12.8" fill="#4d4d4d">-2</text><text x="318.20" y="558.4" text-anchor="middle" font-size="12.8" fill="#4d4d4d">0</text><text x="401.90" y="558.4" text-anchor="middle" font-size="12.8" fill="#4d4d4d">2</text><text x="485.60" y="558.4" text-anchor="middle" font-size="12.8" fill="#4d4d4d">4</text><text x="267.3" y="574.5" font-size="12.9" fill="#000">Log<tspan font-size="9.6" dy="2.2">2</tspan><tspan dy="-2.2"> Fold Change</tspan></text><text transform="translate(90.6 466.5) rotate(-90)" text-anchor="middle" font-size="13" fill="#000">−<tspan dx="1.5">Log</tspan><tspan font-size="9.6" dy="2.2">10</tspan><tspan dy="-2.2" font-style="italic"> P</tspan></text><circle cx="295.9" cy="534.8" r="2.85" fill="#4d4d4d"/><circle cx="306.3" cy="534.8" r="2.85" fill="#4d4d4d"/><circle cx="308.8" cy="534.8" r="2.85" fill="#4d4d4d"/><circle cx="319.4" cy="534.8" r="2.85" fill="#4d4d4d"/><circle cx="325.1" cy="534.8" r="2.85" fill="#4d4d4d"/><circle cx="329.6" cy="534.8" r="2.85" fill="#4d4d4d"/><circle cx="340.0" cy="534.8" r="2.85" fill="#4d4d4d"/><circle cx="355.8" cy="534.8" r="2.85" fill="#4d4d4d"/><circle cx="250.0" cy="521.5" r="2.85" fill="#228b22"/><circle cx="261.2" cy="531.7" r="2.85" fill="#228b22"/><circle cx="268.5" cy="533.0" r="2.85" fill="#228b22"/><circle cx="366.5" cy="534.7" r="2.85" fill="#228b22"/><circle cx="376.8" cy="529.1" r="2.85" fill="#228b22"/><circle cx="377.8" cy="533.0" r="2.85" fill="#228b22"/><circle cx="397.7" cy="525.2" r="2.85" fill="#228b22"/><circle cx="399.1" cy="520.5" r="2.85" fill="#228b22"/><circle cx="414.5" cy="527.2" r="2.85" fill="#228b22"/><circle cx="219.6" cy="487.9" r="2.85" fill="#ee0000"/><circle cx="227.5" cy="486.7" r="2.85" fill="#ee0000"/><circle cx="235.3" cy="506.2" r="2.85" fill="#ee0000"/><circle cx="464.0" cy="411.3" r="2.85" fill="#ee0000"/><circle cx="456.4" cy="432.4" r="2.85" fill="#ee0000"/><circle cx="442.7" cy="454.8" r="2.85" fill="#ee0000"/><circle cx="466.0" cy="454.5" r="2.85" fill="#ee0000"/><circle cx="429.5" cy="466.2" r="2.85" fill="#ee0000"/><circle cx="456.0" cy="465.5" r="2.85" fill="#ee0000"/><circle cx="475.8" cy="466.4" r="2.85" fill="#ee0000"/><circle cx="415.2" cy="477.7" r="2.85" fill="#ee0000"/><circle cx="466.3" cy="482.1" r="2.85" fill="#ee0000"/><circle cx="423.3" cy="484.8" r="2.85" fill="#ee0000"/><circle cx="411.7" cy="488.4" r="2.85" fill="#ee0000"/><circle cx="455.0" cy="489.2" r="2.85" fill="#ee0000"/><circle cx="414.3" cy="497.2" r="2.85" fill="#ee0000"/><circle cx="442.8" cy="497.8" r="2.85" fill="#ee0000"/><circle cx="450.6" cy="497.1" r="2.85" fill="#ee0000"/><circle cx="395.9" cy="511.3" r="2.85" fill="#ee0000"/><path d="M417.5 446L442.7 454.8M455 489.2L466.3 499M450.6 497.1L482.5 513.8" stroke="#111" stroke-width="0.8"/><rect x="467.5" y="399.3" width="30.4" height="9.1" rx="1.6" fill="#fff" stroke="#444" stroke-width="0.7"/><text x="482.70" y="406.10" text-anchor="middle" font-size="6.5" fill="#000">HOXD11</text><rect x="422.6" y="435.3" width="30.0" height="9.1" rx="1.6" fill="#fff" stroke="#444" stroke-width="0.7"/><text x="437.60" y="442.10" text-anchor="middle" font-size="6.5" fill="#000">HOXA10</text><rect x="387.1" y="440.5" width="30.4" height="9.0" rx="1.6" fill="#fff" stroke="#444" stroke-width="0.7"/><text x="402.30" y="447.25" text-anchor="middle" font-size="6.5" fill="#000">HOXC11</text><rect x="469.6" y="442.6" width="30.1" height="9.0" rx="1.6" fill="#fff" stroke="#444" stroke-width="0.7"/><text x="484.65" y="449.35" text-anchor="middle" font-size="6.5" fill="#000">HOXC10</text><rect x="399.4" y="455.0" width="26.2" height="9.3" rx="1.6" fill="#fff" stroke="#444" stroke-width="0.7"/><text x="412.50" y="461.90" text-anchor="middle" font-size="6.5" fill="#000">HOXC6</text><rect x="437.9" y="466.9" width="26.5" height="9.2" rx="1.6" fill="#fff" stroke="#444" stroke-width="0.7"/><text x="451.15" y="473.75" text-anchor="middle" font-size="6.5" fill="#000">HOXC8</text><rect x="384.5" y="469.6" width="26.9" height="8.7" rx="1.6" fill="#fff" stroke="#444" stroke-width="0.7"/><text x="397.95" y="476.20" text-anchor="middle" font-size="6.5" fill="#000">HOXA1</text><rect x="470.2" y="469.4" width="29.8" height="9.0" rx="1.6" fill="#fff" stroke="#444" stroke-width="0.7"/><text x="485.10" y="476.15" text-anchor="middle" font-size="6.5" fill="#000">HOXA11</text><rect x="418.4" y="474.5" width="26.6" height="9.1" rx="1.6" fill="#fff" stroke="#444" stroke-width="0.7"/><text x="431.70" y="481.30" text-anchor="middle" font-size="6.5" fill="#000">HOXC9</text><rect x="377.4" y="484.0" width="31.1" height="9.2" rx="1.6" fill="#fff" stroke="#444" stroke-width="0.7"/><text x="392.95" y="490.85" text-anchor="middle" font-size="6.5" fill="#000">HOXD10</text><rect x="416.2" y="485.6" width="30.1" height="8.9" rx="1.6" fill="#fff" stroke="#444" stroke-width="0.7"/><text x="431.25" y="492.30" text-anchor="middle" font-size="6.5" fill="#000">HOXD13</text><rect x="470.2" y="484.5" width="26.3" height="8.9" rx="1.6" fill="#fff" stroke="#444" stroke-width="0.7"/><text x="483.35" y="491.20" text-anchor="middle" font-size="6.5" fill="#000">HOXB9</text><rect x="384.3" y="498.6" width="25.8" height="9.4" rx="1.6" fill="#fff" stroke="#444" stroke-width="0.7"/><text x="397.20" y="505.55" text-anchor="middle" font-size="6.5" fill="#000">HOXB7</text><rect x="415.8" y="501.4" width="26.6" height="9.0" rx="1.6" fill="#fff" stroke="#444" stroke-width="0.7"/><text x="429.10" y="508.15" text-anchor="middle" font-size="6.5" fill="#000">HOXA6</text><rect x="454.5" y="499.2" width="26.3" height="9.0" rx="1.6" fill="#fff" stroke="#444" stroke-width="0.7"/><text x="467.65" y="505.95" text-anchor="middle" font-size="6.5" fill="#000">HOXA7</text><rect x="470.2" y="513.8" width="29.8" height="9.4" rx="1.6" fill="#fff" stroke="#444" stroke-width="0.7"/><text x="485.10" y="520.75" text-anchor="middle" font-size="6.5" fill="#000">HOXA13</text><rect x="365.4" y="513.7" width="26.9" height="9.5" rx="1.6" fill="#fff" stroke="#444" stroke-width="0.7"/><text x="378.85" y="520.70" text-anchor="middle" font-size="6.5" fill="#000">HOXC4</text><rect x="231.4" y="475.7" width="26.4" height="9.6" rx="1.6" fill="#fff" stroke="#444" stroke-width="0.7"/><text x="244.60" y="482.75" text-anchor="middle" font-size="6.5" fill="#000">HOXB2</text><rect x="189.3" y="489.7" width="26.4" height="9.7" rx="1.6" fill="#fff" stroke="#444" stroke-width="0.7"/><text x="202.50" y="496.80" text-anchor="middle" font-size="6.5" fill="#000">HOXB4</text><rect x="239.1" y="508.8" width="26.3" height="9.6" rx="1.6" fill="#fff" stroke="#444" stroke-width="0.7"/><text x="252.25" y="515.85" text-anchor="middle" font-size="6.5" fill="#000">HOXA2</text><circle cx="141.8" cy="610.5" r="4.4" fill="#4d4d4d"/><text x="156.1" y="614.2" font-size="10.2" fill="#000">Not sig.</text><circle cx="205.2" cy="610.5" r="4.4" fill="#228b22"/><text x="218.9" y="614.2" font-size="10.2" fill="#000">log2FC</text><circle cx="268.0" cy="610.5" r="4.4" fill="#4169e1"/><text x="281.6" y="614.2" font-size="10.2" fill="#000">adjusted p-value</text><circle cx="370.8" cy="610.5" r="4.4" fill="#ee0000"/><text x="385.1" y="614.2" font-size="10.2" fill="#000">adjusted p-value &amp; log2FC</text>
</svg>
</body></html>
